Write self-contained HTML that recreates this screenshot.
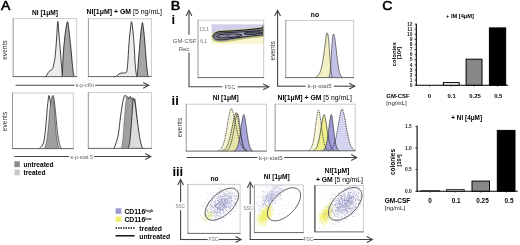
<!DOCTYPE html>
<html><head><meta charset="utf-8"><style>
html,body{margin:0;padding:0;background:#fff;width:520px;height:245px;overflow:hidden}
svg{display:block;filter:blur(0.35px)}
text{font-family:"Liberation Sans", sans-serif}
</style></head><body>
<svg width="520" height="245" viewBox="0 0 520 245">
<rect width="520" height="245" fill="#fff"/>
<text x="0" y="0" font-size="12.4" font-weight="normal" text-anchor="start" fill="#000" stroke="#000" stroke-width="0.55" transform="translate(0.9,9.8) scale(1.13,1)">A</text>
<text x="45" y="14.5" font-size="6.6" font-weight="bold" text-anchor="middle" fill="#000" >NI [1μM]</text>
<text x="86.6" y="14.3" font-size="6.95" fill="#000"><tspan font-weight="bold">NI[1μM] + GM </tspan><tspan>[5 ng/mL]</tspan></text>
<path d="M44.50,77.00 C44.80,76.83 45.67,76.75 46.30,76.00 C46.93,75.25 47.68,73.42 48.30,72.50 C48.92,71.58 49.47,70.92 50.00,70.50 C50.53,70.08 51.05,70.33 51.50,70.00 C51.95,69.67 52.28,69.67 52.70,68.50 C53.12,67.33 53.58,65.08 54.00,63.00 C54.42,60.92 54.78,59.83 55.20,56.00 C55.62,52.17 56.15,44.83 56.50,40.00 C56.85,35.17 57.10,30.08 57.30,27.00 C57.50,23.92 57.55,22.00 57.70,21.50 C57.85,21.00 57.98,21.75 58.20,24.00 C58.42,26.25 58.67,30.93 59.00,35.00 C59.33,39.07 59.83,43.90 60.20,48.40 C60.57,52.90 60.85,57.73 61.20,62.00 C61.55,66.27 62.00,71.50 62.30,74.00 C62.60,76.50 62.88,76.50 63.00,77.00 Z" fill="#ececec" stroke="none"/>
<path d="M44.50,77.00 C44.80,76.83 45.67,76.75 46.30,76.00 C46.93,75.25 47.68,73.42 48.30,72.50 C48.92,71.58 49.47,70.92 50.00,70.50 C50.53,70.08 51.05,70.33 51.50,70.00 C51.95,69.67 52.28,69.67 52.70,68.50 C53.12,67.33 53.58,65.08 54.00,63.00 C54.42,60.92 54.78,59.83 55.20,56.00 C55.62,52.17 56.15,44.83 56.50,40.00 C56.85,35.17 57.10,30.08 57.30,27.00 C57.50,23.92 57.55,22.00 57.70,21.50 C57.85,21.00 57.98,21.75 58.20,24.00 C58.42,26.25 58.67,30.93 59.00,35.00 C59.33,39.07 59.83,43.90 60.20,48.40 C60.57,52.90 60.85,57.73 61.20,62.00 C61.55,66.27 62.00,71.50 62.30,74.00 C62.60,76.50 62.88,76.50 63.00,77.00" fill="none" stroke="#111" stroke-width="0.8" />
<path d="M61.50,77.00 C61.63,76.50 62.00,77.93 62.30,74.00 C62.60,70.07 62.93,59.07 63.30,53.40 C63.67,47.73 64.05,44.23 64.50,40.00 C64.95,35.77 65.53,31.00 66.00,28.00 C66.47,25.00 66.97,22.83 67.30,22.00 C67.63,21.17 67.72,21.50 68.00,23.00 C68.28,24.50 68.60,27.62 69.00,31.00 C69.40,34.38 69.98,39.30 70.40,43.30 C70.82,47.30 71.15,51.22 71.50,55.00 C71.85,58.78 72.17,62.83 72.50,66.00 C72.83,69.17 73.20,72.17 73.50,74.00 C73.80,75.83 74.17,76.50 74.30,77.00 Z" fill="#a6a6a6" stroke="none"/>
<path d="M61.50,77.00 C61.63,76.50 62.00,77.93 62.30,74.00 C62.60,70.07 62.93,59.07 63.30,53.40 C63.67,47.73 64.05,44.23 64.50,40.00 C64.95,35.77 65.53,31.00 66.00,28.00 C66.47,25.00 66.97,22.83 67.30,22.00 C67.63,21.17 67.72,21.50 68.00,23.00 C68.28,24.50 68.60,27.62 69.00,31.00 C69.40,34.38 69.98,39.30 70.40,43.30 C70.82,47.30 71.15,51.22 71.50,55.00 C71.85,58.78 72.17,62.83 72.50,66.00 C72.83,69.17 73.20,72.17 73.50,74.00 C73.80,75.83 74.17,76.50 74.30,77.00" fill="none" stroke="#111" stroke-width="0.8" />
<line x1="13.2" y1="18.6" x2="76.7" y2="18.6" stroke="#b4b4b4" stroke-width="0.7" />
<line x1="76.7" y1="18.6" x2="76.7" y2="76.6" stroke="#b4b4b4" stroke-width="0.7" />
<line x1="13.2" y1="18.25" x2="13.2" y2="76.6" stroke="#8c8c8c" stroke-width="0.9" />
<line x1="12.75" y1="76.6" x2="77.05" y2="76.6" stroke="#555" stroke-width="0.9" />
<path d="M114.00,77.00 C114.38,76.87 115.30,76.80 116.30,76.20 C117.30,75.60 118.88,73.93 120.00,73.40 C121.12,72.87 121.92,73.20 123.00,73.00 C124.08,72.80 125.72,73.77 126.50,72.20 C127.28,70.63 127.28,68.42 127.70,63.60 C128.12,58.78 128.53,49.23 129.00,43.30 C129.47,37.37 130.08,31.60 130.50,28.00 C130.92,24.40 131.17,21.87 131.50,21.70 C131.83,21.53 132.08,23.40 132.50,27.00 C132.92,30.60 133.53,36.80 134.00,43.30 C134.47,49.80 134.87,60.60 135.30,66.00 C135.73,71.40 136.32,73.87 136.60,75.70 C136.88,77.53 136.93,76.78 137.00,77.00 Z" fill="#ececec" stroke="none"/>
<path d="M114.00,77.00 C114.38,76.87 115.30,76.80 116.30,76.20 C117.30,75.60 118.88,73.93 120.00,73.40 C121.12,72.87 121.92,73.20 123.00,73.00 C124.08,72.80 125.72,73.77 126.50,72.20 C127.28,70.63 127.28,68.42 127.70,63.60 C128.12,58.78 128.53,49.23 129.00,43.30 C129.47,37.37 130.08,31.60 130.50,28.00 C130.92,24.40 131.17,21.87 131.50,21.70 C131.83,21.53 132.08,23.40 132.50,27.00 C132.92,30.60 133.53,36.80 134.00,43.30 C134.47,49.80 134.87,60.60 135.30,66.00 C135.73,71.40 136.32,73.87 136.60,75.70 C136.88,77.53 136.93,76.78 137.00,77.00" fill="none" stroke="#111" stroke-width="0.8" />
<path d="M136.80,77.00 C136.88,76.78 137.13,77.10 137.30,75.70 C137.47,74.30 137.37,74.00 137.80,68.60 C138.23,63.20 139.32,49.90 139.90,43.30 C140.48,36.70 140.88,32.45 141.30,29.00 C141.72,25.55 142.03,22.60 142.40,22.60 C142.77,22.60 143.08,25.55 143.50,29.00 C143.92,32.45 144.37,37.13 144.90,43.30 C145.43,49.47 146.18,60.60 146.70,66.00 C147.22,71.40 147.68,73.87 148.00,75.70 C148.32,77.53 148.50,76.78 148.60,77.00 Z" fill="#a6a6a6" stroke="none"/>
<path d="M136.80,77.00 C136.88,76.78 137.13,77.10 137.30,75.70 C137.47,74.30 137.37,74.00 137.80,68.60 C138.23,63.20 139.32,49.90 139.90,43.30 C140.48,36.70 140.88,32.45 141.30,29.00 C141.72,25.55 142.03,22.60 142.40,22.60 C142.77,22.60 143.08,25.55 143.50,29.00 C143.92,32.45 144.37,37.13 144.90,43.30 C145.43,49.47 146.18,60.60 146.70,66.00 C147.22,71.40 147.68,73.87 148.00,75.70 C148.32,77.53 148.50,76.78 148.60,77.00" fill="none" stroke="#111" stroke-width="0.8" />
<line x1="88.4" y1="18.7" x2="151.4" y2="18.7" stroke="#b4b4b4" stroke-width="0.7" />
<line x1="151.4" y1="18.7" x2="151.4" y2="76.6" stroke="#b4b4b4" stroke-width="0.7" />
<line x1="88.4" y1="18.349999999999998" x2="88.4" y2="76.6" stroke="#8c8c8c" stroke-width="0.9" />
<line x1="87.95" y1="76.6" x2="151.75" y2="76.6" stroke="#555" stroke-width="0.9" />
<text x="0" y="0" font-size="6.6" font-weight="normal" text-anchor="middle" fill="#333" transform="translate(7.1,50.1) rotate(-90)">events</text>
<line x1="15.6" y1="85.3" x2="148.8" y2="85.3" stroke="#444" stroke-width="1.1" />
<path d="M143.20000000000002,82.39999999999999 L148.8,85.3 L143.20000000000002,88.2" fill="none" stroke="#444" stroke-width="1.1"/>
<rect x="74.55" y="81.86" width="20.5" height="5.940000000000001" fill="#fff" stroke="none" stroke-width="1" />
<text x="84.8" y="86.99" font-size="5.4" font-weight="normal" text-anchor="middle" fill="#666" >κ-p-cKit</text>
<path d="M38.50,148.60 C38.75,148.47 39.18,148.70 40.00,147.80 C40.82,146.90 42.50,146.08 43.40,143.20 C44.30,140.32 44.78,135.98 45.40,130.50 C46.02,125.02 46.62,115.55 47.10,110.30 C47.58,105.05 48.00,101.45 48.30,99.00 C48.60,96.55 48.70,95.93 48.90,95.60 C49.10,95.27 49.23,95.77 49.50,97.00 C49.77,98.23 50.08,100.00 50.50,103.00 C50.92,106.00 51.50,110.50 52.00,115.00 C52.50,119.50 53.00,125.50 53.50,130.00 C54.00,134.50 54.50,138.90 55.00,142.00 C55.50,145.10 56.25,147.50 56.50,148.60 Z" fill="#f6f6f6" stroke="none"/>
<path d="M38.50,148.60 C38.75,148.47 39.18,148.70 40.00,147.80 C40.82,146.90 42.50,146.08 43.40,143.20 C44.30,140.32 44.78,135.98 45.40,130.50 C46.02,125.02 46.62,115.55 47.10,110.30 C47.58,105.05 48.00,101.45 48.30,99.00 C48.60,96.55 48.70,95.93 48.90,95.60 C49.10,95.27 49.23,95.77 49.50,97.00 C49.77,98.23 50.08,100.00 50.50,103.00 C50.92,106.00 51.50,110.50 52.00,115.00 C52.50,119.50 53.00,125.50 53.50,130.00 C54.00,134.50 54.50,138.90 55.00,142.00 C55.50,145.10 56.25,147.50 56.50,148.60" fill="none" stroke="#111" stroke-width="0.8" />
<path d="M46.00,148.60 C46.33,147.67 47.42,146.02 48.00,143.00 C48.58,139.98 49.03,135.95 49.50,130.50 C49.97,125.05 50.38,115.55 50.80,110.30 C51.22,105.05 51.65,101.42 52.00,99.00 C52.35,96.58 52.60,95.97 52.90,95.80 C53.20,95.63 53.38,95.58 53.80,98.00 C54.22,100.42 54.82,104.88 55.40,110.30 C55.98,115.72 56.65,125.02 57.30,130.50 C57.95,135.98 58.63,140.25 59.30,143.20 C59.97,146.15 60.85,147.30 61.30,148.20 C61.75,149.10 61.88,148.53 62.00,148.60 Z" fill="#d0d0d0" stroke="none"/>
<path d="M46.00,148.60 C46.33,147.67 47.42,146.02 48.00,143.00 C48.58,139.98 49.03,135.95 49.50,130.50 C49.97,125.05 50.38,115.55 50.80,110.30 C51.22,105.05 51.65,101.42 52.00,99.00 C52.35,96.58 52.60,95.97 52.90,95.80 C53.20,95.63 53.38,95.58 53.80,98.00 C54.22,100.42 54.82,104.88 55.40,110.30 C55.98,115.72 56.65,125.02 57.30,130.50 C57.95,135.98 58.63,140.25 59.30,143.20 C59.97,146.15 60.85,147.30 61.30,148.20 C61.75,149.10 61.88,148.53 62.00,148.60" fill="none" stroke="#222" stroke-width="0.7" />
<path d="M44.50,148.60 C44.80,147.67 45.70,146.02 46.30,143.00 C46.90,139.98 47.52,135.95 48.10,130.50 C48.68,125.05 49.23,115.55 49.80,110.30 C50.37,105.05 51.02,101.45 51.50,99.00 C51.98,96.55 52.38,95.77 52.70,95.60 C53.02,95.43 53.12,95.55 53.40,98.00 C53.68,100.45 54.00,104.88 54.40,110.30 C54.80,115.72 55.32,125.02 55.80,130.50 C56.28,135.98 56.80,140.25 57.30,143.20 C57.80,146.15 58.43,147.30 58.80,148.20 C59.17,149.10 59.38,148.53 59.50,148.60 Z" fill="#a0a0a0" stroke="none"/>
<path d="M44.50,148.60 C44.80,147.67 45.70,146.02 46.30,143.00 C46.90,139.98 47.52,135.95 48.10,130.50 C48.68,125.05 49.23,115.55 49.80,110.30 C50.37,105.05 51.02,101.45 51.50,99.00 C51.98,96.55 52.38,95.77 52.70,95.60 C53.02,95.43 53.12,95.55 53.40,98.00 C53.68,100.45 54.00,104.88 54.40,110.30 C54.80,115.72 55.32,125.02 55.80,130.50 C56.28,135.98 56.80,140.25 57.30,143.20 C57.80,146.15 58.43,147.30 58.80,148.20 C59.17,149.10 59.38,148.53 59.50,148.60" fill="none" stroke="#333" stroke-width="0.5" />
<line x1="12.5" y1="93.0" x2="73.4" y2="93.0" stroke="#b4b4b4" stroke-width="0.7" />
<line x1="73.4" y1="93.0" x2="73.4" y2="148.6" stroke="#b4b4b4" stroke-width="0.7" />
<line x1="12.5" y1="92.65" x2="12.5" y2="148.6" stroke="#8c8c8c" stroke-width="0.9" />
<line x1="12.05" y1="148.6" x2="73.75" y2="148.6" stroke="#555" stroke-width="0.9" />
<path d="M113.80,148.40 C113.88,148.28 113.58,149.83 114.30,147.70 C115.02,145.57 117.03,141.00 118.10,135.60 C119.17,130.20 119.85,121.22 120.70,115.30 C121.55,109.38 122.45,103.47 123.20,100.10 C123.95,96.73 124.67,95.53 125.20,95.10 C125.73,94.67 125.98,97.22 126.40,97.50 C126.82,97.78 127.27,96.55 127.70,96.80 C128.13,97.05 128.57,99.08 129.00,99.00 C129.43,98.92 129.88,96.30 130.30,96.30 C130.72,96.30 131.13,98.22 131.50,99.00 C131.87,99.78 132.17,98.33 132.50,101.00 C132.83,103.67 133.17,110.17 133.50,115.00 C133.83,119.83 134.17,125.50 134.50,130.00 C134.83,134.50 135.17,138.93 135.50,142.00 C135.83,145.07 136.33,147.33 136.50,148.40 Z" fill="#fafafa" stroke="none"/>
<path d="M113.80,148.40 C113.88,148.28 113.58,149.83 114.30,147.70 C115.02,145.57 117.03,141.00 118.10,135.60 C119.17,130.20 119.85,121.22 120.70,115.30 C121.55,109.38 122.45,103.47 123.20,100.10 C123.95,96.73 124.67,95.53 125.20,95.10 C125.73,94.67 125.98,97.22 126.40,97.50 C126.82,97.78 127.27,96.55 127.70,96.80 C128.13,97.05 128.57,99.08 129.00,99.00 C129.43,98.92 129.88,96.30 130.30,96.30 C130.72,96.30 131.13,98.22 131.50,99.00 C131.87,99.78 132.17,98.33 132.50,101.00 C132.83,103.67 133.17,110.17 133.50,115.00 C133.83,119.83 134.17,125.50 134.50,130.00 C134.83,134.50 135.17,138.93 135.50,142.00 C135.83,145.07 136.33,147.33 136.50,148.40" fill="none" stroke="#111" stroke-width="0.8" />
<path d="M121.30,148.40 C121.55,147.00 122.30,144.73 122.80,140.00 C123.30,135.27 123.80,126.17 124.30,120.00 C124.80,113.83 125.30,106.83 125.80,103.00 C126.30,99.17 126.83,97.67 127.30,97.00 C127.77,96.33 128.17,99.00 128.60,99.00 C129.03,99.00 129.45,96.83 129.90,97.00 C130.35,97.17 130.85,99.92 131.30,100.00 C131.75,100.08 132.17,97.50 132.60,97.50 C133.03,97.50 133.48,99.75 133.90,100.00 C134.32,100.25 134.70,97.33 135.10,99.00 C135.50,100.67 135.90,105.67 136.30,110.00 C136.70,114.33 137.08,120.00 137.50,125.00 C137.92,130.00 138.25,136.10 138.80,140.00 C139.35,143.90 140.47,147.00 140.80,148.40 Z" fill="#a0a0a0" stroke="none"/>
<path d="M121.30,148.40 C121.55,147.00 122.30,144.73 122.80,140.00 C123.30,135.27 123.80,126.17 124.30,120.00 C124.80,113.83 125.30,106.83 125.80,103.00 C126.30,99.17 126.83,97.67 127.30,97.00 C127.77,96.33 128.17,99.00 128.60,99.00 C129.03,99.00 129.45,96.83 129.90,97.00 C130.35,97.17 130.85,99.92 131.30,100.00 C131.75,100.08 132.17,97.50 132.60,97.50 C133.03,97.50 133.48,99.75 133.90,100.00 C134.32,100.25 134.70,97.33 135.10,99.00 C135.50,100.67 135.90,105.67 136.30,110.00 C136.70,114.33 137.08,120.00 137.50,125.00 C137.92,130.00 138.25,136.10 138.80,140.00 C139.35,143.90 140.47,147.00 140.80,148.40" fill="none" stroke="#333" stroke-width="0.4" />
<path d="M128.50,148.40 C128.75,147.00 129.45,145.07 130.00,140.00 C130.55,134.93 131.30,124.50 131.80,118.00 C132.30,111.50 132.63,104.18 133.00,101.00 C133.37,97.82 133.63,98.40 134.00,98.90 C134.37,99.40 134.77,101.27 135.20,104.00 C135.63,106.73 135.97,110.47 136.60,115.30 C137.23,120.13 138.30,128.38 139.00,133.00 C139.70,137.62 140.23,140.55 140.80,143.00 C141.37,145.45 141.98,146.80 142.40,147.70 C142.82,148.60 143.15,148.28 143.30,148.40 Z" fill="#dcdcdc" stroke="none"/>
<path d="M128.50,148.40 C128.75,147.00 129.45,145.07 130.00,140.00 C130.55,134.93 131.30,124.50 131.80,118.00 C132.30,111.50 132.63,104.18 133.00,101.00 C133.37,97.82 133.63,98.40 134.00,98.90 C134.37,99.40 134.77,101.27 135.20,104.00 C135.63,106.73 135.97,110.47 136.60,115.30 C137.23,120.13 138.30,128.38 139.00,133.00 C139.70,137.62 140.23,140.55 140.80,143.00 C141.37,145.45 141.98,146.80 142.40,147.70 C142.82,148.60 143.15,148.28 143.30,148.40" fill="none" stroke="#111" stroke-width="0.8" />
<line x1="88.3" y1="92.6" x2="151.5" y2="92.6" stroke="#b4b4b4" stroke-width="0.7" />
<line x1="151.5" y1="92.6" x2="151.5" y2="148.4" stroke="#b4b4b4" stroke-width="0.7" />
<line x1="88.3" y1="92.25" x2="88.3" y2="148.4" stroke="#8c8c8c" stroke-width="0.9" />
<line x1="87.85" y1="148.4" x2="151.85" y2="148.4" stroke="#555" stroke-width="0.9" />
<text x="0" y="0" font-size="6.6" font-weight="normal" text-anchor="middle" fill="#333" transform="translate(7.1,121.5) rotate(-90)">events</text>
<line x1="14.4" y1="156.5" x2="150.8" y2="156.5" stroke="#444" stroke-width="1.1" />
<path d="M145.20000000000002,153.6 L150.8,156.5 L145.20000000000002,159.4" fill="none" stroke="#444" stroke-width="1.1"/>
<rect x="69.2" y="153.45999999999998" width="25" height="5.940000000000001" fill="#fff" stroke="none" stroke-width="1" />
<text x="81.7" y="158.58999999999997" font-size="5.4" font-weight="normal" text-anchor="middle" fill="#666" >κ-p-stat 5</text>
<rect x="14.4" y="161.3" width="5.4" height="5.8" fill="#8a8a8a" stroke="none" stroke-width="1" />
<rect x="14.4" y="169.6" width="5.4" height="5.8" fill="#c8c8c8" stroke="none" stroke-width="1" />
<text x="23.5" y="166.9" font-size="6.6" font-weight="bold" text-anchor="start" fill="#000" >untreated</text>
<text x="23.5" y="175.2" font-size="6.6" font-weight="bold" text-anchor="start" fill="#000" >treated</text>
<text x="0" y="0" font-size="12.4" font-weight="normal" text-anchor="start" fill="#000" stroke="#000" stroke-width="0.6" transform="translate(170.8,9.7) scale(1.15,1)">B</text>
<text x="171.6" y="24.0" font-size="13" font-weight="bold" text-anchor="start" fill="#000" >i</text>
<rect x="211.6" y="24.3" width="52.1" height="9" fill="#d0d0ea" stroke="none" stroke-width="1" />
<rect x="211.6" y="33.3" width="52.1" height="10.6" fill="#f7f7d0" stroke="none" stroke-width="1" />
<path d="M212.3,37 C212.3,33 216,31.3 224,31 C236,30.6 250,29.5 263.5,27.6 L263.5,36.4 C250,37.5 238,39.6 226,41.3 C217,42.4 212.3,41.2 212.3,37 Z" fill="#8484a4" stroke="#c4c470" stroke-width="1.3"/>
<path d="M212.8,37 C212.8,33.3 216,31.6 224,31.3 C236,30.9 250,29.8 263.5,27.9" fill="none" stroke="#111" stroke-width="1.0"/>
<path d="M214.6,36.9 C214.6,34.2 218,33 226,32.7 C238,32.3 250,31.4 262.8,30.2 L262.8,34.8 C250,35.9 238,37.7 226,39.3 C218,40.3 214.6,39.7 214.6,36.9 Z" fill="#a8a8b8" stroke="#111" stroke-width="0.8"/>
<path d="M216.5,36.8 C216.5,35.1 220,34.2 228,34 C236,33.8 242,33.9 242,35.2 C242,36.5 236,37.2 228,37.8 C220,38.3 216.5,38.3 216.5,36.8 Z" fill="#70708a" stroke="#000" stroke-width="0.7"/>
<path d="M244,33.6 C244,32.6 248,32.1 253,31.9 C258,31.7 262,31.6 262,32.7 C262,33.6 257,34.1 252,34.4 C247,34.7 244,34.6 244,33.6 Z" fill="#60607a" stroke="#000" stroke-width="0.7"/>
<path d="M220,36.3 L226,35.8 M230,35.4 L236,35.2" stroke="#c8c8d4" stroke-width="0.6"/>
<path d="M261,28.2 L263.5,24.5 L263.5,33 Z" fill="#555"/>
<line x1="198" y1="20.2" x2="263.7" y2="20.2" stroke="#b4b4b4" stroke-width="0.7" />
<line x1="263.7" y1="20.2" x2="263.7" y2="77.6" stroke="#b4b4b4" stroke-width="0.7" />
<line x1="198" y1="19.849999999999998" x2="198" y2="77.6" stroke="#8c8c8c" stroke-width="0.9" />
<line x1="197.55" y1="77.6" x2="264.05" y2="77.6" stroke="#555" stroke-width="0.9" />
<rect x="199" y="26.5" width="11" height="5" fill="#fff" stroke="none" stroke-width="1" />
<text x="199.3" y="31" font-size="5.0" font-weight="normal" text-anchor="start" fill="#777" >13,1</text>
<rect x="199.5" y="38.5" width="9" height="5" fill="#fff" stroke="none" stroke-width="1" />
<text x="200.2" y="42.7" font-size="5.0" font-weight="normal" text-anchor="start" fill="#777" >6,1</text>
<line x1="189" y1="10.4" x2="189" y2="34.8" stroke="#444" stroke-width="1.1" />
<path d="M186.1,16.0 L189,10.4 L191.9,16.0" fill="none" stroke="#444" stroke-width="1.1"/>
<line x1="189" y1="52.5" x2="189" y2="86.8" stroke="#444" stroke-width="1.1" />
<line x1="188.45" y1="86.8" x2="222.5" y2="86.8" stroke="#444" stroke-width="1.1" />
<line x1="237.5" y1="86.8" x2="268.8" y2="86.8" stroke="#444" stroke-width="1.1" />
<path d="M263.2,83.89999999999999 L268.8,86.8 L263.2,89.7" fill="none" stroke="#444" stroke-width="1.1"/>
<text x="230" y="88.8" font-size="5.6" font-weight="normal" text-anchor="middle" fill="#666" >FSC</text>
<text x="184.6" y="42.7" font-size="6.0" font-weight="normal" text-anchor="middle" fill="#555" >GM-CSF</text>
<text x="184.8" y="50.8" font-size="6.0" font-weight="normal" text-anchor="middle" fill="#555" >Rec.</text>
<text x="315" y="16.8" font-size="6.8" font-weight="bold" text-anchor="middle" fill="#000" >no</text>
<path d="M315.39,77.06 C315.39,77.15 315.32,77.62 315.39,77.60 C315.45,77.58 315.65,77.07 315.79,76.93 C315.92,76.79 316.05,76.83 316.19,76.77 C316.32,76.71 316.45,76.64 316.59,76.57 C316.72,76.50 316.85,76.42 316.99,76.33 C317.12,76.24 317.25,76.14 317.39,76.04 C317.52,75.93 317.65,75.82 317.79,75.69 C317.92,75.56 318.05,75.42 318.19,75.27 C318.32,75.11 318.45,74.95 318.59,74.77 C318.72,74.58 318.85,74.39 318.99,74.17 C319.12,73.96 319.25,73.73 319.39,73.47 C319.52,73.22 319.65,72.95 319.79,72.65 C319.92,72.35 320.05,72.04 320.19,71.69 C320.32,71.35 320.45,70.98 320.59,70.58 C320.72,70.18 320.85,69.76 320.99,69.30 C321.12,68.84 321.25,68.35 321.39,67.83 C321.52,67.31 321.65,66.76 321.79,66.17 C321.92,65.58 322.05,64.96 322.19,64.29 C322.32,63.63 322.45,62.93 322.59,62.20 C322.72,61.46 322.85,60.69 322.99,59.88 C323.12,59.07 323.25,58.22 323.39,57.34 C323.52,56.46 323.65,55.54 323.79,54.60 C323.92,53.65 324.05,52.67 324.19,51.66 C324.32,50.66 324.45,49.62 324.59,48.58 C324.72,47.54 324.85,46.46 324.99,45.40 C325.12,44.34 325.25,43.26 325.39,42.21 C325.52,41.16 325.65,40.11 325.79,39.12 C325.92,38.13 326.05,37.14 326.19,36.28 C326.32,35.42 326.47,34.52 326.59,33.96 C326.70,33.39 326.83,33.08 326.90,32.90 C326.97,32.72 326.90,32.87 326.99,32.90 C327.07,32.94 327.25,32.93 327.39,33.12 C327.52,33.31 327.65,33.56 327.79,34.05 C327.92,34.54 328.05,35.18 328.19,36.06 C328.32,36.94 328.45,38.04 328.59,39.33 C328.72,40.63 328.85,42.17 328.99,43.83 C329.12,45.48 329.25,47.37 329.39,49.26 C329.52,51.15 329.65,53.21 329.79,55.16 C329.92,57.11 330.05,59.13 330.19,60.95 C330.32,62.77 330.45,64.55 330.59,66.10 C330.72,67.65 330.85,69.06 330.99,70.26 C331.12,71.45 331.25,72.45 331.39,73.29 C331.52,74.13 331.65,74.76 331.79,75.29 C331.92,75.82 332.06,76.09 332.19,76.48 C332.31,76.86 332.48,77.41 332.54,77.60 Z" fill="#f0f0c4" stroke="none"/>
<path d="M328.90,77.08 C328.90,77.16 328.84,77.73 328.90,77.60 C328.97,77.47 329.17,76.78 329.30,76.30 C329.44,75.83 329.57,75.47 329.70,74.76 C329.84,74.06 329.97,73.21 330.10,72.08 C330.24,70.95 330.37,69.58 330.50,67.97 C330.64,66.37 330.77,64.46 330.90,62.45 C331.04,60.44 331.17,58.14 331.30,55.92 C331.44,53.70 331.57,51.29 331.70,49.14 C331.84,46.99 331.97,44.82 332.10,43.01 C332.24,41.21 332.37,39.57 332.50,38.30 C332.64,37.03 332.77,36.08 332.90,35.38 C333.04,34.69 333.19,34.39 333.30,34.16 C333.42,33.93 333.53,34.02 333.60,34.00 C333.67,33.98 333.62,33.90 333.70,34.04 C333.79,34.18 333.97,34.43 334.10,34.84 C334.24,35.25 334.37,35.83 334.50,36.50 C334.64,37.17 334.77,37.99 334.90,38.88 C335.04,39.76 335.17,40.76 335.30,41.81 C335.44,42.85 335.57,43.98 335.70,45.13 C335.84,46.27 335.97,47.48 336.10,48.67 C336.24,49.86 336.37,51.09 336.50,52.28 C336.64,53.48 336.77,54.68 336.90,55.84 C337.04,56.99 337.17,58.13 337.30,59.21 C337.44,60.29 337.57,61.34 337.70,62.33 C337.84,63.32 337.97,64.26 338.10,65.13 C338.24,66.01 338.37,66.83 338.50,67.59 C338.64,68.35 338.77,69.06 338.90,69.70 C339.04,70.35 339.17,70.93 339.30,71.47 C339.44,72.00 339.57,72.48 339.70,72.92 C339.84,73.35 339.97,73.74 340.10,74.08 C340.24,74.43 340.37,74.73 340.50,75.00 C340.64,75.27 340.77,75.50 340.90,75.71 C341.04,75.92 341.17,76.09 341.30,76.25 C341.44,76.40 341.57,76.53 341.70,76.65 C341.84,76.76 341.99,76.78 342.10,76.94 C342.21,77.10 342.31,77.49 342.35,77.60 Z" fill="#c2c2e8" stroke="none"/>
<path d="M315.39,77.06 C315.39,77.15 315.32,77.62 315.39,77.60 C315.45,77.58 315.65,77.07 315.79,76.93 C315.92,76.79 316.05,76.83 316.19,76.77 C316.32,76.71 316.45,76.64 316.59,76.57 C316.72,76.50 316.85,76.42 316.99,76.33 C317.12,76.24 317.25,76.14 317.39,76.04 C317.52,75.93 317.65,75.82 317.79,75.69 C317.92,75.56 318.05,75.42 318.19,75.27 C318.32,75.11 318.45,74.95 318.59,74.77 C318.72,74.58 318.85,74.39 318.99,74.17 C319.12,73.96 319.25,73.73 319.39,73.47 C319.52,73.22 319.65,72.95 319.79,72.65 C319.92,72.35 320.05,72.04 320.19,71.69 C320.32,71.35 320.45,70.98 320.59,70.58 C320.72,70.18 320.85,69.76 320.99,69.30 C321.12,68.84 321.25,68.35 321.39,67.83 C321.52,67.31 321.65,66.76 321.79,66.17 C321.92,65.58 322.05,64.96 322.19,64.29 C322.32,63.63 322.45,62.93 322.59,62.20 C322.72,61.46 322.85,60.69 322.99,59.88 C323.12,59.07 323.25,58.22 323.39,57.34 C323.52,56.46 323.65,55.54 323.79,54.60 C323.92,53.65 324.05,52.67 324.19,51.66 C324.32,50.66 324.45,49.62 324.59,48.58 C324.72,47.54 324.85,46.46 324.99,45.40 C325.12,44.34 325.25,43.26 325.39,42.21 C325.52,41.16 325.65,40.11 325.79,39.12 C325.92,38.13 326.05,37.14 326.19,36.28 C326.32,35.42 326.47,34.52 326.59,33.96 C326.70,33.39 326.83,33.08 326.90,32.90 C326.97,32.72 326.90,32.87 326.99,32.90 C327.07,32.94 327.25,32.93 327.39,33.12 C327.52,33.31 327.65,33.56 327.79,34.05 C327.92,34.54 328.05,35.18 328.19,36.06 C328.32,36.94 328.45,38.04 328.59,39.33 C328.72,40.63 328.85,42.17 328.99,43.83 C329.12,45.48 329.25,47.37 329.39,49.26 C329.52,51.15 329.65,53.21 329.79,55.16 C329.92,57.11 330.05,59.13 330.19,60.95 C330.32,62.77 330.45,64.55 330.59,66.10 C330.72,67.65 330.85,69.06 330.99,70.26 C331.12,71.45 331.25,72.45 331.39,73.29 C331.52,74.13 331.65,74.76 331.79,75.29 C331.92,75.82 332.06,76.09 332.19,76.48 C332.31,76.86 332.48,77.41 332.54,77.60" fill="none" stroke="#444" stroke-width="0.7" />
<path d="M328.90,77.08 C328.90,77.16 328.84,77.73 328.90,77.60 C328.97,77.47 329.17,76.78 329.30,76.30 C329.44,75.83 329.57,75.47 329.70,74.76 C329.84,74.06 329.97,73.21 330.10,72.08 C330.24,70.95 330.37,69.58 330.50,67.97 C330.64,66.37 330.77,64.46 330.90,62.45 C331.04,60.44 331.17,58.14 331.30,55.92 C331.44,53.70 331.57,51.29 331.70,49.14 C331.84,46.99 331.97,44.82 332.10,43.01 C332.24,41.21 332.37,39.57 332.50,38.30 C332.64,37.03 332.77,36.08 332.90,35.38 C333.04,34.69 333.19,34.39 333.30,34.16 C333.42,33.93 333.53,34.02 333.60,34.00 C333.67,33.98 333.62,33.90 333.70,34.04 C333.79,34.18 333.97,34.43 334.10,34.84 C334.24,35.25 334.37,35.83 334.50,36.50 C334.64,37.17 334.77,37.99 334.90,38.88 C335.04,39.76 335.17,40.76 335.30,41.81 C335.44,42.85 335.57,43.98 335.70,45.13 C335.84,46.27 335.97,47.48 336.10,48.67 C336.24,49.86 336.37,51.09 336.50,52.28 C336.64,53.48 336.77,54.68 336.90,55.84 C337.04,56.99 337.17,58.13 337.30,59.21 C337.44,60.29 337.57,61.34 337.70,62.33 C337.84,63.32 337.97,64.26 338.10,65.13 C338.24,66.01 338.37,66.83 338.50,67.59 C338.64,68.35 338.77,69.06 338.90,69.70 C339.04,70.35 339.17,70.93 339.30,71.47 C339.44,72.00 339.57,72.48 339.70,72.92 C339.84,73.35 339.97,73.74 340.10,74.08 C340.24,74.43 340.37,74.73 340.50,75.00 C340.64,75.27 340.77,75.50 340.90,75.71 C341.04,75.92 341.17,76.09 341.30,76.25 C341.44,76.40 341.57,76.53 341.70,76.65 C341.84,76.76 341.99,76.78 342.10,76.94 C342.21,77.10 342.31,77.49 342.35,77.60" fill="none" stroke="#444" stroke-width="0.7" />
<line x1="285.8" y1="20.4" x2="353.6" y2="20.4" stroke="#b4b4b4" stroke-width="0.7" />
<line x1="353.6" y1="20.4" x2="353.6" y2="77.6" stroke="#b4b4b4" stroke-width="0.7" />
<line x1="285.8" y1="20.049999999999997" x2="285.8" y2="77.6" stroke="#8c8c8c" stroke-width="0.9" />
<line x1="285.35" y1="77.6" x2="353.95000000000005" y2="77.6" stroke="#555" stroke-width="0.9" />
<text x="0" y="0" font-size="6.6" font-weight="normal" text-anchor="middle" fill="#333" transform="translate(275,50.8) rotate(-90)">events</text>
<line x1="277.6" y1="10.4" x2="277.6" y2="86.2" stroke="#444" stroke-width="1.1" />
<path d="M274.70000000000005,16.0 L277.6,10.4 L280.5,16.0" fill="none" stroke="#444" stroke-width="1.1"/>
<line x1="277.05" y1="86.2" x2="305.6" y2="86.2" stroke="#444" stroke-width="1.1" />
<line x1="333.9" y1="86.2" x2="354.8" y2="86.2" stroke="#444" stroke-width="1.1" />
<path d="M349.2,83.3 L354.8,86.2 L349.2,89.10000000000001" fill="none" stroke="#444" stroke-width="1.1"/>
<text x="319.6" y="88.4" font-size="6.2" font-weight="normal" text-anchor="middle" fill="#555" >k-p-stat5</text>
<text x="171.6" y="104.7" font-size="13" font-weight="bold" text-anchor="start" fill="#000" >ii</text>
<text x="225.7" y="100.3" font-size="6.6" font-weight="bold" text-anchor="middle" fill="#000" >NI [1μM]</text>
<text x="314.7" y="99.9" font-size="6.85" font-weight="normal" text-anchor="middle" fill="#000" ><tspan font-weight="bold">NI[1μM] + GM </tspan><tspan>[5 ng/mL]</tspan></text>
<path d="M217.67,151.20 C217.75,151.12 218.00,150.84 218.17,150.73 C218.33,150.63 218.50,150.63 218.67,150.57 C218.83,150.50 219.00,150.43 219.17,150.35 C219.33,150.26 219.50,150.17 219.67,150.06 C219.83,149.95 220.00,149.84 220.17,149.70 C220.33,149.56 220.50,149.41 220.67,149.24 C220.83,149.06 221.00,148.87 221.17,148.66 C221.33,148.44 221.50,148.21 221.67,147.94 C221.83,147.68 222.00,147.39 222.17,147.07 C222.33,146.75 222.50,146.40 222.67,146.01 C222.83,145.63 223.00,145.21 223.17,144.75 C223.33,144.30 223.50,143.81 223.67,143.28 C223.83,142.74 224.00,142.17 224.17,141.56 C224.33,140.95 224.50,140.30 224.67,139.60 C224.83,138.91 225.00,138.17 225.17,137.40 C225.33,136.62 225.50,135.81 225.67,134.96 C225.83,134.11 226.00,133.22 226.17,132.30 C226.33,131.38 226.50,130.43 226.67,129.46 C226.83,128.49 227.00,127.49 227.17,126.49 C227.33,125.49 227.50,124.46 227.67,123.45 C227.83,122.44 228.00,121.42 228.17,120.43 C228.33,119.44 228.50,118.44 228.67,117.50 C228.83,116.57 229.00,115.64 229.17,114.79 C229.33,113.94 229.50,113.13 229.67,112.41 C229.83,111.68 230.00,111.02 230.17,110.47 C230.33,109.92 230.50,109.43 230.67,109.11 C230.83,108.78 231.08,108.61 231.17,108.50 C231.26,108.40 231.12,108.44 231.20,108.50 C231.28,108.56 231.51,108.63 231.67,108.84 C231.83,109.04 232.00,109.36 232.17,109.74 C232.33,110.11 232.50,110.57 232.67,111.07 C232.83,111.58 233.00,112.16 233.17,112.77 C233.33,113.39 233.50,114.06 233.67,114.76 C233.83,115.46 234.00,116.20 234.17,116.96 C234.33,117.72 234.50,118.52 234.67,119.33 C234.83,120.13 235.00,120.96 235.17,121.78 C235.33,122.61 235.50,123.45 235.67,124.28 C235.83,125.11 236.00,125.95 236.17,126.77 C236.33,127.59 236.50,128.41 236.67,129.21 C236.83,130.01 237.00,130.80 237.17,131.57 C237.33,132.33 237.50,133.08 237.67,133.81 C237.83,134.53 238.00,135.23 238.17,135.91 C238.33,136.58 238.50,137.24 238.67,137.86 C238.83,138.48 239.00,139.08 239.17,139.65 C239.33,140.22 239.50,140.76 239.67,141.27 C239.83,141.78 240.00,142.27 240.17,142.73 C240.33,143.19 240.50,143.62 240.67,144.02 C240.83,144.43 241.00,144.81 241.17,145.16 C241.33,145.52 241.50,145.85 241.67,146.16 C241.83,146.47 242.00,146.75 242.17,147.02 C242.33,147.29 242.50,147.53 242.67,147.76 C242.83,147.99 243.00,148.19 243.17,148.39 C243.33,148.58 243.50,148.75 243.67,148.91 C243.83,149.08 244.00,149.22 244.17,149.36 C244.33,149.49 244.50,149.61 244.67,149.72 C244.83,149.83 245.00,149.93 245.17,150.02 C245.33,150.11 245.50,150.20 245.67,150.27 C245.83,150.34 246.00,150.41 246.17,150.47 C246.33,150.53 246.50,150.58 246.67,150.63 C246.83,150.68 247.00,150.66 247.17,150.76 C247.33,150.85 247.58,151.13 247.67,151.20 Z" fill="#f4f4d4" stroke="none"/>
<path d="M221.30,151.20 C221.38,151.13 221.63,150.88 221.80,150.79 C221.96,150.70 222.13,150.71 222.30,150.66 C222.46,150.61 222.63,150.55 222.80,150.49 C222.96,150.43 223.13,150.36 223.30,150.28 C223.46,150.20 223.63,150.11 223.80,150.01 C223.96,149.91 224.13,149.80 224.30,149.67 C224.46,149.55 224.63,149.42 224.80,149.26 C224.96,149.11 225.13,148.95 225.30,148.76 C225.46,148.58 225.63,148.38 225.80,148.15 C225.96,147.93 226.13,147.69 226.30,147.43 C226.46,147.16 226.63,146.88 226.80,146.57 C226.96,146.26 227.13,145.92 227.30,145.56 C227.46,145.20 227.63,144.81 227.80,144.39 C227.96,143.97 228.13,143.52 228.30,143.05 C228.46,142.57 228.63,142.06 228.80,141.53 C228.96,140.99 229.13,140.42 229.30,139.82 C229.46,139.23 229.63,138.60 229.80,137.94 C229.96,137.29 230.13,136.60 230.30,135.89 C230.46,135.18 230.63,134.44 230.80,133.68 C230.96,132.92 231.13,132.14 231.30,131.34 C231.46,130.55 231.63,129.73 231.80,128.91 C231.96,128.09 232.13,127.25 232.30,126.42 C232.46,125.59 232.63,124.75 232.80,123.93 C232.96,123.11 233.13,122.29 233.30,121.50 C233.46,120.71 233.63,119.93 233.80,119.20 C233.96,118.46 234.13,117.75 234.30,117.10 C234.46,116.44 234.63,115.82 234.80,115.27 C234.96,114.73 235.13,114.23 235.30,113.82 C235.46,113.41 235.63,113.05 235.80,112.82 C235.96,112.58 236.21,112.47 236.30,112.40 C236.38,112.33 236.22,112.29 236.30,112.40 C236.38,112.51 236.63,112.69 236.80,113.08 C236.96,113.47 237.13,114.07 237.30,114.74 C237.46,115.41 237.63,116.24 237.80,117.11 C237.96,117.98 238.13,118.97 238.30,119.98 C238.46,120.99 238.63,122.09 238.80,123.17 C238.96,124.26 239.13,125.39 239.30,126.50 C239.46,127.61 239.63,128.74 239.80,129.83 C239.96,130.92 240.13,132.00 240.30,133.03 C240.46,134.06 240.63,135.07 240.80,136.02 C240.96,136.96 241.13,137.87 241.30,138.72 C241.46,139.57 241.63,140.37 241.80,141.11 C241.96,141.85 242.13,142.54 242.30,143.17 C242.46,143.80 242.63,144.38 242.80,144.91 C242.96,145.44 243.13,145.92 243.30,146.35 C243.46,146.78 243.63,147.17 243.80,147.52 C243.96,147.87 244.13,148.17 244.30,148.44 C244.46,148.72 244.63,148.96 244.80,149.17 C244.96,149.38 245.13,149.56 245.30,149.72 C245.46,149.89 245.63,150.02 245.80,150.14 C245.96,150.27 246.13,150.37 246.30,150.45 C246.46,150.54 246.63,150.56 246.80,150.68 C246.96,150.81 247.21,151.11 247.30,151.20 Z" fill="#e4e4a8" stroke="none"/>
<path d="M233.80,151.20 C233.88,151.13 234.13,150.87 234.30,150.75 C234.46,150.64 234.63,150.62 234.80,150.53 C234.96,150.44 235.13,150.34 235.30,150.21 C235.46,150.08 235.63,149.94 235.80,149.76 C235.96,149.58 236.13,149.39 236.30,149.15 C236.46,148.91 236.63,148.64 236.80,148.33 C236.96,148.01 237.13,147.66 237.30,147.25 C237.46,146.85 237.63,146.39 237.80,145.88 C237.96,145.36 238.13,144.80 238.30,144.16 C238.46,143.53 238.63,142.84 238.80,142.08 C238.96,141.32 239.13,140.49 239.30,139.60 C239.46,138.72 239.63,137.76 239.80,136.76 C239.96,135.75 240.13,134.68 240.30,133.59 C240.46,132.49 240.63,131.33 240.80,130.17 C240.96,129.02 241.13,127.81 241.30,126.65 C241.46,125.49 241.63,124.30 241.80,123.19 C241.96,122.08 242.13,120.97 242.30,119.99 C242.46,119.01 242.63,118.08 242.80,117.31 C242.96,116.55 243.13,115.86 243.30,115.40 C243.46,114.95 243.71,114.73 243.80,114.60 C243.88,114.47 243.72,114.45 243.80,114.60 C243.88,114.75 244.13,114.98 244.30,115.48 C244.46,115.98 244.63,116.74 244.80,117.58 C244.96,118.42 245.13,119.46 245.30,120.53 C245.46,121.60 245.63,122.80 245.80,124.00 C245.96,125.19 246.13,126.47 246.30,127.71 C246.46,128.95 246.63,130.22 246.80,131.43 C246.96,132.64 247.13,133.85 247.30,134.97 C247.46,136.10 247.63,137.19 247.80,138.19 C247.96,139.20 248.13,140.14 248.30,141.01 C248.46,141.88 248.63,142.68 248.80,143.40 C248.96,144.13 249.13,144.78 249.30,145.36 C249.46,145.95 249.63,146.46 249.80,146.92 C249.96,147.39 250.13,147.78 250.30,148.14 C250.46,148.49 250.63,148.78 250.80,149.05 C250.96,149.31 251.13,149.53 251.30,149.72 C251.46,149.91 251.63,150.07 251.80,150.20 C251.96,150.34 252.13,150.38 252.30,150.54 C252.46,150.71 252.71,151.09 252.80,151.20 Z" fill="#a6a6dc" stroke="none"/>
<path d="M217.67,151.20 C217.75,151.12 218.00,150.84 218.17,150.73 C218.33,150.63 218.50,150.63 218.67,150.57 C218.83,150.50 219.00,150.43 219.17,150.35 C219.33,150.26 219.50,150.17 219.67,150.06 C219.83,149.95 220.00,149.84 220.17,149.70 C220.33,149.56 220.50,149.41 220.67,149.24 C220.83,149.06 221.00,148.87 221.17,148.66 C221.33,148.44 221.50,148.21 221.67,147.94 C221.83,147.68 222.00,147.39 222.17,147.07 C222.33,146.75 222.50,146.40 222.67,146.01 C222.83,145.63 223.00,145.21 223.17,144.75 C223.33,144.30 223.50,143.81 223.67,143.28 C223.83,142.74 224.00,142.17 224.17,141.56 C224.33,140.95 224.50,140.30 224.67,139.60 C224.83,138.91 225.00,138.17 225.17,137.40 C225.33,136.62 225.50,135.81 225.67,134.96 C225.83,134.11 226.00,133.22 226.17,132.30 C226.33,131.38 226.50,130.43 226.67,129.46 C226.83,128.49 227.00,127.49 227.17,126.49 C227.33,125.49 227.50,124.46 227.67,123.45 C227.83,122.44 228.00,121.42 228.17,120.43 C228.33,119.44 228.50,118.44 228.67,117.50 C228.83,116.57 229.00,115.64 229.17,114.79 C229.33,113.94 229.50,113.13 229.67,112.41 C229.83,111.68 230.00,111.02 230.17,110.47 C230.33,109.92 230.50,109.43 230.67,109.11 C230.83,108.78 231.08,108.61 231.17,108.50 C231.26,108.40 231.12,108.44 231.20,108.50 C231.28,108.56 231.51,108.63 231.67,108.84 C231.83,109.04 232.00,109.36 232.17,109.74 C232.33,110.11 232.50,110.57 232.67,111.07 C232.83,111.58 233.00,112.16 233.17,112.77 C233.33,113.39 233.50,114.06 233.67,114.76 C233.83,115.46 234.00,116.20 234.17,116.96 C234.33,117.72 234.50,118.52 234.67,119.33 C234.83,120.13 235.00,120.96 235.17,121.78 C235.33,122.61 235.50,123.45 235.67,124.28 C235.83,125.11 236.00,125.95 236.17,126.77 C236.33,127.59 236.50,128.41 236.67,129.21 C236.83,130.01 237.00,130.80 237.17,131.57 C237.33,132.33 237.50,133.08 237.67,133.81 C237.83,134.53 238.00,135.23 238.17,135.91 C238.33,136.58 238.50,137.24 238.67,137.86 C238.83,138.48 239.00,139.08 239.17,139.65 C239.33,140.22 239.50,140.76 239.67,141.27 C239.83,141.78 240.00,142.27 240.17,142.73 C240.33,143.19 240.50,143.62 240.67,144.02 C240.83,144.43 241.00,144.81 241.17,145.16 C241.33,145.52 241.50,145.85 241.67,146.16 C241.83,146.47 242.00,146.75 242.17,147.02 C242.33,147.29 242.50,147.53 242.67,147.76 C242.83,147.99 243.00,148.19 243.17,148.39 C243.33,148.58 243.50,148.75 243.67,148.91 C243.83,149.08 244.00,149.22 244.17,149.36 C244.33,149.49 244.50,149.61 244.67,149.72 C244.83,149.83 245.00,149.93 245.17,150.02 C245.33,150.11 245.50,150.20 245.67,150.27 C245.83,150.34 246.00,150.41 246.17,150.47 C246.33,150.53 246.50,150.58 246.67,150.63 C246.83,150.68 247.00,150.66 247.17,150.76 C247.33,150.85 247.58,151.13 247.67,151.20" fill="none" stroke="#333" stroke-width="0.9" stroke-dasharray="1,0.8" />
<path d="M221.30,151.20 C221.38,151.13 221.63,150.88 221.80,150.79 C221.96,150.70 222.13,150.71 222.30,150.66 C222.46,150.61 222.63,150.55 222.80,150.49 C222.96,150.43 223.13,150.36 223.30,150.28 C223.46,150.20 223.63,150.11 223.80,150.01 C223.96,149.91 224.13,149.80 224.30,149.67 C224.46,149.55 224.63,149.42 224.80,149.26 C224.96,149.11 225.13,148.95 225.30,148.76 C225.46,148.58 225.63,148.38 225.80,148.15 C225.96,147.93 226.13,147.69 226.30,147.43 C226.46,147.16 226.63,146.88 226.80,146.57 C226.96,146.26 227.13,145.92 227.30,145.56 C227.46,145.20 227.63,144.81 227.80,144.39 C227.96,143.97 228.13,143.52 228.30,143.05 C228.46,142.57 228.63,142.06 228.80,141.53 C228.96,140.99 229.13,140.42 229.30,139.82 C229.46,139.23 229.63,138.60 229.80,137.94 C229.96,137.29 230.13,136.60 230.30,135.89 C230.46,135.18 230.63,134.44 230.80,133.68 C230.96,132.92 231.13,132.14 231.30,131.34 C231.46,130.55 231.63,129.73 231.80,128.91 C231.96,128.09 232.13,127.25 232.30,126.42 C232.46,125.59 232.63,124.75 232.80,123.93 C232.96,123.11 233.13,122.29 233.30,121.50 C233.46,120.71 233.63,119.93 233.80,119.20 C233.96,118.46 234.13,117.75 234.30,117.10 C234.46,116.44 234.63,115.82 234.80,115.27 C234.96,114.73 235.13,114.23 235.30,113.82 C235.46,113.41 235.63,113.05 235.80,112.82 C235.96,112.58 236.21,112.47 236.30,112.40 C236.38,112.33 236.22,112.29 236.30,112.40 C236.38,112.51 236.63,112.69 236.80,113.08 C236.96,113.47 237.13,114.07 237.30,114.74 C237.46,115.41 237.63,116.24 237.80,117.11 C237.96,117.98 238.13,118.97 238.30,119.98 C238.46,120.99 238.63,122.09 238.80,123.17 C238.96,124.26 239.13,125.39 239.30,126.50 C239.46,127.61 239.63,128.74 239.80,129.83 C239.96,130.92 240.13,132.00 240.30,133.03 C240.46,134.06 240.63,135.07 240.80,136.02 C240.96,136.96 241.13,137.87 241.30,138.72 C241.46,139.57 241.63,140.37 241.80,141.11 C241.96,141.85 242.13,142.54 242.30,143.17 C242.46,143.80 242.63,144.38 242.80,144.91 C242.96,145.44 243.13,145.92 243.30,146.35 C243.46,146.78 243.63,147.17 243.80,147.52 C243.96,147.87 244.13,148.17 244.30,148.44 C244.46,148.72 244.63,148.96 244.80,149.17 C244.96,149.38 245.13,149.56 245.30,149.72 C245.46,149.89 245.63,150.02 245.80,150.14 C245.96,150.27 246.13,150.37 246.30,150.45 C246.46,150.54 246.63,150.56 246.80,150.68 C246.96,150.81 247.21,151.11 247.30,151.20" fill="none" stroke="#111" stroke-width="0.9" stroke-dasharray="1,0.8" />
<path d="M225.24,151.20 C225.33,151.13 225.58,150.88 225.74,150.78 C225.91,150.68 226.08,150.67 226.24,150.61 C226.41,150.54 226.58,150.47 226.74,150.38 C226.91,150.30 227.08,150.20 227.24,150.09 C227.41,149.97 227.58,149.84 227.74,149.70 C227.91,149.55 228.08,149.38 228.24,149.19 C228.41,149.00 228.58,148.80 228.74,148.56 C228.91,148.32 229.08,148.06 229.24,147.76 C229.41,147.46 229.58,147.14 229.74,146.78 C229.91,146.41 230.08,146.02 230.24,145.58 C230.41,145.14 230.58,144.67 230.74,144.16 C230.91,143.64 231.08,143.08 231.24,142.48 C231.41,141.88 231.58,141.23 231.74,140.55 C231.91,139.86 232.08,139.12 232.24,138.35 C232.41,137.58 232.58,136.76 232.74,135.92 C232.91,135.07 233.08,134.18 233.24,133.27 C233.41,132.35 233.58,131.40 233.74,130.45 C233.91,129.49 234.08,128.51 234.24,127.53 C234.41,126.56 234.58,125.57 234.74,124.61 C234.91,123.64 235.08,122.68 235.24,121.77 C235.41,120.86 235.58,119.96 235.74,119.14 C235.91,118.32 236.08,117.54 236.24,116.86 C236.41,116.18 236.58,115.55 236.74,115.06 C236.91,114.57 237.10,114.15 237.24,113.91 C237.39,113.66 237.52,113.63 237.60,113.60 C237.68,113.57 237.64,113.46 237.74,113.70 C237.85,113.94 238.08,114.40 238.24,115.03 C238.41,115.65 238.58,116.53 238.74,117.47 C238.91,118.42 239.08,119.54 239.24,120.69 C239.41,121.84 239.58,123.11 239.74,124.36 C239.91,125.61 240.08,126.93 240.24,128.20 C240.41,129.47 240.58,130.76 240.74,131.99 C240.91,133.21 241.08,134.41 241.24,135.54 C241.41,136.66 241.58,137.74 241.74,138.73 C241.91,139.72 242.08,140.65 242.24,141.50 C242.41,142.35 242.58,143.12 242.74,143.82 C242.91,144.53 243.08,145.15 243.24,145.71 C243.41,146.28 243.58,146.77 243.74,147.21 C243.91,147.65 244.08,148.02 244.24,148.36 C244.41,148.69 244.58,148.97 244.74,149.22 C244.91,149.46 245.08,149.66 245.24,149.84 C245.41,150.02 245.58,150.17 245.74,150.29 C245.91,150.42 246.08,150.45 246.24,150.60 C246.41,150.76 246.66,151.10 246.74,151.20" fill="none" stroke="#333" stroke-width="0.6" />
<path d="M233.80,151.20 C233.88,151.13 234.13,150.87 234.30,150.75 C234.46,150.64 234.63,150.62 234.80,150.53 C234.96,150.44 235.13,150.34 235.30,150.21 C235.46,150.08 235.63,149.94 235.80,149.76 C235.96,149.58 236.13,149.39 236.30,149.15 C236.46,148.91 236.63,148.64 236.80,148.33 C236.96,148.01 237.13,147.66 237.30,147.25 C237.46,146.85 237.63,146.39 237.80,145.88 C237.96,145.36 238.13,144.80 238.30,144.16 C238.46,143.53 238.63,142.84 238.80,142.08 C238.96,141.32 239.13,140.49 239.30,139.60 C239.46,138.72 239.63,137.76 239.80,136.76 C239.96,135.75 240.13,134.68 240.30,133.59 C240.46,132.49 240.63,131.33 240.80,130.17 C240.96,129.02 241.13,127.81 241.30,126.65 C241.46,125.49 241.63,124.30 241.80,123.19 C241.96,122.08 242.13,120.97 242.30,119.99 C242.46,119.01 242.63,118.08 242.80,117.31 C242.96,116.55 243.13,115.86 243.30,115.40 C243.46,114.95 243.71,114.73 243.80,114.60 C243.88,114.47 243.72,114.45 243.80,114.60 C243.88,114.75 244.13,114.98 244.30,115.48 C244.46,115.98 244.63,116.74 244.80,117.58 C244.96,118.42 245.13,119.46 245.30,120.53 C245.46,121.60 245.63,122.80 245.80,124.00 C245.96,125.19 246.13,126.47 246.30,127.71 C246.46,128.95 246.63,130.22 246.80,131.43 C246.96,132.64 247.13,133.85 247.30,134.97 C247.46,136.10 247.63,137.19 247.80,138.19 C247.96,139.20 248.13,140.14 248.30,141.01 C248.46,141.88 248.63,142.68 248.80,143.40 C248.96,144.13 249.13,144.78 249.30,145.36 C249.46,145.95 249.63,146.46 249.80,146.92 C249.96,147.39 250.13,147.78 250.30,148.14 C250.46,148.49 250.63,148.78 250.80,149.05 C250.96,149.31 251.13,149.53 251.30,149.72 C251.46,149.91 251.63,150.07 251.80,150.20 C251.96,150.34 252.13,150.38 252.30,150.54 C252.46,150.71 252.71,151.09 252.80,151.20" fill="none" stroke="#333" stroke-width="0.7" />
<line x1="186.2" y1="104.2" x2="266.6" y2="104.2" stroke="#b4b4b4" stroke-width="0.7" />
<line x1="266.6" y1="104.2" x2="266.6" y2="151.1" stroke="#b4b4b4" stroke-width="0.7" />
<line x1="186.2" y1="103.85000000000001" x2="186.2" y2="151.1" stroke="#8c8c8c" stroke-width="0.9" />
<line x1="185.75" y1="151.1" x2="266.95000000000005" y2="151.1" stroke="#555" stroke-width="0.9" />
<text x="0" y="0" font-size="6.6" font-weight="normal" text-anchor="middle" fill="#333" transform="translate(181.8,127.5) rotate(-90)">events</text>
<path d="M308.20,150.80 C308.29,150.72 308.54,150.43 308.70,150.31 C308.87,150.19 309.04,150.17 309.20,150.07 C309.37,149.98 309.54,149.87 309.70,149.73 C309.87,149.60 310.04,149.45 310.20,149.26 C310.37,149.08 310.54,148.88 310.70,148.63 C310.87,148.38 311.04,148.11 311.20,147.78 C311.37,147.45 311.54,147.09 311.70,146.67 C311.87,146.26 312.04,145.79 312.20,145.26 C312.37,144.74 312.54,144.15 312.70,143.50 C312.87,142.85 313.04,142.14 313.20,141.36 C313.37,140.58 313.54,139.73 313.70,138.81 C313.87,137.90 314.04,136.91 314.20,135.87 C314.37,134.83 314.54,133.71 314.70,132.56 C314.87,131.41 315.04,130.19 315.20,128.96 C315.37,127.73 315.54,126.44 315.70,125.18 C315.87,123.92 316.04,122.62 316.20,121.39 C316.37,120.15 316.54,118.91 316.70,117.77 C316.87,116.63 317.04,115.52 317.20,114.56 C317.37,113.60 317.54,112.71 317.70,112.02 C317.87,111.33 318.07,110.75 318.20,110.43 C318.34,110.11 318.42,110.13 318.50,110.10 C318.58,110.07 318.59,110.01 318.70,110.27 C318.82,110.52 319.04,111.01 319.20,111.64 C319.37,112.27 319.54,113.11 319.70,114.02 C319.87,114.94 320.04,116.02 320.20,117.13 C320.37,118.24 320.54,119.46 320.70,120.69 C320.87,121.91 321.04,123.20 321.20,124.47 C321.37,125.73 321.54,127.02 321.70,128.26 C321.87,129.50 322.04,130.73 322.20,131.90 C322.37,133.07 322.54,134.21 322.70,135.27 C322.87,136.34 323.04,137.35 323.20,138.29 C323.37,139.23 323.54,140.11 323.70,140.91 C323.87,141.72 324.04,142.46 324.20,143.13 C324.37,143.81 324.54,144.41 324.70,144.96 C324.87,145.51 325.04,146.00 325.20,146.43 C325.37,146.87 325.54,147.25 325.70,147.59 C325.87,147.94 326.04,148.23 326.20,148.49 C326.37,148.75 326.54,148.96 326.70,149.16 C326.87,149.35 327.04,149.51 327.20,149.66 C327.37,149.80 327.54,149.91 327.70,150.02 C327.87,150.12 328.04,150.14 328.20,150.27 C328.37,150.40 328.62,150.71 328.70,150.80 Z" fill="#f6f6d6" stroke="none"/>
<path d="M312.92,150.80 C313.00,150.73 313.25,150.48 313.42,150.38 C313.59,150.28 313.75,150.27 313.92,150.19 C314.09,150.12 314.25,150.03 314.42,149.93 C314.59,149.83 314.75,149.72 314.92,149.58 C315.09,149.44 315.25,149.29 315.42,149.11 C315.59,148.93 315.75,148.73 315.92,148.50 C316.09,148.26 316.25,148.00 316.42,147.71 C316.59,147.41 316.75,147.08 316.92,146.70 C317.09,146.33 317.25,145.92 317.42,145.46 C317.59,145.00 317.75,144.49 317.92,143.94 C318.09,143.38 318.25,142.78 318.42,142.13 C318.59,141.47 318.75,140.77 318.92,140.01 C319.09,139.25 319.25,138.44 319.42,137.59 C319.59,136.74 319.75,135.84 319.92,134.90 C320.09,133.96 320.25,132.98 320.42,131.98 C320.59,130.98 320.75,129.94 320.92,128.91 C321.09,127.87 321.25,126.81 321.42,125.79 C321.59,124.76 321.75,123.72 321.92,122.74 C322.09,121.77 322.25,120.80 322.42,119.93 C322.59,119.07 322.75,118.23 322.92,117.53 C323.09,116.83 323.25,116.19 323.42,115.71 C323.59,115.24 323.81,114.89 323.92,114.70 C324.03,114.52 324.02,114.56 324.10,114.60 C324.18,114.64 324.28,114.64 324.42,114.94 C324.56,115.24 324.75,115.77 324.92,116.40 C325.09,117.02 325.25,117.83 325.42,118.69 C325.59,119.55 325.75,120.55 325.92,121.57 C326.09,122.58 326.25,123.69 326.42,124.79 C326.59,125.90 326.75,127.05 326.92,128.17 C327.09,129.30 327.25,130.44 327.42,131.53 C327.59,132.62 327.75,133.70 327.92,134.72 C328.09,135.74 328.25,136.73 328.42,137.65 C328.59,138.57 328.75,139.44 328.92,140.25 C329.09,141.06 329.25,141.81 329.42,142.50 C329.59,143.19 329.75,143.82 329.92,144.39 C330.09,144.97 330.25,145.48 330.42,145.94 C330.59,146.41 330.75,146.81 330.92,147.18 C331.09,147.55 331.25,147.87 331.42,148.15 C331.59,148.44 331.75,148.68 331.92,148.90 C332.09,149.12 332.25,149.30 332.42,149.46 C332.59,149.62 332.75,149.75 332.92,149.87 C333.09,149.99 333.25,150.01 333.42,150.16 C333.59,150.32 333.84,150.69 333.92,150.80 Z" fill="#eeee8c" stroke="none"/>
<path d="M328.57,150.80 C328.65,150.72 328.90,150.45 329.07,150.34 C329.23,150.24 329.40,150.24 329.57,150.18 C329.73,150.12 329.90,150.05 330.07,149.97 C330.23,149.88 330.40,149.79 330.57,149.69 C330.73,149.58 330.90,149.46 331.07,149.33 C331.23,149.20 331.40,149.05 331.57,148.88 C331.73,148.71 331.90,148.52 332.07,148.31 C332.23,148.10 332.40,147.87 332.57,147.61 C332.73,147.35 332.90,147.07 333.07,146.76 C333.23,146.44 333.40,146.10 333.57,145.72 C333.73,145.34 333.90,144.94 334.07,144.49 C334.23,144.04 334.40,143.56 334.57,143.04 C334.73,142.52 334.90,141.96 335.07,141.36 C335.23,140.77 335.40,140.13 335.57,139.45 C335.73,138.77 335.90,138.05 336.07,137.29 C336.23,136.53 336.40,135.73 336.57,134.90 C336.73,134.07 336.90,133.19 337.07,132.30 C337.23,131.40 337.40,130.47 337.57,129.52 C337.73,128.57 337.90,127.59 338.07,126.61 C338.23,125.63 338.40,124.63 338.57,123.64 C338.73,122.65 338.90,121.65 339.07,120.68 C339.23,119.70 339.40,118.73 339.57,117.81 C339.73,116.90 339.90,115.99 340.07,115.16 C340.23,114.33 340.40,113.53 340.57,112.82 C340.73,112.12 340.90,111.46 341.07,110.92 C341.23,110.39 341.40,109.91 341.57,109.59 C341.73,109.27 341.98,109.10 342.07,109.00 C342.16,108.90 342.02,108.93 342.10,109.00 C342.18,109.07 342.41,109.18 342.57,109.45 C342.73,109.73 342.90,110.15 343.07,110.65 C343.23,111.14 343.40,111.75 343.57,112.41 C343.73,113.08 343.90,113.83 344.07,114.62 C344.23,115.41 344.40,116.28 344.57,117.16 C344.73,118.04 344.90,118.98 345.07,119.92 C345.23,120.86 345.40,121.84 345.57,122.80 C345.73,123.77 345.90,124.75 346.07,125.72 C346.23,126.68 346.40,127.65 346.57,128.59 C346.73,129.53 346.90,130.46 347.07,131.36 C347.23,132.26 347.40,133.13 347.57,133.97 C347.73,134.81 347.90,135.62 348.07,136.39 C348.23,137.16 348.40,137.90 348.57,138.60 C348.73,139.29 348.90,139.95 349.07,140.57 C349.23,141.19 349.40,141.77 349.57,142.32 C349.73,142.86 349.90,143.37 350.07,143.84 C350.23,144.31 350.40,144.74 350.57,145.14 C350.73,145.54 350.90,145.91 351.07,146.25 C351.23,146.59 351.40,146.89 351.57,147.17 C351.73,147.46 351.90,147.71 352.07,147.94 C352.23,148.17 352.40,148.38 352.57,148.57 C352.73,148.75 352.90,148.92 353.07,149.07 C353.23,149.22 353.40,149.35 353.57,149.48 C353.73,149.60 353.90,149.70 354.07,149.79 C354.23,149.89 354.40,149.97 354.57,150.04 C354.73,150.12 354.90,150.11 355.07,150.24 C355.23,150.36 355.48,150.71 355.57,150.80 Z" fill="#d4d4f0" stroke="none"/>
<path d="M322.47,150.80 C322.56,150.72 322.81,150.46 322.97,150.33 C323.14,150.21 323.31,150.18 323.47,150.06 C323.64,149.95 323.81,149.82 323.97,149.66 C324.14,149.49 324.31,149.31 324.47,149.08 C324.64,148.84 324.81,148.58 324.97,148.25 C325.14,147.93 325.31,147.57 325.47,147.13 C325.64,146.69 325.81,146.21 325.97,145.64 C326.14,145.07 326.31,144.43 326.47,143.71 C326.64,142.99 326.81,142.20 326.97,141.32 C327.14,140.44 327.31,139.47 327.47,138.43 C327.64,137.39 327.81,136.26 327.97,135.09 C328.14,133.91 328.31,132.65 328.47,131.37 C328.64,130.10 328.81,128.76 328.97,127.45 C329.14,126.14 329.31,124.79 329.47,123.54 C329.64,122.29 329.81,121.03 329.97,119.93 C330.14,118.84 330.31,117.79 330.47,116.98 C330.64,116.17 330.84,115.46 330.97,115.06 C331.11,114.66 331.22,114.65 331.30,114.60 C331.38,114.55 331.36,114.45 331.47,114.78 C331.59,115.11 331.81,115.77 331.97,116.61 C332.14,117.44 332.31,118.59 332.47,119.79 C332.64,120.99 332.81,122.40 332.97,123.80 C333.14,125.19 333.31,126.71 333.47,128.16 C333.64,129.61 333.81,131.10 333.97,132.48 C334.14,133.87 334.31,135.23 334.47,136.48 C334.64,137.73 334.81,138.91 334.97,139.97 C335.14,141.04 335.31,142.00 335.47,142.87 C335.64,143.74 335.81,144.50 335.97,145.17 C336.14,145.85 336.31,146.42 336.47,146.93 C336.64,147.43 336.81,147.85 336.97,148.21 C337.14,148.58 337.31,148.87 337.47,149.12 C337.64,149.38 337.81,149.57 337.97,149.74 C338.14,149.92 338.31,149.98 338.47,150.15 C338.64,150.33 338.89,150.69 338.97,150.80 Z" fill="#9e9ed8" stroke="none"/>
<path d="M308.20,150.80 C308.29,150.72 308.54,150.43 308.70,150.31 C308.87,150.19 309.04,150.17 309.20,150.07 C309.37,149.98 309.54,149.87 309.70,149.73 C309.87,149.60 310.04,149.45 310.20,149.26 C310.37,149.08 310.54,148.88 310.70,148.63 C310.87,148.38 311.04,148.11 311.20,147.78 C311.37,147.45 311.54,147.09 311.70,146.67 C311.87,146.26 312.04,145.79 312.20,145.26 C312.37,144.74 312.54,144.15 312.70,143.50 C312.87,142.85 313.04,142.14 313.20,141.36 C313.37,140.58 313.54,139.73 313.70,138.81 C313.87,137.90 314.04,136.91 314.20,135.87 C314.37,134.83 314.54,133.71 314.70,132.56 C314.87,131.41 315.04,130.19 315.20,128.96 C315.37,127.73 315.54,126.44 315.70,125.18 C315.87,123.92 316.04,122.62 316.20,121.39 C316.37,120.15 316.54,118.91 316.70,117.77 C316.87,116.63 317.04,115.52 317.20,114.56 C317.37,113.60 317.54,112.71 317.70,112.02 C317.87,111.33 318.07,110.75 318.20,110.43 C318.34,110.11 318.42,110.13 318.50,110.10 C318.58,110.07 318.59,110.01 318.70,110.27 C318.82,110.52 319.04,111.01 319.20,111.64 C319.37,112.27 319.54,113.11 319.70,114.02 C319.87,114.94 320.04,116.02 320.20,117.13 C320.37,118.24 320.54,119.46 320.70,120.69 C320.87,121.91 321.04,123.20 321.20,124.47 C321.37,125.73 321.54,127.02 321.70,128.26 C321.87,129.50 322.04,130.73 322.20,131.90 C322.37,133.07 322.54,134.21 322.70,135.27 C322.87,136.34 323.04,137.35 323.20,138.29 C323.37,139.23 323.54,140.11 323.70,140.91 C323.87,141.72 324.04,142.46 324.20,143.13 C324.37,143.81 324.54,144.41 324.70,144.96 C324.87,145.51 325.04,146.00 325.20,146.43 C325.37,146.87 325.54,147.25 325.70,147.59 C325.87,147.94 326.04,148.23 326.20,148.49 C326.37,148.75 326.54,148.96 326.70,149.16 C326.87,149.35 327.04,149.51 327.20,149.66 C327.37,149.80 327.54,149.91 327.70,150.02 C327.87,150.12 328.04,150.14 328.20,150.27 C328.37,150.40 328.62,150.71 328.70,150.80" fill="none" stroke="#333" stroke-width="0.9" stroke-dasharray="1,0.8" />
<path d="M312.92,150.80 C313.00,150.73 313.25,150.48 313.42,150.38 C313.59,150.28 313.75,150.27 313.92,150.19 C314.09,150.12 314.25,150.03 314.42,149.93 C314.59,149.83 314.75,149.72 314.92,149.58 C315.09,149.44 315.25,149.29 315.42,149.11 C315.59,148.93 315.75,148.73 315.92,148.50 C316.09,148.26 316.25,148.00 316.42,147.71 C316.59,147.41 316.75,147.08 316.92,146.70 C317.09,146.33 317.25,145.92 317.42,145.46 C317.59,145.00 317.75,144.49 317.92,143.94 C318.09,143.38 318.25,142.78 318.42,142.13 C318.59,141.47 318.75,140.77 318.92,140.01 C319.09,139.25 319.25,138.44 319.42,137.59 C319.59,136.74 319.75,135.84 319.92,134.90 C320.09,133.96 320.25,132.98 320.42,131.98 C320.59,130.98 320.75,129.94 320.92,128.91 C321.09,127.87 321.25,126.81 321.42,125.79 C321.59,124.76 321.75,123.72 321.92,122.74 C322.09,121.77 322.25,120.80 322.42,119.93 C322.59,119.07 322.75,118.23 322.92,117.53 C323.09,116.83 323.25,116.19 323.42,115.71 C323.59,115.24 323.81,114.89 323.92,114.70 C324.03,114.52 324.02,114.56 324.10,114.60 C324.18,114.64 324.28,114.64 324.42,114.94 C324.56,115.24 324.75,115.77 324.92,116.40 C325.09,117.02 325.25,117.83 325.42,118.69 C325.59,119.55 325.75,120.55 325.92,121.57 C326.09,122.58 326.25,123.69 326.42,124.79 C326.59,125.90 326.75,127.05 326.92,128.17 C327.09,129.30 327.25,130.44 327.42,131.53 C327.59,132.62 327.75,133.70 327.92,134.72 C328.09,135.74 328.25,136.73 328.42,137.65 C328.59,138.57 328.75,139.44 328.92,140.25 C329.09,141.06 329.25,141.81 329.42,142.50 C329.59,143.19 329.75,143.82 329.92,144.39 C330.09,144.97 330.25,145.48 330.42,145.94 C330.59,146.41 330.75,146.81 330.92,147.18 C331.09,147.55 331.25,147.87 331.42,148.15 C331.59,148.44 331.75,148.68 331.92,148.90 C332.09,149.12 332.25,149.30 332.42,149.46 C332.59,149.62 332.75,149.75 332.92,149.87 C333.09,149.99 333.25,150.01 333.42,150.16 C333.59,150.32 333.84,150.69 333.92,150.80" fill="none" stroke="#333" stroke-width="0.7" />
<path d="M328.57,150.80 C328.65,150.72 328.90,150.45 329.07,150.34 C329.23,150.24 329.40,150.24 329.57,150.18 C329.73,150.12 329.90,150.05 330.07,149.97 C330.23,149.88 330.40,149.79 330.57,149.69 C330.73,149.58 330.90,149.46 331.07,149.33 C331.23,149.20 331.40,149.05 331.57,148.88 C331.73,148.71 331.90,148.52 332.07,148.31 C332.23,148.10 332.40,147.87 332.57,147.61 C332.73,147.35 332.90,147.07 333.07,146.76 C333.23,146.44 333.40,146.10 333.57,145.72 C333.73,145.34 333.90,144.94 334.07,144.49 C334.23,144.04 334.40,143.56 334.57,143.04 C334.73,142.52 334.90,141.96 335.07,141.36 C335.23,140.77 335.40,140.13 335.57,139.45 C335.73,138.77 335.90,138.05 336.07,137.29 C336.23,136.53 336.40,135.73 336.57,134.90 C336.73,134.07 336.90,133.19 337.07,132.30 C337.23,131.40 337.40,130.47 337.57,129.52 C337.73,128.57 337.90,127.59 338.07,126.61 C338.23,125.63 338.40,124.63 338.57,123.64 C338.73,122.65 338.90,121.65 339.07,120.68 C339.23,119.70 339.40,118.73 339.57,117.81 C339.73,116.90 339.90,115.99 340.07,115.16 C340.23,114.33 340.40,113.53 340.57,112.82 C340.73,112.12 340.90,111.46 341.07,110.92 C341.23,110.39 341.40,109.91 341.57,109.59 C341.73,109.27 341.98,109.10 342.07,109.00 C342.16,108.90 342.02,108.93 342.10,109.00 C342.18,109.07 342.41,109.18 342.57,109.45 C342.73,109.73 342.90,110.15 343.07,110.65 C343.23,111.14 343.40,111.75 343.57,112.41 C343.73,113.08 343.90,113.83 344.07,114.62 C344.23,115.41 344.40,116.28 344.57,117.16 C344.73,118.04 344.90,118.98 345.07,119.92 C345.23,120.86 345.40,121.84 345.57,122.80 C345.73,123.77 345.90,124.75 346.07,125.72 C346.23,126.68 346.40,127.65 346.57,128.59 C346.73,129.53 346.90,130.46 347.07,131.36 C347.23,132.26 347.40,133.13 347.57,133.97 C347.73,134.81 347.90,135.62 348.07,136.39 C348.23,137.16 348.40,137.90 348.57,138.60 C348.73,139.29 348.90,139.95 349.07,140.57 C349.23,141.19 349.40,141.77 349.57,142.32 C349.73,142.86 349.90,143.37 350.07,143.84 C350.23,144.31 350.40,144.74 350.57,145.14 C350.73,145.54 350.90,145.91 351.07,146.25 C351.23,146.59 351.40,146.89 351.57,147.17 C351.73,147.46 351.90,147.71 352.07,147.94 C352.23,148.17 352.40,148.38 352.57,148.57 C352.73,148.75 352.90,148.92 353.07,149.07 C353.23,149.22 353.40,149.35 353.57,149.48 C353.73,149.60 353.90,149.70 354.07,149.79 C354.23,149.89 354.40,149.97 354.57,150.04 C354.73,150.12 354.90,150.11 355.07,150.24 C355.23,150.36 355.48,150.71 355.57,150.80" fill="none" stroke="#222" stroke-width="0.9" stroke-dasharray="1,0.8" />
<path d="M322.47,150.80 C322.56,150.72 322.81,150.46 322.97,150.33 C323.14,150.21 323.31,150.18 323.47,150.06 C323.64,149.95 323.81,149.82 323.97,149.66 C324.14,149.49 324.31,149.31 324.47,149.08 C324.64,148.84 324.81,148.58 324.97,148.25 C325.14,147.93 325.31,147.57 325.47,147.13 C325.64,146.69 325.81,146.21 325.97,145.64 C326.14,145.07 326.31,144.43 326.47,143.71 C326.64,142.99 326.81,142.20 326.97,141.32 C327.14,140.44 327.31,139.47 327.47,138.43 C327.64,137.39 327.81,136.26 327.97,135.09 C328.14,133.91 328.31,132.65 328.47,131.37 C328.64,130.10 328.81,128.76 328.97,127.45 C329.14,126.14 329.31,124.79 329.47,123.54 C329.64,122.29 329.81,121.03 329.97,119.93 C330.14,118.84 330.31,117.79 330.47,116.98 C330.64,116.17 330.84,115.46 330.97,115.06 C331.11,114.66 331.22,114.65 331.30,114.60 C331.38,114.55 331.36,114.45 331.47,114.78 C331.59,115.11 331.81,115.77 331.97,116.61 C332.14,117.44 332.31,118.59 332.47,119.79 C332.64,120.99 332.81,122.40 332.97,123.80 C333.14,125.19 333.31,126.71 333.47,128.16 C333.64,129.61 333.81,131.10 333.97,132.48 C334.14,133.87 334.31,135.23 334.47,136.48 C334.64,137.73 334.81,138.91 334.97,139.97 C335.14,141.04 335.31,142.00 335.47,142.87 C335.64,143.74 335.81,144.50 335.97,145.17 C336.14,145.85 336.31,146.42 336.47,146.93 C336.64,147.43 336.81,147.85 336.97,148.21 C337.14,148.58 337.31,148.87 337.47,149.12 C337.64,149.38 337.81,149.57 337.97,149.74 C338.14,149.92 338.31,149.98 338.47,150.15 C338.64,150.33 338.89,150.69 338.97,150.80" fill="none" stroke="#333" stroke-width="0.7" />
<line x1="275.1" y1="104.2" x2="355.2" y2="104.2" stroke="#b4b4b4" stroke-width="0.7" />
<line x1="355.2" y1="104.2" x2="355.2" y2="150.8" stroke="#b4b4b4" stroke-width="0.7" />
<line x1="275.1" y1="103.85000000000001" x2="275.1" y2="150.8" stroke="#8c8c8c" stroke-width="0.9" />
<line x1="274.65000000000003" y1="150.8" x2="355.55" y2="150.8" stroke="#555" stroke-width="0.9" />
<line x1="186.7" y1="157.5" x2="257.3" y2="157.5" stroke="#444" stroke-width="1.1" />
<line x1="284.1" y1="157.5" x2="356.8" y2="157.5" stroke="#444" stroke-width="1.1" />
<path d="M351.2,154.6 L356.8,157.5 L351.2,160.4" fill="none" stroke="#444" stroke-width="1.1"/>
<text x="270.9" y="160.0" font-size="6.1" font-weight="normal" text-anchor="middle" fill="#555" >k-p-stat5</text>
<text x="172.4" y="175.6" font-size="13" font-weight="bold" text-anchor="start" fill="#000" >iii</text>
<text x="214.5" y="181.2" font-size="6.6" font-weight="bold" text-anchor="middle" fill="#000" >no</text>
<text x="276.8" y="179.3" font-size="6.6" font-weight="bold" text-anchor="middle" fill="#000" >NI [1μM]</text>
<text x="337.1" y="172.9" font-size="6.7" font-weight="bold" text-anchor="middle" fill="#000" >NI[1μM]</text>
<text x="339.4" y="182.4" font-size="6.8" font-weight="normal" text-anchor="middle" fill="#000" ><tspan font-weight="bold">+ GM </tspan><tspan>[5 ng/mL]</tspan></text>
<clipPath id="c1"><rect x="187.9" y="184.4" width="52.19999999999999" height="49.0"/></clipPath>
<g clip-path="url(#c1)">
<g fill="#e4e460" opacity="0.55"><circle cx="208.7" cy="217.0" r="0.42"/><circle cx="207.5" cy="215.4" r="0.42"/><circle cx="206.0" cy="217.2" r="0.42"/><circle cx="211.8" cy="213.8" r="0.42"/><circle cx="211.3" cy="213.7" r="0.42"/><circle cx="209.7" cy="215.0" r="0.42"/><circle cx="206.0" cy="220.6" r="0.42"/><circle cx="210.5" cy="215.3" r="0.42"/><circle cx="201.7" cy="216.1" r="0.42"/><circle cx="205.7" cy="216.6" r="0.42"/><circle cx="209.1" cy="214.8" r="0.42"/><circle cx="208.7" cy="213.2" r="0.42"/><circle cx="209.9" cy="215.5" r="0.42"/><circle cx="209.8" cy="220.0" r="0.42"/><circle cx="211.8" cy="216.4" r="0.42"/><circle cx="205.8" cy="215.6" r="0.42"/><circle cx="207.5" cy="216.1" r="0.42"/><circle cx="210.4" cy="214.6" r="0.42"/><circle cx="205.9" cy="214.8" r="0.42"/><circle cx="209.3" cy="218.8" r="0.42"/><circle cx="207.0" cy="217.7" r="0.42"/><circle cx="207.1" cy="212.0" r="0.42"/><circle cx="210.8" cy="217.7" r="0.42"/><circle cx="203.3" cy="219.3" r="0.42"/><circle cx="206.9" cy="214.3" r="0.42"/><circle cx="209.6" cy="214.3" r="0.42"/><circle cx="206.4" cy="220.1" r="0.42"/><circle cx="211.6" cy="215.7" r="0.42"/><circle cx="212.5" cy="213.0" r="0.42"/><circle cx="206.7" cy="213.0" r="0.42"/><circle cx="208.9" cy="213.1" r="0.42"/><circle cx="205.4" cy="214.3" r="0.42"/><circle cx="205.4" cy="216.7" r="0.42"/><circle cx="208.2" cy="209.1" r="0.42"/><circle cx="205.5" cy="219.1" r="0.42"/><circle cx="212.8" cy="213.4" r="0.42"/><circle cx="199.9" cy="215.2" r="0.42"/><circle cx="208.1" cy="213.4" r="0.42"/><circle cx="207.5" cy="219.7" r="0.42"/><circle cx="211.3" cy="213.4" r="0.42"/><circle cx="209.8" cy="215.7" r="0.42"/><circle cx="213.2" cy="213.1" r="0.42"/><circle cx="210.6" cy="215.3" r="0.42"/><circle cx="206.9" cy="221.2" r="0.42"/><circle cx="211.6" cy="214.3" r="0.42"/><circle cx="202.8" cy="218.7" r="0.42"/><circle cx="207.5" cy="210.5" r="0.42"/><circle cx="209.7" cy="217.7" r="0.42"/><circle cx="208.1" cy="221.2" r="0.42"/><circle cx="209.5" cy="214.0" r="0.42"/><circle cx="210.3" cy="215.9" r="0.42"/><circle cx="210.7" cy="217.2" r="0.42"/><circle cx="206.3" cy="216.2" r="0.42"/><circle cx="211.0" cy="213.3" r="0.42"/><circle cx="208.0" cy="219.1" r="0.42"/><circle cx="211.2" cy="211.5" r="0.42"/><circle cx="205.0" cy="218.3" r="0.42"/><circle cx="207.7" cy="215.3" r="0.42"/><circle cx="210.1" cy="210.6" r="0.42"/><circle cx="209.4" cy="210.5" r="0.42"/><circle cx="207.7" cy="218.3" r="0.42"/><circle cx="212.5" cy="214.5" r="0.42"/><circle cx="209.5" cy="215.0" r="0.42"/><circle cx="209.8" cy="216.2" r="0.42"/><circle cx="208.5" cy="216.4" r="0.42"/><circle cx="209.8" cy="214.3" r="0.42"/><circle cx="211.2" cy="214.8" r="0.42"/><circle cx="213.7" cy="211.7" r="0.42"/><circle cx="206.9" cy="215.8" r="0.42"/><circle cx="210.0" cy="217.2" r="0.42"/><circle cx="208.3" cy="216.9" r="0.42"/><circle cx="208.6" cy="207.0" r="0.42"/><circle cx="206.3" cy="218.4" r="0.42"/><circle cx="209.8" cy="215.0" r="0.42"/><circle cx="208.6" cy="217.6" r="0.42"/><circle cx="208.3" cy="214.0" r="0.42"/><circle cx="214.8" cy="210.8" r="0.42"/><circle cx="207.0" cy="216.5" r="0.42"/><circle cx="207.9" cy="215.9" r="0.42"/><circle cx="201.3" cy="220.6" r="0.42"/><circle cx="208.9" cy="211.2" r="0.42"/><circle cx="209.9" cy="217.3" r="0.42"/><circle cx="212.9" cy="216.2" r="0.42"/><circle cx="203.9" cy="218.6" r="0.42"/><circle cx="208.7" cy="217.3" r="0.42"/><circle cx="206.7" cy="208.4" r="0.42"/><circle cx="208.7" cy="210.6" r="0.42"/><circle cx="207.7" cy="211.4" r="0.42"/><circle cx="210.9" cy="217.2" r="0.42"/><circle cx="208.5" cy="216.2" r="0.42"/><circle cx="210.6" cy="214.0" r="0.42"/><circle cx="210.8" cy="218.4" r="0.42"/><circle cx="210.5" cy="212.7" r="0.42"/><circle cx="213.0" cy="207.5" r="0.42"/><circle cx="210.2" cy="213.0" r="0.42"/><circle cx="210.0" cy="216.4" r="0.42"/><circle cx="210.1" cy="216.1" r="0.42"/><circle cx="202.5" cy="216.2" r="0.42"/><circle cx="208.4" cy="212.5" r="0.42"/><circle cx="203.7" cy="215.2" r="0.42"/><circle cx="212.7" cy="214.0" r="0.42"/><circle cx="210.4" cy="210.6" r="0.42"/><circle cx="206.6" cy="213.5" r="0.42"/><circle cx="212.9" cy="216.6" r="0.42"/><circle cx="209.0" cy="220.2" r="0.42"/><circle cx="210.5" cy="213.0" r="0.42"/><circle cx="206.2" cy="222.3" r="0.42"/><circle cx="207.3" cy="214.7" r="0.42"/><circle cx="210.1" cy="215.3" r="0.42"/><circle cx="210.3" cy="210.4" r="0.42"/><circle cx="213.6" cy="215.6" r="0.42"/><circle cx="211.6" cy="212.0" r="0.42"/><circle cx="208.4" cy="218.9" r="0.42"/><circle cx="209.0" cy="215.5" r="0.42"/><circle cx="211.4" cy="211.9" r="0.42"/><circle cx="202.5" cy="219.8" r="0.42"/><circle cx="205.5" cy="221.0" r="0.42"/><circle cx="208.2" cy="213.7" r="0.42"/><circle cx="209.8" cy="217.0" r="0.42"/><circle cx="210.9" cy="217.7" r="0.42"/><circle cx="210.1" cy="217.5" r="0.42"/><circle cx="214.6" cy="215.1" r="0.42"/><circle cx="208.4" cy="218.5" r="0.42"/><circle cx="202.3" cy="217.7" r="0.42"/><circle cx="205.7" cy="221.7" r="0.42"/><circle cx="205.6" cy="218.2" r="0.42"/><circle cx="208.0" cy="215.9" r="0.42"/><circle cx="207.5" cy="217.2" r="0.42"/><circle cx="212.8" cy="211.7" r="0.42"/><circle cx="211.4" cy="216.1" r="0.42"/><circle cx="206.0" cy="213.7" r="0.42"/><circle cx="209.0" cy="218.6" r="0.42"/><circle cx="203.7" cy="218.0" r="0.42"/><circle cx="212.2" cy="214.7" r="0.42"/><circle cx="209.8" cy="216.9" r="0.42"/><circle cx="207.0" cy="213.1" r="0.42"/><circle cx="203.8" cy="217.8" r="0.42"/><circle cx="209.7" cy="212.5" r="0.42"/><circle cx="205.1" cy="216.1" r="0.42"/><circle cx="204.7" cy="218.6" r="0.42"/><circle cx="206.3" cy="218.7" r="0.42"/><circle cx="203.5" cy="221.2" r="0.42"/><circle cx="203.8" cy="213.5" r="0.42"/><circle cx="209.7" cy="213.4" r="0.42"/><circle cx="201.8" cy="218.8" r="0.42"/><circle cx="208.4" cy="214.1" r="0.42"/><circle cx="211.5" cy="215.1" r="0.42"/><circle cx="210.6" cy="214.6" r="0.42"/><circle cx="212.7" cy="213.7" r="0.42"/><circle cx="206.1" cy="210.9" r="0.42"/><circle cx="212.7" cy="215.8" r="0.42"/><circle cx="207.0" cy="215.3" r="0.42"/><circle cx="210.2" cy="208.2" r="0.42"/><circle cx="213.6" cy="218.7" r="0.42"/><circle cx="207.5" cy="218.7" r="0.42"/><circle cx="212.7" cy="211.2" r="0.42"/><circle cx="211.3" cy="215.9" r="0.42"/><circle cx="206.2" cy="217.3" r="0.42"/><circle cx="210.5" cy="216.3" r="0.42"/><circle cx="208.1" cy="215.2" r="0.42"/><circle cx="205.5" cy="217.1" r="0.42"/><circle cx="210.8" cy="213.7" r="0.42"/><circle cx="205.1" cy="215.9" r="0.42"/><circle cx="216.6" cy="211.7" r="0.42"/><circle cx="205.7" cy="209.6" r="0.42"/><circle cx="210.7" cy="215.0" r="0.42"/><circle cx="213.1" cy="212.6" r="0.42"/><circle cx="209.2" cy="216.6" r="0.42"/><circle cx="205.6" cy="221.6" r="0.42"/><circle cx="208.1" cy="213.6" r="0.42"/><circle cx="214.6" cy="215.8" r="0.42"/><circle cx="204.1" cy="217.4" r="0.42"/><circle cx="209.5" cy="215.2" r="0.42"/><circle cx="206.0" cy="214.7" r="0.42"/><circle cx="215.2" cy="212.7" r="0.42"/><circle cx="203.5" cy="215.7" r="0.42"/><circle cx="214.1" cy="213.5" r="0.42"/><circle cx="214.1" cy="212.9" r="0.42"/><circle cx="206.9" cy="217.9" r="0.42"/><circle cx="202.2" cy="218.9" r="0.42"/><circle cx="209.2" cy="216.5" r="0.42"/><circle cx="206.6" cy="216.9" r="0.42"/><circle cx="210.2" cy="215.2" r="0.42"/><circle cx="210.3" cy="214.5" r="0.42"/><circle cx="209.0" cy="217.6" r="0.42"/><circle cx="207.3" cy="213.9" r="0.42"/><circle cx="207.0" cy="216.9" r="0.42"/><circle cx="208.5" cy="216.0" r="0.42"/><circle cx="208.8" cy="215.8" r="0.42"/><circle cx="206.1" cy="213.6" r="0.42"/><circle cx="211.2" cy="216.4" r="0.42"/><circle cx="209.2" cy="214.2" r="0.42"/><circle cx="208.0" cy="212.8" r="0.42"/><circle cx="204.2" cy="219.7" r="0.42"/><circle cx="207.5" cy="218.8" r="0.42"/><circle cx="201.7" cy="213.3" r="0.42"/><circle cx="208.7" cy="220.5" r="0.42"/><circle cx="205.4" cy="213.9" r="0.42"/><circle cx="207.6" cy="218.1" r="0.42"/><circle cx="210.0" cy="214.7" r="0.42"/></g>
<g fill="#6464a8" opacity="0.78"><circle cx="233.7" cy="198.1" r="0.33"/><circle cx="224.0" cy="206.4" r="0.33"/><circle cx="235.7" cy="198.1" r="0.33"/><circle cx="224.5" cy="193.9" r="0.33"/><circle cx="223.7" cy="207.6" r="0.33"/><circle cx="223.9" cy="209.8" r="0.33"/><circle cx="228.9" cy="204.0" r="0.33"/><circle cx="229.7" cy="214.9" r="0.33"/><circle cx="228.9" cy="196.0" r="0.33"/><circle cx="231.8" cy="213.3" r="0.33"/><circle cx="223.0" cy="209.3" r="0.33"/><circle cx="228.1" cy="198.3" r="0.33"/><circle cx="215.4" cy="211.5" r="0.33"/><circle cx="228.2" cy="206.2" r="0.33"/><circle cx="227.0" cy="199.6" r="0.33"/><circle cx="229.2" cy="201.1" r="0.33"/><circle cx="223.5" cy="203.0" r="0.33"/><circle cx="222.9" cy="208.0" r="0.33"/><circle cx="213.2" cy="207.7" r="0.33"/><circle cx="216.8" cy="198.4" r="0.33"/><circle cx="212.2" cy="198.9" r="0.33"/><circle cx="219.8" cy="210.1" r="0.33"/><circle cx="225.3" cy="200.5" r="0.33"/><circle cx="215.5" cy="200.0" r="0.33"/><circle cx="235.2" cy="195.4" r="0.33"/><circle cx="225.7" cy="194.3" r="0.33"/><circle cx="214.4" cy="198.2" r="0.33"/><circle cx="230.2" cy="203.0" r="0.33"/><circle cx="210.0" cy="214.8" r="0.33"/><circle cx="219.7" cy="193.6" r="0.33"/><circle cx="206.9" cy="210.5" r="0.33"/><circle cx="213.1" cy="202.3" r="0.33"/><circle cx="223.1" cy="204.8" r="0.33"/><circle cx="228.4" cy="203.0" r="0.33"/><circle cx="235.5" cy="199.7" r="0.33"/><circle cx="212.1" cy="209.7" r="0.33"/><circle cx="211.6" cy="206.1" r="0.33"/><circle cx="221.5" cy="204.5" r="0.33"/><circle cx="219.4" cy="195.1" r="0.33"/><circle cx="214.2" cy="211.1" r="0.33"/><circle cx="219.7" cy="204.0" r="0.33"/><circle cx="218.9" cy="201.5" r="0.33"/><circle cx="227.6" cy="201.3" r="0.33"/><circle cx="219.1" cy="202.0" r="0.33"/><circle cx="211.3" cy="194.7" r="0.33"/><circle cx="216.0" cy="209.8" r="0.33"/><circle cx="213.4" cy="213.5" r="0.33"/><circle cx="218.0" cy="197.9" r="0.33"/><circle cx="219.3" cy="204.3" r="0.33"/><circle cx="227.0" cy="203.7" r="0.33"/><circle cx="218.8" cy="201.0" r="0.33"/><circle cx="220.9" cy="204.6" r="0.33"/><circle cx="227.6" cy="200.9" r="0.33"/><circle cx="212.7" cy="203.0" r="0.33"/><circle cx="217.1" cy="203.3" r="0.33"/><circle cx="214.7" cy="210.0" r="0.33"/><circle cx="219.3" cy="207.2" r="0.33"/><circle cx="223.8" cy="199.4" r="0.33"/><circle cx="235.3" cy="189.3" r="0.33"/><circle cx="229.3" cy="198.1" r="0.33"/><circle cx="220.5" cy="188.5" r="0.33"/><circle cx="218.2" cy="209.3" r="0.33"/><circle cx="234.0" cy="209.4" r="0.33"/><circle cx="228.5" cy="207.0" r="0.33"/><circle cx="230.1" cy="203.2" r="0.33"/><circle cx="224.6" cy="200.4" r="0.33"/><circle cx="221.3" cy="196.9" r="0.33"/><circle cx="225.7" cy="193.3" r="0.33"/><circle cx="231.1" cy="210.6" r="0.33"/><circle cx="220.7" cy="205.4" r="0.33"/><circle cx="229.3" cy="197.4" r="0.33"/><circle cx="217.9" cy="209.7" r="0.33"/><circle cx="228.1" cy="203.3" r="0.33"/><circle cx="223.4" cy="215.1" r="0.33"/><circle cx="232.4" cy="194.4" r="0.33"/><circle cx="222.2" cy="200.8" r="0.33"/><circle cx="228.3" cy="193.1" r="0.33"/><circle cx="224.5" cy="198.3" r="0.33"/><circle cx="220.2" cy="210.8" r="0.33"/><circle cx="230.3" cy="196.2" r="0.33"/><circle cx="220.7" cy="211.0" r="0.33"/><circle cx="222.8" cy="205.5" r="0.33"/><circle cx="235.5" cy="199.5" r="0.33"/><circle cx="226.9" cy="215.7" r="0.33"/><circle cx="224.8" cy="207.0" r="0.33"/><circle cx="217.8" cy="207.6" r="0.33"/><circle cx="217.5" cy="220.9" r="0.33"/><circle cx="226.2" cy="191.5" r="0.33"/><circle cx="206.9" cy="206.6" r="0.33"/><circle cx="227.7" cy="195.4" r="0.33"/><circle cx="220.5" cy="203.2" r="0.33"/><circle cx="217.4" cy="200.6" r="0.33"/><circle cx="217.1" cy="198.4" r="0.33"/><circle cx="222.7" cy="205.6" r="0.33"/><circle cx="224.1" cy="200.4" r="0.33"/><circle cx="216.9" cy="209.8" r="0.33"/><circle cx="224.5" cy="212.8" r="0.33"/><circle cx="226.4" cy="199.1" r="0.33"/><circle cx="216.6" cy="204.1" r="0.33"/><circle cx="214.9" cy="208.1" r="0.33"/><circle cx="225.7" cy="204.3" r="0.33"/><circle cx="233.0" cy="208.7" r="0.33"/><circle cx="217.7" cy="208.1" r="0.33"/><circle cx="232.8" cy="180.7" r="0.33"/><circle cx="219.4" cy="207.7" r="0.33"/><circle cx="224.4" cy="204.7" r="0.33"/><circle cx="221.8" cy="206.8" r="0.33"/><circle cx="225.1" cy="206.6" r="0.33"/><circle cx="207.1" cy="211.6" r="0.33"/><circle cx="218.3" cy="200.1" r="0.33"/><circle cx="217.7" cy="212.4" r="0.33"/><circle cx="220.2" cy="210.2" r="0.33"/><circle cx="227.7" cy="200.8" r="0.33"/><circle cx="224.8" cy="200.7" r="0.33"/><circle cx="213.1" cy="212.1" r="0.33"/><circle cx="222.9" cy="199.4" r="0.33"/><circle cx="224.0" cy="207.4" r="0.33"/><circle cx="218.8" cy="211.5" r="0.33"/><circle cx="231.6" cy="191.1" r="0.33"/><circle cx="222.4" cy="202.6" r="0.33"/><circle cx="232.7" cy="196.3" r="0.33"/><circle cx="225.1" cy="196.2" r="0.33"/><circle cx="221.9" cy="204.1" r="0.33"/><circle cx="216.1" cy="219.8" r="0.33"/><circle cx="221.4" cy="192.1" r="0.33"/><circle cx="226.2" cy="199.2" r="0.33"/><circle cx="226.1" cy="202.8" r="0.33"/><circle cx="211.9" cy="211.9" r="0.33"/><circle cx="229.2" cy="193.2" r="0.33"/><circle cx="210.8" cy="204.8" r="0.33"/><circle cx="215.6" cy="212.4" r="0.33"/><circle cx="234.0" cy="195.8" r="0.33"/><circle cx="231.4" cy="211.1" r="0.33"/><circle cx="216.4" cy="204.4" r="0.33"/><circle cx="227.2" cy="203.0" r="0.33"/><circle cx="211.5" cy="205.4" r="0.33"/><circle cx="224.7" cy="203.3" r="0.33"/><circle cx="213.2" cy="210.8" r="0.33"/><circle cx="220.3" cy="208.9" r="0.33"/><circle cx="221.0" cy="204.3" r="0.33"/><circle cx="223.5" cy="210.1" r="0.33"/><circle cx="229.3" cy="194.5" r="0.33"/><circle cx="224.6" cy="196.2" r="0.33"/><circle cx="225.1" cy="206.4" r="0.33"/><circle cx="230.1" cy="193.8" r="0.33"/><circle cx="222.2" cy="205.2" r="0.33"/><circle cx="212.7" cy="212.7" r="0.33"/><circle cx="219.1" cy="209.3" r="0.33"/><circle cx="208.0" cy="203.0" r="0.33"/><circle cx="223.2" cy="204.8" r="0.33"/><circle cx="221.7" cy="210.6" r="0.33"/><circle cx="218.2" cy="203.3" r="0.33"/><circle cx="219.4" cy="195.3" r="0.33"/><circle cx="217.7" cy="207.8" r="0.33"/><circle cx="226.7" cy="198.5" r="0.33"/><circle cx="221.6" cy="199.7" r="0.33"/><circle cx="229.8" cy="208.6" r="0.33"/><circle cx="226.1" cy="217.0" r="0.33"/><circle cx="218.1" cy="207.8" r="0.33"/><circle cx="226.7" cy="206.9" r="0.33"/><circle cx="206.9" cy="203.2" r="0.33"/><circle cx="228.6" cy="203.5" r="0.33"/><circle cx="235.2" cy="210.4" r="0.33"/><circle cx="224.2" cy="203.8" r="0.33"/><circle cx="229.1" cy="200.0" r="0.33"/><circle cx="228.0" cy="189.6" r="0.33"/><circle cx="207.5" cy="193.1" r="0.33"/><circle cx="225.7" cy="197.9" r="0.33"/><circle cx="235.4" cy="206.8" r="0.33"/><circle cx="221.1" cy="203.1" r="0.33"/><circle cx="215.9" cy="203.7" r="0.33"/><circle cx="220.3" cy="210.1" r="0.33"/><circle cx="222.5" cy="204.0" r="0.33"/><circle cx="224.2" cy="208.5" r="0.33"/><circle cx="224.6" cy="200.6" r="0.33"/><circle cx="225.6" cy="199.6" r="0.33"/><circle cx="220.0" cy="216.2" r="0.33"/><circle cx="221.5" cy="197.7" r="0.33"/><circle cx="229.9" cy="199.1" r="0.33"/><circle cx="218.0" cy="219.2" r="0.33"/><circle cx="227.2" cy="205.5" r="0.33"/><circle cx="222.7" cy="202.3" r="0.33"/><circle cx="215.8" cy="216.7" r="0.33"/><circle cx="221.2" cy="202.7" r="0.33"/><circle cx="224.5" cy="202.3" r="0.33"/><circle cx="224.9" cy="198.7" r="0.33"/><circle cx="214.2" cy="196.1" r="0.33"/><circle cx="221.8" cy="209.0" r="0.33"/><circle cx="229.0" cy="194.9" r="0.33"/><circle cx="226.9" cy="210.7" r="0.33"/><circle cx="222.6" cy="208.7" r="0.33"/><circle cx="232.6" cy="194.4" r="0.33"/><circle cx="227.1" cy="194.2" r="0.33"/><circle cx="223.0" cy="202.5" r="0.33"/><circle cx="226.7" cy="207.6" r="0.33"/><circle cx="234.5" cy="187.6" r="0.33"/><circle cx="220.2" cy="209.2" r="0.33"/><circle cx="217.2" cy="212.0" r="0.33"/><circle cx="224.6" cy="199.6" r="0.33"/><circle cx="219.8" cy="195.0" r="0.33"/><circle cx="221.2" cy="193.7" r="0.33"/><circle cx="215.7" cy="205.9" r="0.33"/><circle cx="222.6" cy="209.6" r="0.33"/><circle cx="221.1" cy="202.0" r="0.33"/><circle cx="231.0" cy="206.9" r="0.33"/><circle cx="223.3" cy="205.4" r="0.33"/><circle cx="230.7" cy="197.8" r="0.33"/><circle cx="222.9" cy="220.9" r="0.33"/><circle cx="228.7" cy="183.6" r="0.33"/><circle cx="223.2" cy="205.8" r="0.33"/><circle cx="230.4" cy="200.9" r="0.33"/><circle cx="216.6" cy="201.6" r="0.33"/><circle cx="226.3" cy="207.3" r="0.33"/><circle cx="211.6" cy="206.4" r="0.33"/><circle cx="215.0" cy="196.8" r="0.33"/><circle cx="218.8" cy="203.8" r="0.33"/><circle cx="222.3" cy="198.7" r="0.33"/><circle cx="215.1" cy="207.6" r="0.33"/><circle cx="219.3" cy="201.8" r="0.33"/><circle cx="224.7" cy="206.8" r="0.33"/><circle cx="235.4" cy="203.6" r="0.33"/><circle cx="215.6" cy="206.9" r="0.33"/><circle cx="213.3" cy="225.6" r="0.33"/><circle cx="217.4" cy="208.1" r="0.33"/><circle cx="220.4" cy="195.8" r="0.33"/><circle cx="224.8" cy="201.2" r="0.33"/><circle cx="211.7" cy="215.7" r="0.33"/><circle cx="222.8" cy="190.0" r="0.33"/><circle cx="227.8" cy="200.1" r="0.33"/><circle cx="226.5" cy="202.9" r="0.33"/><circle cx="229.3" cy="195.6" r="0.33"/><circle cx="226.0" cy="197.4" r="0.33"/><circle cx="223.6" cy="196.7" r="0.33"/><circle cx="227.5" cy="211.2" r="0.33"/><circle cx="224.2" cy="200.8" r="0.33"/><circle cx="212.1" cy="207.6" r="0.33"/><circle cx="226.5" cy="206.5" r="0.33"/><circle cx="226.5" cy="203.5" r="0.33"/><circle cx="226.5" cy="209.4" r="0.33"/><circle cx="217.6" cy="204.2" r="0.33"/><circle cx="227.7" cy="199.1" r="0.33"/><circle cx="218.2" cy="203.4" r="0.33"/><circle cx="222.6" cy="207.9" r="0.33"/><circle cx="219.9" cy="197.3" r="0.33"/><circle cx="225.3" cy="202.2" r="0.33"/><circle cx="218.5" cy="212.7" r="0.33"/><circle cx="219.1" cy="204.3" r="0.33"/><circle cx="231.6" cy="204.4" r="0.33"/><circle cx="219.3" cy="209.7" r="0.33"/><circle cx="224.8" cy="217.9" r="0.33"/><circle cx="223.2" cy="211.4" r="0.33"/><circle cx="220.9" cy="210.8" r="0.33"/><circle cx="226.8" cy="181.5" r="0.33"/><circle cx="221.1" cy="208.4" r="0.33"/><circle cx="219.1" cy="202.0" r="0.33"/><circle cx="235.7" cy="191.8" r="0.33"/><circle cx="214.8" cy="216.8" r="0.33"/><circle cx="215.4" cy="218.4" r="0.33"/><circle cx="218.9" cy="207.9" r="0.33"/><circle cx="230.3" cy="197.1" r="0.33"/><circle cx="207.3" cy="205.6" r="0.33"/><circle cx="232.0" cy="200.0" r="0.33"/><circle cx="220.0" cy="212.0" r="0.33"/><circle cx="227.4" cy="203.6" r="0.33"/><circle cx="206.9" cy="215.9" r="0.33"/><circle cx="230.2" cy="201.6" r="0.33"/><circle cx="218.8" cy="189.5" r="0.33"/><circle cx="224.8" cy="204.9" r="0.33"/><circle cx="234.5" cy="185.6" r="0.33"/><circle cx="220.1" cy="206.0" r="0.33"/><circle cx="225.9" cy="197.2" r="0.33"/><circle cx="226.3" cy="194.4" r="0.33"/><circle cx="221.8" cy="200.4" r="0.33"/><circle cx="220.5" cy="200.5" r="0.33"/><circle cx="215.9" cy="217.4" r="0.33"/><circle cx="221.9" cy="200.1" r="0.33"/><circle cx="226.8" cy="206.6" r="0.33"/><circle cx="215.5" cy="209.2" r="0.33"/><circle cx="227.2" cy="202.9" r="0.33"/><circle cx="212.4" cy="197.9" r="0.33"/><circle cx="230.9" cy="198.0" r="0.33"/><circle cx="221.1" cy="202.9" r="0.33"/><circle cx="222.1" cy="200.9" r="0.33"/><circle cx="213.0" cy="207.1" r="0.33"/><circle cx="216.1" cy="205.1" r="0.33"/><circle cx="217.1" cy="213.1" r="0.33"/><circle cx="216.2" cy="214.1" r="0.33"/><circle cx="216.9" cy="211.2" r="0.33"/><circle cx="231.3" cy="196.8" r="0.33"/><circle cx="217.6" cy="208.4" r="0.33"/><circle cx="216.8" cy="196.5" r="0.33"/><circle cx="218.8" cy="208.1" r="0.33"/><circle cx="219.4" cy="207.0" r="0.33"/><circle cx="229.3" cy="202.7" r="0.33"/><circle cx="229.7" cy="201.0" r="0.33"/><circle cx="220.1" cy="205.6" r="0.33"/><circle cx="219.2" cy="204.4" r="0.33"/><circle cx="214.8" cy="198.5" r="0.33"/><circle cx="219.8" cy="205.8" r="0.33"/><circle cx="215.9" cy="209.6" r="0.33"/><circle cx="224.6" cy="200.4" r="0.33"/><circle cx="225.7" cy="182.0" r="0.33"/><circle cx="214.2" cy="198.3" r="0.33"/><circle cx="237.5" cy="208.4" r="0.33"/><circle cx="206.9" cy="219.0" r="0.33"/><circle cx="224.2" cy="199.8" r="0.33"/><circle cx="217.5" cy="192.3" r="0.33"/><circle cx="228.6" cy="200.5" r="0.33"/><circle cx="220.1" cy="201.6" r="0.33"/><circle cx="224.2" cy="198.5" r="0.33"/><circle cx="221.6" cy="200.8" r="0.33"/><circle cx="207.9" cy="216.9" r="0.33"/><circle cx="225.9" cy="205.7" r="0.33"/><circle cx="216.4" cy="209.0" r="0.33"/><circle cx="226.4" cy="201.0" r="0.33"/><circle cx="236.8" cy="204.4" r="0.33"/><circle cx="209.5" cy="202.0" r="0.33"/><circle cx="232.7" cy="204.9" r="0.33"/><circle cx="230.6" cy="201.7" r="0.33"/><circle cx="215.6" cy="204.9" r="0.33"/><circle cx="224.3" cy="195.4" r="0.33"/><circle cx="207.2" cy="210.7" r="0.33"/><circle cx="244.3" cy="196.9" r="0.33"/><circle cx="215.1" cy="205.2" r="0.33"/><circle cx="220.8" cy="199.8" r="0.33"/><circle cx="229.9" cy="196.1" r="0.33"/><circle cx="219.9" cy="215.3" r="0.33"/><circle cx="219.2" cy="208.2" r="0.33"/><circle cx="220.8" cy="202.9" r="0.33"/><circle cx="221.6" cy="199.5" r="0.33"/><circle cx="202.7" cy="206.3" r="0.33"/><circle cx="211.4" cy="208.5" r="0.33"/><circle cx="222.1" cy="204.3" r="0.33"/><circle cx="225.9" cy="201.2" r="0.33"/><circle cx="214.6" cy="205.9" r="0.33"/><circle cx="208.2" cy="215.6" r="0.33"/><circle cx="226.9" cy="203.2" r="0.33"/><circle cx="220.6" cy="204.0" r="0.33"/><circle cx="227.9" cy="198.6" r="0.33"/><circle cx="228.7" cy="201.9" r="0.33"/><circle cx="228.0" cy="207.7" r="0.33"/><circle cx="217.2" cy="206.0" r="0.33"/><circle cx="214.2" cy="205.7" r="0.33"/><circle cx="237.9" cy="201.7" r="0.33"/><circle cx="224.2" cy="206.0" r="0.33"/><circle cx="232.2" cy="200.3" r="0.33"/><circle cx="225.0" cy="192.2" r="0.33"/><circle cx="219.6" cy="209.4" r="0.33"/><circle cx="231.3" cy="196.1" r="0.33"/><circle cx="215.4" cy="207.6" r="0.33"/><circle cx="214.8" cy="204.6" r="0.33"/><circle cx="229.1" cy="192.9" r="0.33"/><circle cx="229.8" cy="212.1" r="0.33"/><circle cx="230.6" cy="198.4" r="0.33"/><circle cx="219.7" cy="209.1" r="0.33"/><circle cx="234.3" cy="197.0" r="0.33"/><circle cx="230.2" cy="197.1" r="0.33"/><circle cx="224.5" cy="200.2" r="0.33"/><circle cx="229.3" cy="206.5" r="0.33"/><circle cx="212.9" cy="212.1" r="0.33"/><circle cx="221.5" cy="200.4" r="0.33"/><circle cx="222.9" cy="208.8" r="0.33"/><circle cx="236.7" cy="194.8" r="0.33"/><circle cx="218.5" cy="196.2" r="0.33"/><circle cx="234.3" cy="193.1" r="0.33"/><circle cx="217.8" cy="199.9" r="0.33"/><circle cx="217.8" cy="200.2" r="0.33"/><circle cx="224.1" cy="205.4" r="0.33"/><circle cx="223.2" cy="204.9" r="0.33"/><circle cx="221.8" cy="214.4" r="0.33"/><circle cx="211.5" cy="200.9" r="0.33"/><circle cx="218.1" cy="202.2" r="0.33"/><circle cx="214.5" cy="208.5" r="0.33"/><circle cx="219.6" cy="197.8" r="0.33"/><circle cx="226.2" cy="210.2" r="0.33"/><circle cx="225.7" cy="199.5" r="0.33"/><circle cx="222.4" cy="202.8" r="0.33"/><circle cx="224.3" cy="207.1" r="0.33"/><circle cx="212.9" cy="195.4" r="0.33"/><circle cx="218.7" cy="200.7" r="0.33"/><circle cx="223.9" cy="197.9" r="0.33"/><circle cx="230.6" cy="211.4" r="0.33"/><circle cx="211.5" cy="205.8" r="0.33"/><circle cx="204.7" cy="203.1" r="0.33"/><circle cx="211.6" cy="216.3" r="0.33"/><circle cx="211.4" cy="200.6" r="0.33"/><circle cx="215.0" cy="214.9" r="0.33"/><circle cx="215.9" cy="207.1" r="0.33"/><circle cx="228.9" cy="207.2" r="0.33"/><circle cx="237.7" cy="196.7" r="0.33"/><circle cx="223.5" cy="203.9" r="0.33"/><circle cx="238.3" cy="199.0" r="0.33"/><circle cx="221.7" cy="207.5" r="0.33"/><circle cx="224.0" cy="202.5" r="0.33"/><circle cx="214.2" cy="201.9" r="0.33"/><circle cx="213.2" cy="201.2" r="0.33"/><circle cx="231.5" cy="198.9" r="0.33"/><circle cx="219.5" cy="216.3" r="0.33"/><circle cx="220.8" cy="191.6" r="0.33"/><circle cx="236.3" cy="196.4" r="0.33"/><circle cx="230.5" cy="187.4" r="0.33"/><circle cx="226.8" cy="202.5" r="0.33"/><circle cx="223.9" cy="203.5" r="0.33"/><circle cx="223.2" cy="192.2" r="0.33"/><circle cx="209.3" cy="205.9" r="0.33"/><circle cx="216.4" cy="204.9" r="0.33"/><circle cx="225.2" cy="202.9" r="0.33"/><circle cx="219.8" cy="201.2" r="0.33"/><circle cx="222.6" cy="210.2" r="0.33"/><circle cx="227.1" cy="200.0" r="0.33"/><circle cx="225.5" cy="211.8" r="0.33"/><circle cx="220.6" cy="209.9" r="0.33"/><circle cx="228.2" cy="196.3" r="0.33"/><circle cx="223.2" cy="195.0" r="0.33"/><circle cx="229.0" cy="198.9" r="0.33"/><circle cx="214.5" cy="215.7" r="0.33"/><circle cx="221.0" cy="214.0" r="0.33"/><circle cx="217.2" cy="207.3" r="0.33"/><circle cx="222.6" cy="201.1" r="0.33"/><circle cx="221.7" cy="200.4" r="0.33"/><circle cx="226.2" cy="200.1" r="0.33"/><circle cx="213.6" cy="192.3" r="0.33"/><circle cx="229.3" cy="197.4" r="0.33"/><circle cx="211.3" cy="214.7" r="0.33"/><circle cx="228.7" cy="205.4" r="0.33"/><circle cx="220.8" cy="216.2" r="0.33"/><circle cx="229.5" cy="214.0" r="0.33"/><circle cx="223.5" cy="207.4" r="0.33"/><circle cx="215.8" cy="201.9" r="0.33"/><circle cx="232.0" cy="201.1" r="0.33"/><circle cx="234.6" cy="198.3" r="0.33"/><circle cx="212.5" cy="201.0" r="0.33"/><circle cx="215.6" cy="205.2" r="0.33"/><circle cx="219.0" cy="210.9" r="0.33"/><circle cx="223.1" cy="201.1" r="0.33"/><circle cx="222.6" cy="202.4" r="0.33"/><circle cx="226.0" cy="205.6" r="0.33"/><circle cx="225.5" cy="195.8" r="0.33"/><circle cx="217.7" cy="218.2" r="0.33"/><circle cx="226.6" cy="207.5" r="0.33"/><circle cx="210.6" cy="212.3" r="0.33"/><circle cx="217.1" cy="198.4" r="0.33"/><circle cx="221.4" cy="209.7" r="0.33"/><circle cx="234.4" cy="203.8" r="0.33"/><circle cx="211.7" cy="203.7" r="0.33"/><circle cx="228.6" cy="204.6" r="0.33"/><circle cx="218.6" cy="197.9" r="0.33"/><circle cx="229.7" cy="202.5" r="0.33"/><circle cx="223.7" cy="198.9" r="0.33"/><circle cx="226.7" cy="205.2" r="0.33"/><circle cx="212.0" cy="200.2" r="0.33"/><circle cx="225.7" cy="203.9" r="0.33"/><circle cx="225.2" cy="207.3" r="0.33"/><circle cx="218.1" cy="207.1" r="0.33"/><circle cx="222.1" cy="207.9" r="0.33"/><circle cx="231.0" cy="193.8" r="0.33"/><circle cx="240.2" cy="197.9" r="0.33"/><circle cx="229.0" cy="201.6" r="0.33"/><circle cx="232.4" cy="193.0" r="0.33"/><circle cx="217.5" cy="200.6" r="0.33"/><circle cx="229.7" cy="206.4" r="0.33"/><circle cx="226.8" cy="202.5" r="0.33"/><circle cx="221.4" cy="205.8" r="0.33"/><circle cx="216.9" cy="216.2" r="0.33"/><circle cx="215.5" cy="202.2" r="0.33"/><circle cx="214.4" cy="205.2" r="0.33"/><circle cx="231.1" cy="203.1" r="0.33"/><circle cx="216.8" cy="215.4" r="0.33"/><circle cx="225.5" cy="196.6" r="0.33"/><circle cx="210.1" cy="209.8" r="0.33"/><circle cx="219.3" cy="209.0" r="0.33"/><circle cx="212.6" cy="198.4" r="0.33"/><circle cx="218.0" cy="196.8" r="0.33"/><circle cx="223.3" cy="194.2" r="0.33"/><circle cx="214.7" cy="204.8" r="0.33"/><circle cx="223.2" cy="212.1" r="0.33"/><circle cx="229.4" cy="201.3" r="0.33"/><circle cx="218.5" cy="196.3" r="0.33"/><circle cx="216.8" cy="204.9" r="0.33"/><circle cx="217.7" cy="211.6" r="0.33"/><circle cx="214.9" cy="205.6" r="0.33"/><circle cx="208.2" cy="202.2" r="0.33"/><circle cx="230.4" cy="205.6" r="0.33"/><circle cx="219.6" cy="199.3" r="0.33"/><circle cx="205.8" cy="220.3" r="0.33"/><circle cx="230.6" cy="198.1" r="0.33"/><circle cx="233.0" cy="204.2" r="0.33"/><circle cx="227.4" cy="195.8" r="0.33"/><circle cx="231.3" cy="200.8" r="0.33"/><circle cx="211.0" cy="211.4" r="0.33"/><circle cx="212.8" cy="211.8" r="0.33"/><circle cx="221.8" cy="196.6" r="0.33"/><circle cx="213.8" cy="220.9" r="0.33"/><circle cx="229.6" cy="207.4" r="0.33"/><circle cx="217.5" cy="215.7" r="0.33"/><circle cx="242.0" cy="199.6" r="0.33"/><circle cx="221.6" cy="206.2" r="0.33"/><circle cx="224.6" cy="208.7" r="0.33"/><circle cx="228.8" cy="198.3" r="0.33"/><circle cx="216.2" cy="214.7" r="0.33"/><circle cx="221.3" cy="209.1" r="0.33"/><circle cx="229.4" cy="208.6" r="0.33"/><circle cx="227.5" cy="195.7" r="0.33"/><circle cx="230.4" cy="208.7" r="0.33"/><circle cx="220.2" cy="208.8" r="0.33"/><circle cx="233.9" cy="201.9" r="0.33"/><circle cx="220.5" cy="196.0" r="0.33"/><circle cx="215.0" cy="212.3" r="0.33"/><circle cx="233.4" cy="211.4" r="0.33"/><circle cx="220.7" cy="213.3" r="0.33"/><circle cx="220.9" cy="193.2" r="0.33"/><circle cx="217.5" cy="209.4" r="0.33"/><circle cx="218.4" cy="206.3" r="0.33"/><circle cx="222.1" cy="198.2" r="0.33"/><circle cx="222.6" cy="198.9" r="0.33"/><circle cx="220.5" cy="209.2" r="0.33"/><circle cx="219.5" cy="208.4" r="0.33"/><circle cx="232.0" cy="194.8" r="0.33"/><circle cx="223.7" cy="207.6" r="0.33"/><circle cx="223.6" cy="210.2" r="0.33"/><circle cx="216.2" cy="213.8" r="0.33"/><circle cx="216.0" cy="203.9" r="0.33"/><circle cx="230.0" cy="190.5" r="0.33"/><circle cx="235.3" cy="196.3" r="0.33"/><circle cx="227.6" cy="191.9" r="0.33"/><circle cx="234.6" cy="202.6" r="0.33"/><circle cx="220.8" cy="204.2" r="0.33"/><circle cx="237.9" cy="190.4" r="0.33"/><circle cx="217.1" cy="204.1" r="0.33"/><circle cx="225.9" cy="202.7" r="0.33"/><circle cx="229.2" cy="209.5" r="0.33"/><circle cx="221.6" cy="207.7" r="0.33"/><circle cx="227.5" cy="191.7" r="0.33"/><circle cx="235.0" cy="204.9" r="0.33"/><circle cx="209.7" cy="207.7" r="0.33"/><circle cx="209.0" cy="203.0" r="0.33"/><circle cx="218.2" cy="194.3" r="0.33"/><circle cx="230.3" cy="206.6" r="0.33"/><circle cx="210.8" cy="212.2" r="0.33"/><circle cx="212.8" cy="218.1" r="0.33"/><circle cx="216.5" cy="207.3" r="0.33"/><circle cx="224.3" cy="205.8" r="0.33"/><circle cx="219.9" cy="206.1" r="0.33"/><circle cx="219.0" cy="207.6" r="0.33"/><circle cx="214.9" cy="211.0" r="0.33"/><circle cx="208.2" cy="213.3" r="0.33"/><circle cx="234.2" cy="193.2" r="0.33"/><circle cx="215.1" cy="212.3" r="0.33"/><circle cx="210.1" cy="203.4" r="0.33"/><circle cx="220.0" cy="211.1" r="0.33"/><circle cx="224.0" cy="201.4" r="0.33"/><circle cx="212.4" cy="205.3" r="0.33"/><circle cx="231.3" cy="197.1" r="0.33"/><circle cx="208.6" cy="201.5" r="0.33"/><circle cx="222.3" cy="221.4" r="0.33"/><circle cx="214.6" cy="210.4" r="0.33"/><circle cx="222.7" cy="202.2" r="0.33"/><circle cx="215.4" cy="200.4" r="0.33"/><circle cx="221.5" cy="216.5" r="0.33"/><circle cx="220.3" cy="211.6" r="0.33"/><circle cx="210.5" cy="212.8" r="0.33"/><circle cx="227.3" cy="206.4" r="0.33"/><circle cx="217.1" cy="212.8" r="0.33"/><circle cx="221.8" cy="199.0" r="0.33"/><circle cx="221.8" cy="197.8" r="0.33"/><circle cx="217.0" cy="208.5" r="0.33"/><circle cx="204.7" cy="219.3" r="0.33"/><circle cx="210.6" cy="204.2" r="0.33"/><circle cx="222.1" cy="209.4" r="0.33"/><circle cx="224.0" cy="211.2" r="0.33"/><circle cx="210.1" cy="205.7" r="0.33"/><circle cx="233.1" cy="196.5" r="0.33"/><circle cx="224.9" cy="195.4" r="0.33"/><circle cx="227.9" cy="200.3" r="0.33"/><circle cx="226.1" cy="200.3" r="0.33"/><circle cx="227.2" cy="194.5" r="0.33"/><circle cx="210.8" cy="204.0" r="0.33"/><circle cx="226.6" cy="194.5" r="0.33"/><circle cx="212.2" cy="206.5" r="0.33"/><circle cx="214.7" cy="201.7" r="0.33"/><circle cx="218.0" cy="203.3" r="0.33"/><circle cx="215.2" cy="203.5" r="0.33"/><circle cx="220.6" cy="202.0" r="0.33"/><circle cx="223.6" cy="204.3" r="0.33"/><circle cx="216.4" cy="193.7" r="0.33"/><circle cx="215.8" cy="204.1" r="0.33"/><circle cx="221.2" cy="193.5" r="0.33"/><circle cx="216.5" cy="207.0" r="0.33"/><circle cx="223.4" cy="209.7" r="0.33"/><circle cx="222.7" cy="210.2" r="0.33"/><circle cx="206.5" cy="205.6" r="0.33"/><circle cx="231.1" cy="198.6" r="0.33"/><circle cx="225.5" cy="201.6" r="0.33"/><circle cx="220.7" cy="196.6" r="0.33"/><circle cx="226.0" cy="196.5" r="0.33"/><circle cx="228.4" cy="198.6" r="0.33"/><circle cx="205.2" cy="210.5" r="0.33"/><circle cx="228.5" cy="196.9" r="0.33"/><circle cx="220.4" cy="207.2" r="0.33"/><circle cx="217.4" cy="204.4" r="0.33"/><circle cx="223.1" cy="204.0" r="0.33"/><circle cx="231.6" cy="195.4" r="0.33"/><circle cx="240.1" cy="200.0" r="0.33"/><circle cx="236.4" cy="198.1" r="0.33"/><circle cx="223.3" cy="203.8" r="0.33"/><circle cx="218.5" cy="202.0" r="0.33"/><circle cx="219.3" cy="201.9" r="0.33"/><circle cx="234.1" cy="196.5" r="0.33"/><circle cx="212.4" cy="199.3" r="0.33"/><circle cx="220.2" cy="202.7" r="0.33"/><circle cx="211.2" cy="206.0" r="0.33"/><circle cx="210.0" cy="219.2" r="0.33"/><circle cx="230.7" cy="214.2" r="0.33"/><circle cx="221.3" cy="203.6" r="0.33"/><circle cx="231.5" cy="196.1" r="0.33"/><circle cx="221.7" cy="201.6" r="0.33"/><circle cx="223.6" cy="213.2" r="0.33"/><circle cx="234.3" cy="204.7" r="0.33"/><circle cx="219.9" cy="206.1" r="0.33"/><circle cx="220.0" cy="212.8" r="0.33"/><circle cx="215.3" cy="214.2" r="0.33"/><circle cx="233.8" cy="203.0" r="0.33"/><circle cx="220.0" cy="213.6" r="0.33"/><circle cx="214.9" cy="205.3" r="0.33"/><circle cx="217.9" cy="216.1" r="0.33"/><circle cx="230.1" cy="192.2" r="0.33"/><circle cx="216.1" cy="207.1" r="0.33"/><circle cx="241.1" cy="193.3" r="0.33"/><circle cx="212.3" cy="200.3" r="0.33"/><circle cx="222.0" cy="212.4" r="0.33"/><circle cx="232.7" cy="192.2" r="0.33"/><circle cx="215.9" cy="206.1" r="0.33"/><circle cx="213.5" cy="218.4" r="0.33"/><circle cx="219.0" cy="214.3" r="0.33"/><circle cx="206.9" cy="209.1" r="0.33"/><circle cx="221.1" cy="199.4" r="0.33"/><circle cx="226.9" cy="199.5" r="0.33"/><circle cx="216.9" cy="213.2" r="0.33"/><circle cx="220.4" cy="191.8" r="0.33"/><circle cx="235.1" cy="195.3" r="0.33"/><circle cx="220.1" cy="192.5" r="0.33"/><circle cx="216.3" cy="206.8" r="0.33"/><circle cx="223.5" cy="192.2" r="0.33"/><circle cx="209.3" cy="201.4" r="0.33"/><circle cx="221.7" cy="206.7" r="0.33"/><circle cx="209.4" cy="211.5" r="0.33"/><circle cx="230.8" cy="207.1" r="0.33"/><circle cx="225.1" cy="199.0" r="0.33"/><circle cx="211.4" cy="207.3" r="0.33"/><circle cx="218.4" cy="208.4" r="0.33"/><circle cx="227.6" cy="210.6" r="0.33"/><circle cx="220.0" cy="198.3" r="0.33"/><circle cx="235.0" cy="198.7" r="0.33"/><circle cx="220.1" cy="200.7" r="0.33"/><circle cx="206.7" cy="211.0" r="0.33"/><circle cx="224.8" cy="195.7" r="0.33"/><circle cx="214.5" cy="212.4" r="0.33"/><circle cx="225.7" cy="204.9" r="0.33"/><circle cx="231.1" cy="205.6" r="0.33"/><circle cx="220.3" cy="212.6" r="0.33"/><circle cx="218.3" cy="212.4" r="0.33"/><circle cx="224.0" cy="203.9" r="0.33"/><circle cx="228.0" cy="198.3" r="0.33"/><circle cx="232.0" cy="200.9" r="0.33"/><circle cx="220.8" cy="201.1" r="0.33"/><circle cx="215.4" cy="206.4" r="0.33"/><circle cx="220.7" cy="205.1" r="0.33"/><circle cx="242.8" cy="189.1" r="0.33"/><circle cx="223.7" cy="196.3" r="0.33"/><circle cx="216.5" cy="206.9" r="0.33"/><circle cx="219.5" cy="198.9" r="0.33"/><circle cx="230.0" cy="192.5" r="0.33"/><circle cx="220.4" cy="188.9" r="0.33"/><circle cx="222.9" cy="205.1" r="0.33"/><circle cx="225.3" cy="205.2" r="0.33"/><circle cx="224.3" cy="203.0" r="0.33"/><circle cx="207.7" cy="212.3" r="0.33"/><circle cx="209.7" cy="220.0" r="0.33"/><circle cx="223.2" cy="201.5" r="0.33"/><circle cx="214.8" cy="206.5" r="0.33"/><circle cx="239.6" cy="199.9" r="0.33"/><circle cx="226.2" cy="209.2" r="0.33"/><circle cx="205.3" cy="205.8" r="0.33"/><circle cx="215.9" cy="203.5" r="0.33"/><circle cx="219.2" cy="208.0" r="0.33"/><circle cx="238.5" cy="184.0" r="0.33"/><circle cx="223.3" cy="204.8" r="0.33"/><circle cx="225.1" cy="207.7" r="0.33"/><circle cx="228.6" cy="189.0" r="0.33"/><circle cx="222.1" cy="202.1" r="0.33"/><circle cx="218.8" cy="196.1" r="0.33"/><circle cx="202.9" cy="205.4" r="0.33"/><circle cx="225.9" cy="201.7" r="0.33"/><circle cx="214.1" cy="194.6" r="0.33"/><circle cx="217.0" cy="203.3" r="0.33"/><circle cx="210.0" cy="208.7" r="0.33"/><circle cx="228.3" cy="202.0" r="0.33"/><circle cx="223.7" cy="206.1" r="0.33"/><circle cx="218.5" cy="207.8" r="0.33"/><circle cx="224.2" cy="205.9" r="0.33"/><circle cx="221.1" cy="203.9" r="0.33"/><circle cx="218.9" cy="202.3" r="0.33"/><circle cx="237.7" cy="193.0" r="0.33"/><circle cx="232.8" cy="210.2" r="0.33"/><circle cx="225.2" cy="189.9" r="0.33"/><circle cx="229.3" cy="203.2" r="0.33"/><circle cx="238.4" cy="198.1" r="0.33"/><circle cx="222.6" cy="195.1" r="0.33"/><circle cx="217.5" cy="210.1" r="0.33"/><circle cx="221.5" cy="197.2" r="0.33"/><circle cx="218.2" cy="204.7" r="0.33"/><circle cx="223.6" cy="204.9" r="0.33"/><circle cx="215.8" cy="201.0" r="0.33"/><circle cx="235.4" cy="202.9" r="0.33"/><circle cx="225.0" cy="208.5" r="0.33"/><circle cx="227.1" cy="203.9" r="0.33"/><circle cx="222.3" cy="198.3" r="0.33"/><circle cx="229.2" cy="204.5" r="0.33"/><circle cx="223.4" cy="216.7" r="0.33"/><circle cx="241.5" cy="198.8" r="0.33"/><circle cx="237.0" cy="195.3" r="0.33"/><circle cx="217.8" cy="203.7" r="0.33"/><circle cx="217.4" cy="209.2" r="0.33"/><circle cx="224.2" cy="206.7" r="0.33"/><circle cx="217.6" cy="224.5" r="0.33"/><circle cx="236.1" cy="190.7" r="0.33"/><circle cx="227.9" cy="201.9" r="0.33"/><circle cx="223.0" cy="201.6" r="0.33"/><circle cx="218.3" cy="201.6" r="0.33"/><circle cx="223.0" cy="202.9" r="0.33"/><circle cx="221.0" cy="198.9" r="0.33"/><circle cx="222.4" cy="204.0" r="0.33"/><circle cx="222.0" cy="196.5" r="0.33"/><circle cx="228.1" cy="205.3" r="0.33"/><circle cx="224.4" cy="199.1" r="0.33"/><circle cx="218.1" cy="205.9" r="0.33"/><circle cx="232.0" cy="205.7" r="0.33"/><circle cx="218.7" cy="202.5" r="0.33"/><circle cx="225.1" cy="202.6" r="0.33"/><circle cx="213.7" cy="206.5" r="0.33"/><circle cx="223.8" cy="207.1" r="0.33"/><circle cx="211.0" cy="207.0" r="0.33"/><circle cx="220.8" cy="196.4" r="0.33"/><circle cx="223.9" cy="204.7" r="0.33"/><circle cx="217.7" cy="200.8" r="0.33"/><circle cx="220.5" cy="203.1" r="0.33"/><circle cx="221.1" cy="198.9" r="0.33"/><circle cx="222.8" cy="191.3" r="0.33"/><circle cx="220.9" cy="205.1" r="0.33"/><circle cx="225.8" cy="196.1" r="0.33"/><circle cx="223.4" cy="198.7" r="0.33"/><circle cx="232.8" cy="206.3" r="0.33"/><circle cx="221.1" cy="208.0" r="0.33"/><circle cx="219.7" cy="213.1" r="0.33"/><circle cx="229.7" cy="197.1" r="0.33"/><circle cx="216.4" cy="212.1" r="0.33"/><circle cx="233.0" cy="201.5" r="0.33"/><circle cx="220.6" cy="192.3" r="0.33"/><circle cx="222.8" cy="213.3" r="0.33"/><circle cx="218.4" cy="215.4" r="0.33"/><circle cx="236.4" cy="196.0" r="0.33"/><circle cx="227.8" cy="196.2" r="0.33"/><circle cx="214.0" cy="210.7" r="0.33"/><circle cx="220.6" cy="205.0" r="0.33"/><circle cx="225.8" cy="199.4" r="0.33"/><circle cx="224.7" cy="204.5" r="0.33"/><circle cx="228.5" cy="211.0" r="0.33"/><circle cx="225.1" cy="201.8" r="0.33"/><circle cx="218.5" cy="202.8" r="0.33"/><circle cx="230.9" cy="196.8" r="0.33"/><circle cx="213.3" cy="208.1" r="0.33"/><circle cx="219.6" cy="203.1" r="0.33"/><circle cx="224.6" cy="193.3" r="0.33"/><circle cx="225.6" cy="201.7" r="0.33"/><circle cx="214.8" cy="211.0" r="0.33"/><circle cx="223.2" cy="206.5" r="0.33"/><circle cx="220.3" cy="207.8" r="0.33"/><circle cx="207.8" cy="209.5" r="0.33"/><circle cx="230.6" cy="203.4" r="0.33"/><circle cx="219.8" cy="201.8" r="0.33"/><circle cx="221.3" cy="189.8" r="0.33"/><circle cx="219.4" cy="211.2" r="0.33"/><circle cx="222.4" cy="196.3" r="0.33"/><circle cx="215.4" cy="220.5" r="0.33"/><circle cx="219.8" cy="199.7" r="0.33"/><circle cx="225.5" cy="207.1" r="0.33"/><circle cx="209.8" cy="223.2" r="0.33"/><circle cx="219.2" cy="191.8" r="0.33"/><circle cx="220.5" cy="192.8" r="0.33"/><circle cx="230.5" cy="198.9" r="0.33"/><circle cx="233.8" cy="188.6" r="0.33"/><circle cx="225.7" cy="208.0" r="0.33"/><circle cx="215.5" cy="205.0" r="0.33"/><circle cx="219.4" cy="205.9" r="0.33"/><circle cx="217.0" cy="212.1" r="0.33"/><circle cx="225.6" cy="201.1" r="0.33"/><circle cx="231.4" cy="192.9" r="0.33"/><circle cx="228.2" cy="194.3" r="0.33"/><circle cx="219.8" cy="192.3" r="0.33"/><circle cx="222.6" cy="202.2" r="0.33"/><circle cx="216.8" cy="204.5" r="0.33"/><circle cx="217.3" cy="203.3" r="0.33"/><circle cx="206.3" cy="214.4" r="0.33"/><circle cx="216.7" cy="205.2" r="0.33"/><circle cx="214.9" cy="209.6" r="0.33"/><circle cx="226.0" cy="198.5" r="0.33"/><circle cx="223.8" cy="212.0" r="0.33"/><circle cx="231.3" cy="201.8" r="0.33"/><circle cx="228.0" cy="196.1" r="0.33"/><circle cx="225.1" cy="209.0" r="0.33"/><circle cx="218.1" cy="206.8" r="0.33"/><circle cx="225.7" cy="203.2" r="0.33"/><circle cx="223.8" cy="209.3" r="0.33"/><circle cx="223.5" cy="207.8" r="0.33"/><circle cx="231.0" cy="200.3" r="0.33"/><circle cx="222.4" cy="195.3" r="0.33"/><circle cx="211.7" cy="209.2" r="0.33"/><circle cx="230.3" cy="207.0" r="0.33"/><circle cx="215.5" cy="212.3" r="0.33"/><circle cx="214.1" cy="206.2" r="0.33"/></g>
<g fill="#8888c0" opacity="0.5"><circle cx="219.8" cy="208.8" r="0.3"/><circle cx="227.1" cy="208.0" r="0.3"/><circle cx="214.8" cy="215.9" r="0.3"/><circle cx="226.6" cy="194.8" r="0.3"/><circle cx="218.7" cy="194.4" r="0.3"/><circle cx="205.9" cy="208.3" r="0.3"/><circle cx="230.1" cy="226.3" r="0.3"/><circle cx="223.9" cy="216.8" r="0.3"/><circle cx="221.7" cy="202.4" r="0.3"/><circle cx="219.7" cy="190.8" r="0.3"/><circle cx="228.4" cy="197.0" r="0.3"/><circle cx="208.4" cy="218.4" r="0.3"/><circle cx="225.6" cy="200.5" r="0.3"/><circle cx="229.4" cy="186.3" r="0.3"/><circle cx="227.1" cy="202.7" r="0.3"/><circle cx="217.5" cy="217.3" r="0.3"/><circle cx="197.3" cy="205.3" r="0.3"/><circle cx="215.9" cy="190.6" r="0.3"/><circle cx="206.9" cy="192.1" r="0.3"/><circle cx="211.6" cy="194.0" r="0.3"/><circle cx="211.6" cy="189.1" r="0.3"/><circle cx="220.3" cy="196.6" r="0.3"/><circle cx="218.1" cy="201.0" r="0.3"/><circle cx="211.0" cy="192.2" r="0.3"/><circle cx="195.7" cy="223.2" r="0.3"/><circle cx="207.0" cy="206.7" r="0.3"/><circle cx="209.6" cy="185.4" r="0.3"/><circle cx="207.6" cy="204.2" r="0.3"/><circle cx="210.7" cy="212.8" r="0.3"/><circle cx="211.7" cy="197.7" r="0.3"/><circle cx="214.3" cy="215.4" r="0.3"/><circle cx="215.8" cy="211.2" r="0.3"/><circle cx="210.3" cy="185.9" r="0.3"/><circle cx="208.5" cy="210.9" r="0.3"/><circle cx="225.8" cy="204.3" r="0.3"/><circle cx="231.4" cy="202.2" r="0.3"/><circle cx="213.4" cy="203.7" r="0.3"/><circle cx="222.2" cy="192.9" r="0.3"/><circle cx="217.5" cy="182.9" r="0.3"/><circle cx="222.7" cy="195.5" r="0.3"/><circle cx="206.8" cy="224.5" r="0.3"/><circle cx="220.9" cy="199.6" r="0.3"/><circle cx="205.7" cy="207.7" r="0.3"/><circle cx="226.2" cy="184.2" r="0.3"/><circle cx="182.3" cy="224.8" r="0.3"/><circle cx="206.7" cy="210.9" r="0.3"/><circle cx="208.9" cy="199.2" r="0.3"/><circle cx="217.0" cy="215.8" r="0.3"/><circle cx="217.4" cy="226.7" r="0.3"/><circle cx="206.5" cy="199.3" r="0.3"/><circle cx="228.4" cy="199.3" r="0.3"/><circle cx="213.4" cy="215.5" r="0.3"/><circle cx="196.2" cy="211.0" r="0.3"/><circle cx="226.3" cy="191.1" r="0.3"/><circle cx="209.7" cy="216.0" r="0.3"/><circle cx="225.9" cy="194.4" r="0.3"/><circle cx="200.0" cy="214.5" r="0.3"/><circle cx="226.4" cy="203.6" r="0.3"/><circle cx="232.7" cy="185.2" r="0.3"/><circle cx="213.5" cy="205.7" r="0.3"/><circle cx="222.8" cy="185.9" r="0.3"/><circle cx="212.6" cy="173.2" r="0.3"/><circle cx="220.9" cy="191.0" r="0.3"/><circle cx="226.3" cy="202.8" r="0.3"/><circle cx="207.1" cy="211.1" r="0.3"/><circle cx="223.7" cy="203.9" r="0.3"/><circle cx="203.8" cy="203.1" r="0.3"/><circle cx="216.7" cy="234.5" r="0.3"/><circle cx="214.9" cy="202.1" r="0.3"/><circle cx="210.6" cy="220.4" r="0.3"/><circle cx="222.1" cy="215.8" r="0.3"/><circle cx="225.6" cy="195.2" r="0.3"/><circle cx="217.6" cy="188.7" r="0.3"/><circle cx="211.6" cy="200.9" r="0.3"/><circle cx="207.0" cy="212.5" r="0.3"/><circle cx="225.5" cy="212.6" r="0.3"/><circle cx="184.4" cy="225.0" r="0.3"/><circle cx="207.1" cy="206.5" r="0.3"/><circle cx="224.2" cy="201.2" r="0.3"/><circle cx="215.3" cy="198.6" r="0.3"/><circle cx="224.5" cy="200.3" r="0.3"/><circle cx="200.2" cy="215.4" r="0.3"/><circle cx="198.7" cy="205.5" r="0.3"/><circle cx="219.7" cy="201.2" r="0.3"/><circle cx="213.6" cy="195.3" r="0.3"/><circle cx="210.6" cy="197.6" r="0.3"/><circle cx="225.6" cy="203.4" r="0.3"/><circle cx="241.2" cy="196.0" r="0.3"/><circle cx="208.1" cy="205.6" r="0.3"/><circle cx="211.6" cy="211.7" r="0.3"/><circle cx="239.7" cy="190.5" r="0.3"/><circle cx="191.0" cy="211.7" r="0.3"/><circle cx="209.8" cy="216.0" r="0.3"/><circle cx="219.9" cy="204.0" r="0.3"/><circle cx="228.6" cy="182.0" r="0.3"/><circle cx="222.6" cy="221.9" r="0.3"/><circle cx="216.2" cy="194.1" r="0.3"/><circle cx="190.8" cy="208.6" r="0.3"/><circle cx="197.0" cy="222.5" r="0.3"/><circle cx="224.5" cy="208.2" r="0.3"/><circle cx="212.5" cy="198.6" r="0.3"/><circle cx="223.2" cy="220.6" r="0.3"/><circle cx="203.6" cy="217.6" r="0.3"/><circle cx="222.0" cy="205.8" r="0.3"/><circle cx="217.5" cy="208.6" r="0.3"/><circle cx="224.3" cy="194.4" r="0.3"/><circle cx="212.8" cy="204.5" r="0.3"/><circle cx="208.3" cy="208.5" r="0.3"/><circle cx="216.6" cy="205.9" r="0.3"/><circle cx="237.8" cy="199.7" r="0.3"/><circle cx="217.8" cy="209.6" r="0.3"/><circle cx="225.3" cy="204.6" r="0.3"/><circle cx="219.8" cy="203.6" r="0.3"/><circle cx="209.1" cy="200.7" r="0.3"/><circle cx="233.6" cy="203.4" r="0.3"/><circle cx="226.5" cy="199.4" r="0.3"/><circle cx="217.6" cy="196.9" r="0.3"/><circle cx="206.4" cy="221.0" r="0.3"/><circle cx="216.3" cy="196.7" r="0.3"/><circle cx="217.4" cy="218.3" r="0.3"/></g>
</g>
<ellipse cx="221.8" cy="204.2" rx="20.4" ry="11" transform="rotate(-43 221.8 204.2)" fill="none" stroke="#555" stroke-width="0.85"/>
<line x1="187.9" y1="184.4" x2="240.1" y2="184.4" stroke="#b4b4b4" stroke-width="0.7" />
<line x1="240.1" y1="184.4" x2="240.1" y2="233.4" stroke="#b4b4b4" stroke-width="0.7" />
<line x1="187.9" y1="184.05" x2="187.9" y2="233.4" stroke="#8c8c8c" stroke-width="0.9" />
<line x1="187.45000000000002" y1="233.4" x2="240.45" y2="233.4" stroke="#555" stroke-width="0.9" />
<line x1="180.6" y1="179.4" x2="180.6" y2="202.1" stroke="#444" stroke-width="1.1" />
<path d="M177.7,185.0 L180.6,179.4 L183.5,185.0" fill="none" stroke="#444" stroke-width="1.1"/>
<line x1="180.6" y1="210.3" x2="180.6" y2="239.5" stroke="#444" stroke-width="1.1" />
<line x1="180.05" y1="239.5" x2="207.7" y2="239.5" stroke="#444" stroke-width="1.1" />
<line x1="218.6" y1="239.5" x2="241.1" y2="239.5" stroke="#444" stroke-width="1.1" />
<path d="M235.5,236.6 L241.1,239.5 L235.5,242.4" fill="none" stroke="#444" stroke-width="1.1"/>
<text x="213.4" y="241.3" font-size="5.0" font-weight="normal" text-anchor="middle" fill="#777" >FSC</text>
<text x="180.2" y="208.3" font-size="4.6" font-weight="normal" text-anchor="middle" fill="#777" >SSC</text>
<clipPath id="c2"><rect x="254.4" y="184.9" width="48.99999999999997" height="47.69999999999999"/></clipPath>
<g clip-path="url(#c2)">
<g fill="#7070b4" opacity="0.68"><circle cx="264.8" cy="212.9" r="0.33"/><circle cx="281.5" cy="198.4" r="0.33"/><circle cx="266.5" cy="201.2" r="0.33"/><circle cx="268.3" cy="200.2" r="0.33"/><circle cx="267.6" cy="195.9" r="0.33"/><circle cx="275.4" cy="187.4" r="0.33"/><circle cx="269.4" cy="201.3" r="0.33"/><circle cx="266.5" cy="198.9" r="0.33"/><circle cx="272.2" cy="193.2" r="0.33"/><circle cx="263.1" cy="204.4" r="0.33"/><circle cx="274.4" cy="202.4" r="0.33"/><circle cx="267.0" cy="206.2" r="0.33"/><circle cx="265.2" cy="200.8" r="0.33"/><circle cx="269.7" cy="199.4" r="0.33"/><circle cx="281.2" cy="195.4" r="0.33"/><circle cx="270.8" cy="204.1" r="0.33"/><circle cx="279.4" cy="192.1" r="0.33"/><circle cx="268.8" cy="203.8" r="0.33"/><circle cx="271.3" cy="198.1" r="0.33"/><circle cx="271.2" cy="200.0" r="0.33"/><circle cx="281.0" cy="192.1" r="0.33"/><circle cx="272.5" cy="200.4" r="0.33"/><circle cx="277.3" cy="184.5" r="0.33"/><circle cx="276.3" cy="183.3" r="0.33"/><circle cx="276.0" cy="194.5" r="0.33"/><circle cx="280.9" cy="187.5" r="0.33"/><circle cx="265.8" cy="197.6" r="0.33"/><circle cx="265.4" cy="206.7" r="0.33"/><circle cx="267.6" cy="196.2" r="0.33"/><circle cx="272.1" cy="191.0" r="0.33"/><circle cx="267.0" cy="198.2" r="0.33"/><circle cx="285.2" cy="189.4" r="0.33"/><circle cx="265.7" cy="193.5" r="0.33"/><circle cx="272.9" cy="194.9" r="0.33"/><circle cx="274.7" cy="195.7" r="0.33"/><circle cx="271.6" cy="201.0" r="0.33"/><circle cx="276.7" cy="191.5" r="0.33"/><circle cx="267.2" cy="197.9" r="0.33"/><circle cx="272.2" cy="189.1" r="0.33"/><circle cx="267.9" cy="195.6" r="0.33"/><circle cx="264.1" cy="207.2" r="0.33"/><circle cx="270.9" cy="196.8" r="0.33"/><circle cx="272.2" cy="186.9" r="0.33"/><circle cx="271.4" cy="197.7" r="0.33"/><circle cx="273.1" cy="188.2" r="0.33"/><circle cx="276.0" cy="192.4" r="0.33"/><circle cx="282.5" cy="190.5" r="0.33"/><circle cx="280.3" cy="198.5" r="0.33"/><circle cx="269.8" cy="195.4" r="0.33"/><circle cx="266.3" cy="196.3" r="0.33"/><circle cx="265.6" cy="191.8" r="0.33"/><circle cx="271.7" cy="198.2" r="0.33"/><circle cx="276.1" cy="189.1" r="0.33"/><circle cx="277.7" cy="185.7" r="0.33"/><circle cx="265.0" cy="192.5" r="0.33"/><circle cx="264.1" cy="199.5" r="0.33"/><circle cx="281.4" cy="188.2" r="0.33"/><circle cx="265.8" cy="204.9" r="0.33"/><circle cx="273.3" cy="192.8" r="0.33"/><circle cx="270.3" cy="195.6" r="0.33"/><circle cx="262.9" cy="195.5" r="0.33"/><circle cx="273.9" cy="200.3" r="0.33"/><circle cx="278.8" cy="186.6" r="0.33"/><circle cx="265.9" cy="200.8" r="0.33"/><circle cx="277.3" cy="191.6" r="0.33"/><circle cx="268.5" cy="201.2" r="0.33"/><circle cx="271.2" cy="199.1" r="0.33"/><circle cx="264.6" cy="195.4" r="0.33"/><circle cx="273.4" cy="198.0" r="0.33"/><circle cx="264.1" cy="203.3" r="0.33"/><circle cx="275.2" cy="189.9" r="0.33"/><circle cx="272.6" cy="205.8" r="0.33"/><circle cx="278.7" cy="193.8" r="0.33"/><circle cx="269.8" cy="206.7" r="0.33"/><circle cx="259.7" cy="205.8" r="0.33"/><circle cx="279.0" cy="195.1" r="0.33"/><circle cx="263.6" cy="200.8" r="0.33"/><circle cx="267.0" cy="190.4" r="0.33"/><circle cx="276.3" cy="193.8" r="0.33"/><circle cx="269.8" cy="200.7" r="0.33"/><circle cx="276.5" cy="192.3" r="0.33"/><circle cx="278.2" cy="197.0" r="0.33"/><circle cx="268.6" cy="200.0" r="0.33"/><circle cx="270.7" cy="202.4" r="0.33"/><circle cx="269.9" cy="200.3" r="0.33"/><circle cx="272.0" cy="195.8" r="0.33"/><circle cx="281.0" cy="185.3" r="0.33"/><circle cx="281.7" cy="189.5" r="0.33"/><circle cx="278.4" cy="187.7" r="0.33"/><circle cx="278.5" cy="192.5" r="0.33"/><circle cx="268.1" cy="201.1" r="0.33"/><circle cx="270.1" cy="197.2" r="0.33"/><circle cx="276.8" cy="186.4" r="0.33"/><circle cx="256.3" cy="202.8" r="0.33"/><circle cx="266.6" cy="197.8" r="0.33"/><circle cx="272.6" cy="197.8" r="0.33"/><circle cx="282.3" cy="186.1" r="0.33"/><circle cx="271.8" cy="191.7" r="0.33"/><circle cx="278.1" cy="196.2" r="0.33"/><circle cx="273.7" cy="183.1" r="0.33"/><circle cx="280.5" cy="194.8" r="0.33"/><circle cx="271.9" cy="187.5" r="0.33"/><circle cx="270.8" cy="199.9" r="0.33"/><circle cx="271.3" cy="191.8" r="0.33"/><circle cx="268.3" cy="204.6" r="0.33"/><circle cx="266.9" cy="208.5" r="0.33"/><circle cx="271.9" cy="197.1" r="0.33"/><circle cx="261.5" cy="203.5" r="0.33"/><circle cx="271.1" cy="188.5" r="0.33"/><circle cx="279.5" cy="179.9" r="0.33"/><circle cx="263.9" cy="204.3" r="0.33"/><circle cx="275.8" cy="195.3" r="0.33"/><circle cx="268.3" cy="198.3" r="0.33"/><circle cx="268.1" cy="196.6" r="0.33"/><circle cx="258.4" cy="215.2" r="0.33"/><circle cx="272.9" cy="195.3" r="0.33"/><circle cx="268.0" cy="201.1" r="0.33"/><circle cx="270.7" cy="196.4" r="0.33"/><circle cx="272.9" cy="185.2" r="0.33"/><circle cx="269.6" cy="192.3" r="0.33"/><circle cx="273.1" cy="202.2" r="0.33"/><circle cx="264.3" cy="203.1" r="0.33"/><circle cx="270.0" cy="202.6" r="0.33"/><circle cx="260.7" cy="198.5" r="0.33"/><circle cx="273.1" cy="192.4" r="0.33"/><circle cx="272.0" cy="201.2" r="0.33"/><circle cx="264.8" cy="201.2" r="0.33"/><circle cx="273.0" cy="196.6" r="0.33"/><circle cx="270.7" cy="202.3" r="0.33"/><circle cx="283.1" cy="181.3" r="0.33"/><circle cx="276.4" cy="179.4" r="0.33"/><circle cx="278.4" cy="186.8" r="0.33"/><circle cx="270.9" cy="194.8" r="0.33"/><circle cx="263.8" cy="197.3" r="0.33"/><circle cx="272.1" cy="202.2" r="0.33"/><circle cx="276.8" cy="188.4" r="0.33"/><circle cx="266.0" cy="198.1" r="0.33"/><circle cx="268.7" cy="208.6" r="0.33"/><circle cx="275.2" cy="192.6" r="0.33"/><circle cx="265.4" cy="197.1" r="0.33"/><circle cx="280.8" cy="190.1" r="0.33"/><circle cx="268.0" cy="205.0" r="0.33"/><circle cx="266.2" cy="205.1" r="0.33"/><circle cx="264.2" cy="201.5" r="0.33"/><circle cx="275.1" cy="194.4" r="0.33"/><circle cx="274.7" cy="188.0" r="0.33"/><circle cx="283.9" cy="189.9" r="0.33"/><circle cx="272.2" cy="197.7" r="0.33"/><circle cx="266.0" cy="201.0" r="0.33"/><circle cx="263.5" cy="205.1" r="0.33"/><circle cx="275.8" cy="198.6" r="0.33"/><circle cx="278.8" cy="192.5" r="0.33"/><circle cx="268.3" cy="198.2" r="0.33"/><circle cx="269.6" cy="199.2" r="0.33"/><circle cx="261.7" cy="210.6" r="0.33"/><circle cx="260.4" cy="205.1" r="0.33"/><circle cx="269.8" cy="195.1" r="0.33"/><circle cx="280.5" cy="185.7" r="0.33"/><circle cx="283.4" cy="189.5" r="0.33"/><circle cx="269.1" cy="200.6" r="0.33"/><circle cx="277.8" cy="187.5" r="0.33"/><circle cx="270.0" cy="194.6" r="0.33"/><circle cx="270.4" cy="195.2" r="0.33"/><circle cx="274.2" cy="198.5" r="0.33"/><circle cx="279.6" cy="188.0" r="0.33"/><circle cx="274.5" cy="197.4" r="0.33"/><circle cx="266.5" cy="195.7" r="0.33"/><circle cx="275.0" cy="187.2" r="0.33"/><circle cx="273.9" cy="188.2" r="0.33"/><circle cx="279.0" cy="182.3" r="0.33"/><circle cx="280.0" cy="194.9" r="0.33"/><circle cx="269.3" cy="206.3" r="0.33"/><circle cx="261.4" cy="197.3" r="0.33"/><circle cx="277.1" cy="193.7" r="0.33"/><circle cx="263.1" cy="191.5" r="0.33"/><circle cx="269.9" cy="196.1" r="0.33"/><circle cx="268.0" cy="198.2" r="0.33"/><circle cx="258.9" cy="206.4" r="0.33"/><circle cx="285.7" cy="189.0" r="0.33"/><circle cx="267.0" cy="197.0" r="0.33"/><circle cx="276.2" cy="196.6" r="0.33"/><circle cx="272.1" cy="189.0" r="0.33"/><circle cx="272.3" cy="195.8" r="0.33"/><circle cx="282.7" cy="190.4" r="0.33"/><circle cx="277.3" cy="196.2" r="0.33"/><circle cx="272.8" cy="202.8" r="0.33"/><circle cx="269.5" cy="200.2" r="0.33"/><circle cx="274.0" cy="188.4" r="0.33"/><circle cx="262.2" cy="196.6" r="0.33"/><circle cx="271.8" cy="195.3" r="0.33"/><circle cx="270.4" cy="199.8" r="0.33"/><circle cx="258.5" cy="209.8" r="0.33"/><circle cx="270.8" cy="195.3" r="0.33"/><circle cx="280.4" cy="195.8" r="0.33"/><circle cx="265.9" cy="197.0" r="0.33"/><circle cx="267.7" cy="200.6" r="0.33"/><circle cx="272.2" cy="190.7" r="0.33"/><circle cx="274.2" cy="187.6" r="0.33"/><circle cx="277.0" cy="192.3" r="0.33"/><circle cx="279.5" cy="198.9" r="0.33"/><circle cx="269.0" cy="197.8" r="0.33"/><circle cx="276.1" cy="195.6" r="0.33"/><circle cx="263.8" cy="205.6" r="0.33"/><circle cx="268.3" cy="202.8" r="0.33"/><circle cx="279.2" cy="188.0" r="0.33"/><circle cx="270.9" cy="197.6" r="0.33"/><circle cx="255.6" cy="217.1" r="0.33"/><circle cx="274.7" cy="193.4" r="0.33"/><circle cx="266.7" cy="197.2" r="0.33"/><circle cx="273.2" cy="200.7" r="0.33"/><circle cx="274.0" cy="200.5" r="0.33"/><circle cx="254.6" cy="211.6" r="0.33"/><circle cx="272.6" cy="194.7" r="0.33"/><circle cx="259.4" cy="205.3" r="0.33"/><circle cx="274.9" cy="185.4" r="0.33"/><circle cx="262.2" cy="200.0" r="0.33"/><circle cx="269.5" cy="201.6" r="0.33"/><circle cx="269.1" cy="187.7" r="0.33"/><circle cx="278.0" cy="185.8" r="0.33"/><circle cx="272.0" cy="204.4" r="0.33"/><circle cx="267.2" cy="193.9" r="0.33"/><circle cx="265.3" cy="198.7" r="0.33"/><circle cx="264.2" cy="202.1" r="0.33"/><circle cx="277.1" cy="191.8" r="0.33"/><circle cx="270.3" cy="212.2" r="0.33"/><circle cx="265.5" cy="203.0" r="0.33"/><circle cx="273.2" cy="198.2" r="0.33"/><circle cx="270.3" cy="199.7" r="0.33"/><circle cx="283.7" cy="183.4" r="0.33"/><circle cx="265.5" cy="204.2" r="0.33"/><circle cx="265.3" cy="200.7" r="0.33"/><circle cx="273.0" cy="196.1" r="0.33"/><circle cx="271.6" cy="200.4" r="0.33"/><circle cx="266.4" cy="194.5" r="0.33"/><circle cx="275.2" cy="190.0" r="0.33"/><circle cx="276.4" cy="187.2" r="0.33"/><circle cx="275.2" cy="193.7" r="0.33"/><circle cx="251.1" cy="209.8" r="0.33"/><circle cx="268.2" cy="207.1" r="0.33"/><circle cx="262.3" cy="210.7" r="0.33"/><circle cx="278.8" cy="190.8" r="0.33"/><circle cx="273.7" cy="191.0" r="0.33"/><circle cx="271.5" cy="197.1" r="0.33"/><circle cx="275.4" cy="195.6" r="0.33"/><circle cx="267.9" cy="196.1" r="0.33"/><circle cx="268.8" cy="201.1" r="0.33"/><circle cx="257.9" cy="203.9" r="0.33"/><circle cx="267.1" cy="197.7" r="0.33"/><circle cx="262.3" cy="191.6" r="0.33"/><circle cx="268.3" cy="198.0" r="0.33"/><circle cx="270.3" cy="186.7" r="0.33"/><circle cx="270.5" cy="199.6" r="0.33"/><circle cx="277.1" cy="196.4" r="0.33"/><circle cx="274.4" cy="187.2" r="0.33"/><circle cx="273.9" cy="191.6" r="0.33"/><circle cx="270.4" cy="205.4" r="0.33"/><circle cx="265.0" cy="198.4" r="0.33"/><circle cx="266.3" cy="197.0" r="0.33"/><circle cx="278.0" cy="191.1" r="0.33"/><circle cx="280.4" cy="188.7" r="0.33"/><circle cx="270.2" cy="203.0" r="0.33"/><circle cx="265.9" cy="199.5" r="0.33"/><circle cx="270.1" cy="197.7" r="0.33"/><circle cx="276.4" cy="187.4" r="0.33"/><circle cx="273.0" cy="194.2" r="0.33"/><circle cx="260.6" cy="201.7" r="0.33"/><circle cx="270.8" cy="198.9" r="0.33"/><circle cx="274.2" cy="195.7" r="0.33"/><circle cx="270.1" cy="195.1" r="0.33"/><circle cx="270.8" cy="191.3" r="0.33"/><circle cx="262.2" cy="204.2" r="0.33"/><circle cx="261.2" cy="204.3" r="0.33"/><circle cx="265.1" cy="199.9" r="0.33"/><circle cx="268.6" cy="194.8" r="0.33"/><circle cx="263.9" cy="194.9" r="0.33"/><circle cx="269.5" cy="193.4" r="0.33"/><circle cx="265.8" cy="186.9" r="0.33"/><circle cx="266.9" cy="202.2" r="0.33"/><circle cx="255.6" cy="211.1" r="0.33"/><circle cx="271.8" cy="196.2" r="0.33"/><circle cx="262.8" cy="206.6" r="0.33"/><circle cx="269.3" cy="193.1" r="0.33"/><circle cx="275.3" cy="191.7" r="0.33"/><circle cx="269.9" cy="195.3" r="0.33"/><circle cx="274.5" cy="193.3" r="0.33"/><circle cx="278.9" cy="190.4" r="0.33"/><circle cx="266.7" cy="199.9" r="0.33"/><circle cx="275.5" cy="189.8" r="0.33"/><circle cx="274.7" cy="195.4" r="0.33"/><circle cx="263.7" cy="191.8" r="0.33"/><circle cx="272.4" cy="196.2" r="0.33"/><circle cx="269.8" cy="193.7" r="0.33"/><circle cx="277.8" cy="188.5" r="0.33"/><circle cx="265.4" cy="198.7" r="0.33"/><circle cx="270.2" cy="191.5" r="0.33"/><circle cx="270.4" cy="207.9" r="0.33"/><circle cx="281.6" cy="190.8" r="0.33"/><circle cx="280.7" cy="189.3" r="0.33"/><circle cx="264.2" cy="210.2" r="0.33"/><circle cx="279.7" cy="189.8" r="0.33"/><circle cx="262.7" cy="212.1" r="0.33"/><circle cx="277.8" cy="186.6" r="0.33"/><circle cx="273.8" cy="197.6" r="0.33"/><circle cx="273.4" cy="199.8" r="0.33"/><circle cx="273.3" cy="197.7" r="0.33"/><circle cx="267.5" cy="192.2" r="0.33"/><circle cx="273.6" cy="210.8" r="0.33"/><circle cx="276.2" cy="198.0" r="0.33"/><circle cx="282.4" cy="193.5" r="0.33"/><circle cx="272.7" cy="191.5" r="0.33"/><circle cx="265.9" cy="191.6" r="0.33"/><circle cx="272.3" cy="200.0" r="0.33"/><circle cx="258.7" cy="210.8" r="0.33"/><circle cx="279.5" cy="194.6" r="0.33"/><circle cx="263.7" cy="200.8" r="0.33"/><circle cx="257.1" cy="205.9" r="0.33"/><circle cx="279.8" cy="198.3" r="0.33"/><circle cx="267.9" cy="207.3" r="0.33"/><circle cx="272.2" cy="192.5" r="0.33"/><circle cx="277.3" cy="176.1" r="0.33"/><circle cx="271.2" cy="197.5" r="0.33"/><circle cx="288.5" cy="187.4" r="0.33"/><circle cx="284.9" cy="182.4" r="0.33"/><circle cx="280.5" cy="193.7" r="0.33"/><circle cx="275.0" cy="194.1" r="0.33"/><circle cx="268.8" cy="196.6" r="0.33"/><circle cx="268.9" cy="209.3" r="0.33"/><circle cx="262.7" cy="194.1" r="0.33"/><circle cx="272.5" cy="194.7" r="0.33"/><circle cx="277.0" cy="199.9" r="0.33"/><circle cx="269.6" cy="196.5" r="0.33"/><circle cx="266.5" cy="201.2" r="0.33"/><circle cx="268.9" cy="199.8" r="0.33"/><circle cx="290.7" cy="177.5" r="0.33"/><circle cx="271.1" cy="206.8" r="0.33"/><circle cx="278.4" cy="193.0" r="0.33"/><circle cx="277.5" cy="194.0" r="0.33"/><circle cx="278.8" cy="195.7" r="0.33"/><circle cx="280.7" cy="193.5" r="0.33"/><circle cx="268.0" cy="199.7" r="0.33"/><circle cx="269.2" cy="203.6" r="0.33"/><circle cx="274.7" cy="190.0" r="0.33"/><circle cx="281.6" cy="199.4" r="0.33"/><circle cx="275.4" cy="185.8" r="0.33"/><circle cx="272.2" cy="198.7" r="0.33"/><circle cx="271.8" cy="197.7" r="0.33"/><circle cx="278.9" cy="189.8" r="0.33"/><circle cx="266.4" cy="205.3" r="0.33"/><circle cx="270.7" cy="197.4" r="0.33"/><circle cx="263.9" cy="196.6" r="0.33"/><circle cx="262.6" cy="203.6" r="0.33"/><circle cx="257.3" cy="196.5" r="0.33"/><circle cx="274.7" cy="186.2" r="0.33"/><circle cx="268.1" cy="202.5" r="0.33"/><circle cx="260.2" cy="215.3" r="0.33"/><circle cx="268.2" cy="203.1" r="0.33"/><circle cx="268.9" cy="200.4" r="0.33"/><circle cx="271.6" cy="195.8" r="0.33"/><circle cx="256.1" cy="204.5" r="0.33"/><circle cx="274.6" cy="200.3" r="0.33"/><circle cx="269.2" cy="201.3" r="0.33"/><circle cx="273.3" cy="196.7" r="0.33"/><circle cx="272.9" cy="186.4" r="0.33"/><circle cx="272.2" cy="194.3" r="0.33"/><circle cx="266.8" cy="196.3" r="0.33"/><circle cx="263.5" cy="198.9" r="0.33"/><circle cx="271.2" cy="209.9" r="0.33"/><circle cx="281.2" cy="185.6" r="0.33"/><circle cx="272.8" cy="189.3" r="0.33"/><circle cx="249.4" cy="209.7" r="0.33"/><circle cx="275.7" cy="199.2" r="0.33"/><circle cx="268.0" cy="194.2" r="0.33"/><circle cx="266.9" cy="195.5" r="0.33"/><circle cx="262.0" cy="204.9" r="0.33"/><circle cx="266.4" cy="197.0" r="0.33"/><circle cx="263.2" cy="199.8" r="0.33"/><circle cx="276.2" cy="198.5" r="0.33"/><circle cx="275.8" cy="203.5" r="0.33"/><circle cx="262.1" cy="207.6" r="0.33"/><circle cx="263.6" cy="203.5" r="0.33"/><circle cx="273.1" cy="197.3" r="0.33"/><circle cx="276.3" cy="187.9" r="0.33"/><circle cx="263.1" cy="204.0" r="0.33"/><circle cx="270.9" cy="192.9" r="0.33"/><circle cx="280.9" cy="195.0" r="0.33"/><circle cx="263.5" cy="206.5" r="0.33"/><circle cx="271.9" cy="185.1" r="0.33"/><circle cx="271.6" cy="194.6" r="0.33"/><circle cx="266.0" cy="209.0" r="0.33"/><circle cx="271.0" cy="193.9" r="0.33"/><circle cx="275.4" cy="195.3" r="0.33"/><circle cx="277.2" cy="193.0" r="0.33"/><circle cx="270.3" cy="190.9" r="0.33"/><circle cx="268.8" cy="199.5" r="0.33"/><circle cx="260.2" cy="219.6" r="0.33"/><circle cx="265.9" cy="196.3" r="0.33"/><circle cx="260.8" cy="208.8" r="0.33"/><circle cx="269.6" cy="194.8" r="0.33"/><circle cx="266.1" cy="196.9" r="0.33"/><circle cx="266.3" cy="201.1" r="0.33"/><circle cx="269.0" cy="202.3" r="0.33"/><circle cx="270.5" cy="197.7" r="0.33"/><circle cx="276.9" cy="197.1" r="0.33"/><circle cx="275.2" cy="193.2" r="0.33"/><circle cx="267.8" cy="195.5" r="0.33"/><circle cx="270.8" cy="200.4" r="0.33"/><circle cx="271.3" cy="194.1" r="0.33"/><circle cx="258.9" cy="201.2" r="0.33"/><circle cx="275.7" cy="197.0" r="0.33"/><circle cx="269.5" cy="190.6" r="0.33"/><circle cx="270.3" cy="198.4" r="0.33"/><circle cx="266.4" cy="203.3" r="0.33"/><circle cx="267.5" cy="195.7" r="0.33"/><circle cx="265.8" cy="206.5" r="0.33"/><circle cx="270.7" cy="192.0" r="0.33"/><circle cx="267.3" cy="205.3" r="0.33"/><circle cx="273.7" cy="191.9" r="0.33"/><circle cx="279.7" cy="185.6" r="0.33"/><circle cx="267.6" cy="206.0" r="0.33"/><circle cx="270.8" cy="198.6" r="0.33"/><circle cx="268.5" cy="193.7" r="0.33"/><circle cx="263.4" cy="203.6" r="0.33"/><circle cx="276.7" cy="185.0" r="0.33"/><circle cx="279.7" cy="188.3" r="0.33"/><circle cx="265.1" cy="204.3" r="0.33"/><circle cx="272.0" cy="190.6" r="0.33"/><circle cx="259.2" cy="211.0" r="0.33"/><circle cx="265.6" cy="204.7" r="0.33"/><circle cx="259.2" cy="208.4" r="0.33"/><circle cx="262.2" cy="198.0" r="0.33"/><circle cx="270.0" cy="198.5" r="0.33"/><circle cx="264.5" cy="197.1" r="0.33"/><circle cx="267.5" cy="190.7" r="0.33"/><circle cx="275.5" cy="194.3" r="0.33"/><circle cx="283.4" cy="188.0" r="0.33"/><circle cx="273.8" cy="194.9" r="0.33"/><circle cx="267.6" cy="193.0" r="0.33"/><circle cx="281.2" cy="188.5" r="0.33"/><circle cx="266.2" cy="195.4" r="0.33"/><circle cx="281.3" cy="188.3" r="0.33"/><circle cx="265.7" cy="205.8" r="0.33"/><circle cx="282.2" cy="184.3" r="0.33"/><circle cx="272.3" cy="192.9" r="0.33"/><circle cx="270.1" cy="203.2" r="0.33"/><circle cx="289.7" cy="177.1" r="0.33"/><circle cx="272.4" cy="199.3" r="0.33"/><circle cx="271.2" cy="200.3" r="0.33"/><circle cx="273.2" cy="188.6" r="0.33"/><circle cx="264.4" cy="203.2" r="0.33"/><circle cx="276.7" cy="191.9" r="0.33"/><circle cx="274.7" cy="185.1" r="0.33"/><circle cx="272.3" cy="191.8" r="0.33"/><circle cx="272.5" cy="196.7" r="0.33"/><circle cx="264.6" cy="202.1" r="0.33"/><circle cx="264.8" cy="204.6" r="0.33"/><circle cx="264.6" cy="200.7" r="0.33"/><circle cx="270.5" cy="193.5" r="0.33"/><circle cx="276.1" cy="187.6" r="0.33"/><circle cx="276.8" cy="191.8" r="0.33"/><circle cx="264.3" cy="202.6" r="0.33"/><circle cx="265.0" cy="200.9" r="0.33"/><circle cx="274.3" cy="202.8" r="0.33"/><circle cx="272.7" cy="203.1" r="0.33"/><circle cx="270.1" cy="190.4" r="0.33"/><circle cx="259.1" cy="213.0" r="0.33"/><circle cx="261.1" cy="211.0" r="0.33"/><circle cx="278.2" cy="190.9" r="0.33"/><circle cx="269.1" cy="197.2" r="0.33"/><circle cx="271.7" cy="194.1" r="0.33"/><circle cx="266.8" cy="199.0" r="0.33"/><circle cx="276.3" cy="187.5" r="0.33"/><circle cx="270.2" cy="191.2" r="0.33"/><circle cx="263.1" cy="197.6" r="0.33"/><circle cx="271.7" cy="199.5" r="0.33"/><circle cx="271.5" cy="193.3" r="0.33"/><circle cx="273.7" cy="191.7" r="0.33"/><circle cx="273.9" cy="194.8" r="0.33"/><circle cx="267.6" cy="186.8" r="0.33"/><circle cx="265.3" cy="206.7" r="0.33"/><circle cx="276.4" cy="202.8" r="0.33"/><circle cx="268.1" cy="196.6" r="0.33"/><circle cx="281.4" cy="188.4" r="0.33"/><circle cx="283.6" cy="185.7" r="0.33"/><circle cx="271.7" cy="199.6" r="0.33"/><circle cx="265.1" cy="200.4" r="0.33"/><circle cx="267.1" cy="199.5" r="0.33"/><circle cx="274.3" cy="190.3" r="0.33"/><circle cx="271.6" cy="193.2" r="0.33"/><circle cx="268.8" cy="184.0" r="0.33"/><circle cx="270.2" cy="198.2" r="0.33"/><circle cx="267.3" cy="205.9" r="0.33"/><circle cx="275.7" cy="198.3" r="0.33"/><circle cx="278.4" cy="192.0" r="0.33"/><circle cx="267.2" cy="194.7" r="0.33"/><circle cx="268.5" cy="196.7" r="0.33"/><circle cx="271.2" cy="193.7" r="0.33"/><circle cx="284.8" cy="173.1" r="0.33"/><circle cx="276.7" cy="187.9" r="0.33"/><circle cx="272.0" cy="200.4" r="0.33"/><circle cx="267.8" cy="193.4" r="0.33"/><circle cx="272.9" cy="193.4" r="0.33"/><circle cx="259.3" cy="210.1" r="0.33"/><circle cx="262.7" cy="201.3" r="0.33"/><circle cx="274.7" cy="194.2" r="0.33"/><circle cx="275.1" cy="203.8" r="0.33"/><circle cx="271.8" cy="192.3" r="0.33"/><circle cx="272.1" cy="194.7" r="0.33"/><circle cx="253.7" cy="206.6" r="0.33"/><circle cx="268.3" cy="210.5" r="0.33"/><circle cx="269.2" cy="197.0" r="0.33"/><circle cx="270.3" cy="202.5" r="0.33"/><circle cx="275.7" cy="200.6" r="0.33"/><circle cx="280.1" cy="195.6" r="0.33"/><circle cx="271.3" cy="198.2" r="0.33"/><circle cx="268.0" cy="198.8" r="0.33"/><circle cx="259.2" cy="206.0" r="0.33"/><circle cx="263.6" cy="200.9" r="0.33"/><circle cx="278.9" cy="189.4" r="0.33"/><circle cx="280.6" cy="190.9" r="0.33"/><circle cx="279.1" cy="193.2" r="0.33"/></g>
<g fill="#eaea48" opacity="0.85"><circle cx="265.3" cy="219.0" r="0.42"/><circle cx="263.1" cy="216.2" r="0.42"/><circle cx="272.6" cy="213.2" r="0.42"/><circle cx="266.4" cy="221.8" r="0.42"/><circle cx="265.2" cy="211.0" r="0.42"/><circle cx="266.5" cy="214.8" r="0.42"/><circle cx="265.1" cy="213.5" r="0.42"/><circle cx="262.0" cy="220.9" r="0.42"/><circle cx="268.8" cy="212.9" r="0.42"/><circle cx="269.0" cy="214.1" r="0.42"/><circle cx="262.5" cy="219.6" r="0.42"/><circle cx="268.0" cy="215.3" r="0.42"/><circle cx="266.5" cy="215.5" r="0.42"/><circle cx="269.9" cy="217.6" r="0.42"/><circle cx="259.7" cy="224.6" r="0.42"/><circle cx="271.5" cy="205.5" r="0.42"/><circle cx="260.9" cy="223.3" r="0.42"/><circle cx="260.1" cy="220.6" r="0.42"/><circle cx="269.3" cy="216.7" r="0.42"/><circle cx="267.6" cy="214.4" r="0.42"/><circle cx="267.9" cy="211.5" r="0.42"/><circle cx="262.7" cy="219.0" r="0.42"/><circle cx="265.2" cy="213.7" r="0.42"/><circle cx="262.6" cy="217.8" r="0.42"/><circle cx="259.2" cy="220.5" r="0.42"/><circle cx="264.0" cy="215.4" r="0.42"/><circle cx="268.1" cy="217.1" r="0.42"/><circle cx="265.7" cy="214.2" r="0.42"/><circle cx="259.8" cy="219.0" r="0.42"/><circle cx="264.0" cy="212.8" r="0.42"/><circle cx="263.7" cy="212.4" r="0.42"/><circle cx="265.2" cy="214.8" r="0.42"/><circle cx="266.5" cy="210.9" r="0.42"/><circle cx="264.6" cy="217.4" r="0.42"/><circle cx="268.8" cy="217.4" r="0.42"/><circle cx="263.2" cy="215.9" r="0.42"/><circle cx="265.3" cy="217.4" r="0.42"/><circle cx="267.1" cy="215.4" r="0.42"/><circle cx="267.0" cy="224.4" r="0.42"/><circle cx="269.4" cy="207.8" r="0.42"/><circle cx="262.4" cy="220.7" r="0.42"/><circle cx="261.2" cy="211.0" r="0.42"/><circle cx="261.8" cy="213.6" r="0.42"/><circle cx="269.1" cy="215.3" r="0.42"/><circle cx="264.2" cy="209.3" r="0.42"/><circle cx="270.3" cy="210.9" r="0.42"/><circle cx="265.2" cy="217.6" r="0.42"/><circle cx="267.9" cy="208.8" r="0.42"/><circle cx="263.8" cy="214.9" r="0.42"/><circle cx="263.1" cy="208.0" r="0.42"/><circle cx="266.3" cy="208.4" r="0.42"/><circle cx="263.7" cy="209.6" r="0.42"/><circle cx="261.5" cy="218.7" r="0.42"/><circle cx="263.5" cy="210.0" r="0.42"/><circle cx="265.1" cy="212.2" r="0.42"/><circle cx="267.3" cy="209.9" r="0.42"/><circle cx="265.8" cy="213.3" r="0.42"/><circle cx="268.5" cy="207.6" r="0.42"/><circle cx="269.2" cy="218.1" r="0.42"/><circle cx="266.7" cy="216.0" r="0.42"/><circle cx="263.7" cy="218.8" r="0.42"/><circle cx="259.8" cy="225.1" r="0.42"/><circle cx="260.2" cy="216.3" r="0.42"/><circle cx="264.1" cy="222.8" r="0.42"/><circle cx="262.7" cy="211.8" r="0.42"/><circle cx="267.9" cy="207.1" r="0.42"/><circle cx="264.6" cy="217.3" r="0.42"/><circle cx="258.8" cy="218.2" r="0.42"/><circle cx="265.8" cy="220.1" r="0.42"/><circle cx="263.9" cy="209.6" r="0.42"/><circle cx="268.0" cy="210.5" r="0.42"/><circle cx="266.3" cy="213.5" r="0.42"/><circle cx="263.8" cy="212.5" r="0.42"/><circle cx="261.3" cy="218.4" r="0.42"/><circle cx="265.5" cy="217.8" r="0.42"/><circle cx="265.5" cy="222.6" r="0.42"/><circle cx="262.2" cy="217.4" r="0.42"/><circle cx="267.6" cy="213.1" r="0.42"/><circle cx="261.9" cy="215.6" r="0.42"/><circle cx="259.1" cy="217.7" r="0.42"/><circle cx="270.1" cy="212.1" r="0.42"/><circle cx="270.6" cy="208.3" r="0.42"/><circle cx="267.4" cy="215.1" r="0.42"/><circle cx="266.7" cy="211.2" r="0.42"/><circle cx="270.5" cy="216.7" r="0.42"/><circle cx="257.9" cy="220.8" r="0.42"/><circle cx="264.3" cy="220.5" r="0.42"/><circle cx="267.1" cy="210.1" r="0.42"/><circle cx="266.5" cy="212.6" r="0.42"/><circle cx="264.6" cy="213.6" r="0.42"/><circle cx="264.9" cy="215.6" r="0.42"/><circle cx="272.6" cy="213.6" r="0.42"/><circle cx="261.8" cy="223.7" r="0.42"/><circle cx="267.1" cy="216.7" r="0.42"/><circle cx="269.2" cy="212.1" r="0.42"/><circle cx="264.9" cy="210.9" r="0.42"/><circle cx="264.5" cy="224.7" r="0.42"/><circle cx="265.8" cy="209.3" r="0.42"/><circle cx="269.6" cy="211.0" r="0.42"/><circle cx="261.0" cy="226.9" r="0.42"/><circle cx="265.2" cy="221.1" r="0.42"/><circle cx="261.7" cy="217.4" r="0.42"/><circle cx="260.8" cy="221.7" r="0.42"/><circle cx="266.0" cy="210.4" r="0.42"/><circle cx="265.2" cy="225.9" r="0.42"/><circle cx="270.9" cy="208.7" r="0.42"/><circle cx="261.1" cy="216.2" r="0.42"/><circle cx="262.3" cy="223.0" r="0.42"/><circle cx="265.8" cy="208.8" r="0.42"/><circle cx="264.4" cy="215.2" r="0.42"/><circle cx="265.5" cy="217.2" r="0.42"/><circle cx="268.7" cy="206.0" r="0.42"/><circle cx="269.4" cy="213.3" r="0.42"/><circle cx="264.0" cy="216.5" r="0.42"/><circle cx="264.1" cy="222.4" r="0.42"/><circle cx="262.3" cy="216.9" r="0.42"/><circle cx="263.3" cy="214.1" r="0.42"/><circle cx="261.8" cy="219.5" r="0.42"/><circle cx="268.1" cy="209.0" r="0.42"/><circle cx="263.1" cy="211.5" r="0.42"/><circle cx="264.3" cy="225.9" r="0.42"/><circle cx="260.7" cy="215.2" r="0.42"/><circle cx="266.1" cy="216.7" r="0.42"/><circle cx="258.9" cy="221.6" r="0.42"/><circle cx="263.6" cy="213.3" r="0.42"/><circle cx="269.0" cy="213.4" r="0.42"/><circle cx="265.1" cy="213.1" r="0.42"/><circle cx="263.5" cy="214.9" r="0.42"/><circle cx="265.4" cy="216.4" r="0.42"/><circle cx="266.4" cy="218.0" r="0.42"/><circle cx="270.1" cy="204.0" r="0.42"/><circle cx="267.6" cy="215.1" r="0.42"/><circle cx="266.0" cy="212.5" r="0.42"/><circle cx="266.0" cy="218.8" r="0.42"/><circle cx="267.6" cy="213.5" r="0.42"/><circle cx="264.4" cy="219.7" r="0.42"/><circle cx="266.5" cy="211.9" r="0.42"/><circle cx="271.3" cy="215.5" r="0.42"/><circle cx="261.8" cy="224.1" r="0.42"/><circle cx="259.2" cy="218.7" r="0.42"/><circle cx="265.6" cy="217.2" r="0.42"/><circle cx="262.6" cy="213.8" r="0.42"/><circle cx="260.3" cy="220.8" r="0.42"/><circle cx="263.2" cy="214.4" r="0.42"/><circle cx="265.2" cy="224.0" r="0.42"/><circle cx="262.6" cy="218.8" r="0.42"/><circle cx="262.4" cy="217.1" r="0.42"/><circle cx="264.4" cy="215.0" r="0.42"/><circle cx="263.9" cy="211.4" r="0.42"/><circle cx="265.7" cy="224.2" r="0.42"/><circle cx="266.5" cy="216.8" r="0.42"/><circle cx="269.1" cy="211.3" r="0.42"/><circle cx="261.7" cy="213.4" r="0.42"/><circle cx="263.3" cy="223.4" r="0.42"/><circle cx="267.9" cy="213.4" r="0.42"/><circle cx="256.3" cy="219.8" r="0.42"/><circle cx="259.9" cy="218.4" r="0.42"/><circle cx="263.2" cy="213.5" r="0.42"/><circle cx="267.5" cy="208.1" r="0.42"/><circle cx="265.5" cy="218.9" r="0.42"/><circle cx="263.8" cy="213.0" r="0.42"/><circle cx="271.2" cy="214.5" r="0.42"/><circle cx="261.5" cy="220.3" r="0.42"/><circle cx="258.1" cy="217.6" r="0.42"/><circle cx="268.0" cy="213.7" r="0.42"/><circle cx="268.3" cy="211.9" r="0.42"/><circle cx="260.1" cy="223.9" r="0.42"/><circle cx="260.8" cy="216.8" r="0.42"/><circle cx="264.0" cy="221.1" r="0.42"/><circle cx="268.6" cy="219.2" r="0.42"/><circle cx="262.0" cy="211.1" r="0.42"/><circle cx="269.9" cy="213.3" r="0.42"/><circle cx="262.4" cy="213.8" r="0.42"/><circle cx="266.4" cy="206.4" r="0.42"/><circle cx="260.6" cy="213.4" r="0.42"/><circle cx="258.2" cy="218.6" r="0.42"/><circle cx="270.2" cy="212.4" r="0.42"/><circle cx="261.0" cy="215.5" r="0.42"/><circle cx="265.7" cy="216.2" r="0.42"/><circle cx="258.7" cy="220.5" r="0.42"/><circle cx="266.3" cy="216.8" r="0.42"/><circle cx="266.2" cy="215.8" r="0.42"/><circle cx="256.5" cy="217.6" r="0.42"/><circle cx="263.7" cy="213.0" r="0.42"/><circle cx="263.9" cy="215.5" r="0.42"/><circle cx="264.5" cy="212.5" r="0.42"/><circle cx="268.6" cy="209.4" r="0.42"/><circle cx="267.7" cy="214.1" r="0.42"/><circle cx="268.4" cy="211.6" r="0.42"/><circle cx="259.3" cy="222.1" r="0.42"/><circle cx="270.6" cy="208.2" r="0.42"/><circle cx="267.4" cy="213.7" r="0.42"/><circle cx="261.9" cy="217.4" r="0.42"/><circle cx="266.0" cy="219.7" r="0.42"/><circle cx="269.8" cy="216.2" r="0.42"/><circle cx="270.4" cy="215.8" r="0.42"/><circle cx="263.5" cy="212.1" r="0.42"/><circle cx="270.0" cy="208.6" r="0.42"/><circle cx="268.4" cy="210.7" r="0.42"/><circle cx="264.6" cy="217.1" r="0.42"/><circle cx="259.6" cy="218.7" r="0.42"/><circle cx="261.7" cy="218.6" r="0.42"/><circle cx="261.4" cy="221.1" r="0.42"/><circle cx="270.2" cy="216.8" r="0.42"/><circle cx="269.4" cy="207.6" r="0.42"/><circle cx="266.7" cy="211.5" r="0.42"/><circle cx="265.9" cy="213.8" r="0.42"/><circle cx="263.8" cy="217.9" r="0.42"/><circle cx="262.3" cy="222.3" r="0.42"/><circle cx="261.9" cy="215.3" r="0.42"/><circle cx="265.3" cy="217.7" r="0.42"/><circle cx="264.4" cy="219.0" r="0.42"/><circle cx="269.9" cy="215.1" r="0.42"/><circle cx="262.1" cy="220.0" r="0.42"/><circle cx="269.6" cy="215.2" r="0.42"/><circle cx="267.3" cy="215.3" r="0.42"/><circle cx="260.1" cy="221.0" r="0.42"/><circle cx="268.5" cy="208.1" r="0.42"/><circle cx="268.7" cy="205.3" r="0.42"/><circle cx="260.8" cy="214.6" r="0.42"/><circle cx="267.2" cy="213.1" r="0.42"/><circle cx="270.3" cy="207.1" r="0.42"/><circle cx="261.3" cy="214.8" r="0.42"/><circle cx="266.9" cy="217.1" r="0.42"/><circle cx="269.6" cy="213.9" r="0.42"/><circle cx="267.0" cy="211.7" r="0.42"/><circle cx="266.9" cy="213.1" r="0.42"/><circle cx="265.5" cy="223.4" r="0.42"/><circle cx="263.6" cy="212.5" r="0.42"/><circle cx="266.6" cy="214.2" r="0.42"/><circle cx="270.7" cy="213.1" r="0.42"/><circle cx="258.7" cy="229.2" r="0.42"/><circle cx="266.7" cy="207.7" r="0.42"/><circle cx="261.0" cy="223.8" r="0.42"/><circle cx="266.6" cy="214.5" r="0.42"/><circle cx="261.2" cy="219.7" r="0.42"/><circle cx="267.1" cy="215.6" r="0.42"/><circle cx="271.1" cy="206.5" r="0.42"/><circle cx="258.2" cy="215.0" r="0.42"/><circle cx="267.4" cy="210.7" r="0.42"/><circle cx="262.5" cy="214.7" r="0.42"/><circle cx="262.8" cy="210.0" r="0.42"/><circle cx="265.5" cy="215.2" r="0.42"/><circle cx="268.7" cy="215.9" r="0.42"/><circle cx="265.0" cy="216.0" r="0.42"/><circle cx="263.7" cy="209.8" r="0.42"/><circle cx="264.4" cy="216.8" r="0.42"/><circle cx="265.6" cy="210.4" r="0.42"/><circle cx="267.9" cy="212.5" r="0.42"/><circle cx="258.0" cy="220.0" r="0.42"/><circle cx="261.8" cy="221.8" r="0.42"/><circle cx="267.1" cy="215.5" r="0.42"/><circle cx="265.8" cy="211.3" r="0.42"/><circle cx="269.5" cy="212.0" r="0.42"/><circle cx="267.2" cy="214.1" r="0.42"/><circle cx="262.6" cy="221.5" r="0.42"/><circle cx="259.8" cy="218.4" r="0.42"/><circle cx="264.4" cy="217.2" r="0.42"/><circle cx="264.1" cy="215.3" r="0.42"/><circle cx="262.9" cy="220.0" r="0.42"/><circle cx="260.0" cy="216.9" r="0.42"/><circle cx="268.5" cy="217.0" r="0.42"/><circle cx="261.6" cy="215.9" r="0.42"/><circle cx="272.3" cy="211.8" r="0.42"/><circle cx="263.8" cy="216.5" r="0.42"/><circle cx="272.1" cy="218.4" r="0.42"/><circle cx="267.6" cy="216.2" r="0.42"/><circle cx="262.0" cy="211.2" r="0.42"/><circle cx="259.5" cy="218.7" r="0.42"/><circle cx="266.3" cy="213.8" r="0.42"/><circle cx="268.8" cy="207.4" r="0.42"/><circle cx="265.9" cy="214.3" r="0.42"/><circle cx="270.5" cy="217.9" r="0.42"/><circle cx="269.0" cy="216.2" r="0.42"/><circle cx="266.9" cy="209.1" r="0.42"/><circle cx="265.9" cy="212.1" r="0.42"/><circle cx="265.6" cy="215.2" r="0.42"/><circle cx="264.0" cy="214.8" r="0.42"/><circle cx="268.3" cy="208.4" r="0.42"/><circle cx="270.5" cy="214.6" r="0.42"/><circle cx="268.9" cy="214.1" r="0.42"/><circle cx="270.9" cy="210.9" r="0.42"/><circle cx="266.1" cy="206.2" r="0.42"/><circle cx="269.9" cy="207.1" r="0.42"/><circle cx="259.2" cy="222.2" r="0.42"/><circle cx="261.5" cy="221.5" r="0.42"/><circle cx="259.0" cy="220.6" r="0.42"/><circle cx="266.1" cy="214.4" r="0.42"/><circle cx="262.5" cy="218.6" r="0.42"/><circle cx="264.9" cy="216.0" r="0.42"/><circle cx="264.5" cy="215.2" r="0.42"/><circle cx="263.6" cy="209.6" r="0.42"/><circle cx="264.1" cy="217.8" r="0.42"/><circle cx="262.8" cy="216.5" r="0.42"/><circle cx="264.4" cy="217.7" r="0.42"/><circle cx="267.7" cy="209.9" r="0.42"/><circle cx="265.1" cy="217.1" r="0.42"/><circle cx="260.0" cy="214.0" r="0.42"/><circle cx="264.8" cy="213.8" r="0.42"/><circle cx="265.0" cy="218.8" r="0.42"/><circle cx="263.8" cy="214.6" r="0.42"/><circle cx="255.7" cy="222.7" r="0.42"/><circle cx="264.8" cy="215.3" r="0.42"/><circle cx="266.6" cy="213.9" r="0.42"/><circle cx="261.0" cy="215.9" r="0.42"/><circle cx="262.0" cy="220.1" r="0.42"/><circle cx="263.8" cy="221.5" r="0.42"/><circle cx="257.7" cy="218.9" r="0.42"/><circle cx="260.5" cy="214.0" r="0.42"/><circle cx="266.8" cy="207.2" r="0.42"/><circle cx="264.3" cy="215.4" r="0.42"/><circle cx="259.0" cy="216.8" r="0.42"/><circle cx="262.3" cy="224.7" r="0.42"/><circle cx="272.4" cy="213.9" r="0.42"/><circle cx="262.6" cy="222.6" r="0.42"/><circle cx="266.9" cy="216.7" r="0.42"/><circle cx="265.3" cy="218.7" r="0.42"/><circle cx="268.6" cy="212.4" r="0.42"/><circle cx="268.2" cy="209.0" r="0.42"/><circle cx="267.3" cy="207.9" r="0.42"/><circle cx="263.0" cy="204.7" r="0.42"/><circle cx="263.2" cy="214.4" r="0.42"/><circle cx="267.3" cy="216.8" r="0.42"/><circle cx="267.0" cy="212.5" r="0.42"/><circle cx="265.9" cy="206.2" r="0.42"/><circle cx="266.4" cy="221.0" r="0.42"/><circle cx="261.1" cy="211.4" r="0.42"/><circle cx="263.2" cy="212.5" r="0.42"/><circle cx="271.3" cy="210.6" r="0.42"/><circle cx="266.5" cy="219.5" r="0.42"/><circle cx="265.0" cy="220.3" r="0.42"/><circle cx="266.2" cy="212.8" r="0.42"/><circle cx="260.8" cy="221.3" r="0.42"/><circle cx="258.0" cy="224.7" r="0.42"/><circle cx="263.1" cy="225.1" r="0.42"/><circle cx="257.1" cy="216.5" r="0.42"/><circle cx="267.3" cy="213.4" r="0.42"/><circle cx="268.5" cy="220.4" r="0.42"/><circle cx="267.1" cy="212.2" r="0.42"/><circle cx="256.7" cy="214.5" r="0.42"/><circle cx="268.4" cy="214.7" r="0.42"/><circle cx="260.3" cy="216.2" r="0.42"/><circle cx="261.1" cy="213.5" r="0.42"/><circle cx="266.8" cy="216.5" r="0.42"/><circle cx="269.4" cy="209.3" r="0.42"/><circle cx="267.2" cy="215.6" r="0.42"/><circle cx="267.8" cy="209.0" r="0.42"/><circle cx="260.1" cy="219.8" r="0.42"/><circle cx="259.9" cy="219.8" r="0.42"/><circle cx="265.5" cy="216.5" r="0.42"/><circle cx="265.5" cy="214.9" r="0.42"/><circle cx="265.1" cy="217.6" r="0.42"/><circle cx="268.9" cy="212.7" r="0.42"/><circle cx="268.1" cy="208.6" r="0.42"/><circle cx="268.2" cy="218.8" r="0.42"/><circle cx="266.4" cy="215.2" r="0.42"/><circle cx="266.3" cy="218.2" r="0.42"/><circle cx="261.7" cy="215.9" r="0.42"/><circle cx="263.9" cy="215.2" r="0.42"/><circle cx="266.2" cy="211.4" r="0.42"/><circle cx="264.8" cy="214.7" r="0.42"/><circle cx="264.4" cy="213.2" r="0.42"/><circle cx="264.6" cy="208.9" r="0.42"/><circle cx="262.4" cy="216.2" r="0.42"/><circle cx="266.7" cy="212.7" r="0.42"/><circle cx="265.5" cy="213.0" r="0.42"/><circle cx="260.7" cy="217.2" r="0.42"/><circle cx="263.0" cy="216.3" r="0.42"/><circle cx="266.5" cy="214.7" r="0.42"/><circle cx="267.2" cy="211.1" r="0.42"/><circle cx="260.7" cy="217.4" r="0.42"/><circle cx="266.0" cy="215.7" r="0.42"/><circle cx="270.3" cy="207.3" r="0.42"/><circle cx="273.6" cy="210.3" r="0.42"/><circle cx="265.1" cy="221.6" r="0.42"/><circle cx="270.9" cy="212.3" r="0.42"/><circle cx="267.1" cy="216.8" r="0.42"/><circle cx="263.6" cy="217.5" r="0.42"/><circle cx="269.1" cy="217.7" r="0.42"/><circle cx="266.6" cy="217.7" r="0.42"/><circle cx="263.6" cy="214.3" r="0.42"/><circle cx="267.1" cy="215.3" r="0.42"/><circle cx="264.6" cy="219.4" r="0.42"/><circle cx="261.2" cy="217.4" r="0.42"/><circle cx="265.0" cy="214.2" r="0.42"/><circle cx="258.9" cy="217.6" r="0.42"/><circle cx="265.6" cy="215.7" r="0.42"/><circle cx="264.3" cy="217.7" r="0.42"/><circle cx="262.1" cy="222.6" r="0.42"/><circle cx="266.7" cy="214.1" r="0.42"/><circle cx="263.6" cy="218.3" r="0.42"/><circle cx="267.7" cy="216.3" r="0.42"/><circle cx="266.3" cy="214.6" r="0.42"/><circle cx="265.1" cy="219.8" r="0.42"/><circle cx="266.8" cy="209.8" r="0.42"/><circle cx="267.3" cy="213.1" r="0.42"/><circle cx="262.0" cy="214.0" r="0.42"/><circle cx="265.2" cy="205.5" r="0.42"/><circle cx="264.9" cy="213.7" r="0.42"/><circle cx="266.9" cy="210.0" r="0.42"/><circle cx="266.5" cy="216.1" r="0.42"/><circle cx="265.0" cy="212.9" r="0.42"/><circle cx="267.6" cy="213.1" r="0.42"/><circle cx="266.3" cy="210.6" r="0.42"/><circle cx="264.0" cy="215.2" r="0.42"/><circle cx="263.5" cy="219.5" r="0.42"/><circle cx="269.2" cy="215.6" r="0.42"/><circle cx="265.1" cy="217.4" r="0.42"/><circle cx="267.6" cy="210.4" r="0.42"/><circle cx="265.5" cy="215.4" r="0.42"/><circle cx="261.1" cy="217.2" r="0.42"/><circle cx="268.2" cy="210.9" r="0.42"/><circle cx="262.0" cy="214.2" r="0.42"/><circle cx="267.9" cy="216.5" r="0.42"/><circle cx="260.1" cy="219.3" r="0.42"/><circle cx="271.0" cy="212.6" r="0.42"/><circle cx="267.6" cy="208.1" r="0.42"/><circle cx="264.8" cy="211.9" r="0.42"/><circle cx="265.5" cy="212.8" r="0.42"/><circle cx="268.5" cy="216.4" r="0.42"/><circle cx="265.3" cy="213.7" r="0.42"/><circle cx="265.7" cy="215.6" r="0.42"/><circle cx="264.2" cy="218.0" r="0.42"/><circle cx="270.0" cy="214.9" r="0.42"/><circle cx="257.2" cy="222.8" r="0.42"/><circle cx="263.9" cy="222.0" r="0.42"/><circle cx="271.5" cy="205.2" r="0.42"/><circle cx="267.9" cy="216.4" r="0.42"/><circle cx="258.5" cy="225.8" r="0.42"/><circle cx="257.6" cy="229.1" r="0.42"/><circle cx="262.7" cy="217.1" r="0.42"/><circle cx="264.5" cy="213.3" r="0.42"/><circle cx="267.8" cy="210.7" r="0.42"/><circle cx="271.6" cy="217.1" r="0.42"/><circle cx="266.0" cy="218.6" r="0.42"/><circle cx="265.7" cy="220.7" r="0.42"/><circle cx="267.7" cy="211.5" r="0.42"/><circle cx="271.1" cy="213.3" r="0.42"/><circle cx="268.4" cy="209.6" r="0.42"/><circle cx="267.3" cy="217.2" r="0.42"/><circle cx="260.0" cy="221.0" r="0.42"/><circle cx="267.5" cy="214.2" r="0.42"/><circle cx="273.5" cy="209.8" r="0.42"/><circle cx="266.8" cy="214.7" r="0.42"/><circle cx="261.3" cy="220.9" r="0.42"/><circle cx="265.1" cy="214.1" r="0.42"/><circle cx="266.5" cy="216.0" r="0.42"/><circle cx="261.4" cy="218.9" r="0.42"/><circle cx="263.2" cy="224.6" r="0.42"/><circle cx="258.6" cy="217.8" r="0.42"/><circle cx="266.4" cy="211.9" r="0.42"/><circle cx="266.6" cy="210.9" r="0.42"/><circle cx="271.9" cy="207.3" r="0.42"/><circle cx="265.6" cy="215.0" r="0.42"/><circle cx="266.3" cy="217.4" r="0.42"/><circle cx="269.0" cy="206.4" r="0.42"/><circle cx="263.6" cy="220.9" r="0.42"/><circle cx="264.3" cy="209.0" r="0.42"/><circle cx="261.1" cy="217.2" r="0.42"/><circle cx="267.5" cy="213.7" r="0.42"/><circle cx="260.7" cy="217.2" r="0.42"/><circle cx="262.1" cy="209.9" r="0.42"/><circle cx="266.2" cy="212.5" r="0.42"/><circle cx="271.9" cy="208.6" r="0.42"/><circle cx="263.0" cy="217.6" r="0.42"/><circle cx="262.7" cy="215.8" r="0.42"/><circle cx="267.3" cy="216.4" r="0.42"/><circle cx="260.8" cy="221.6" r="0.42"/><circle cx="270.3" cy="210.1" r="0.42"/><circle cx="261.2" cy="217.9" r="0.42"/><circle cx="259.3" cy="217.1" r="0.42"/><circle cx="268.0" cy="210.7" r="0.42"/><circle cx="260.1" cy="216.6" r="0.42"/><circle cx="262.9" cy="216.5" r="0.42"/><circle cx="268.2" cy="207.6" r="0.42"/><circle cx="267.7" cy="216.4" r="0.42"/><circle cx="266.2" cy="212.4" r="0.42"/><circle cx="262.7" cy="226.6" r="0.42"/><circle cx="265.5" cy="212.4" r="0.42"/><circle cx="262.7" cy="214.7" r="0.42"/><circle cx="259.5" cy="217.4" r="0.42"/><circle cx="267.4" cy="214.0" r="0.42"/><circle cx="267.2" cy="215.8" r="0.42"/><circle cx="266.6" cy="213.4" r="0.42"/><circle cx="264.1" cy="220.0" r="0.42"/><circle cx="269.3" cy="211.3" r="0.42"/><circle cx="267.0" cy="209.6" r="0.42"/><circle cx="265.4" cy="221.3" r="0.42"/><circle cx="264.1" cy="218.3" r="0.42"/><circle cx="264.6" cy="216.3" r="0.42"/><circle cx="263.1" cy="216.0" r="0.42"/><circle cx="264.8" cy="225.5" r="0.42"/><circle cx="261.2" cy="212.2" r="0.42"/><circle cx="260.3" cy="217.9" r="0.42"/><circle cx="257.5" cy="215.4" r="0.42"/><circle cx="270.0" cy="215.1" r="0.42"/><circle cx="266.0" cy="217.5" r="0.42"/><circle cx="263.7" cy="211.4" r="0.42"/><circle cx="264.3" cy="208.2" r="0.42"/><circle cx="262.8" cy="217.5" r="0.42"/><circle cx="268.3" cy="210.3" r="0.42"/><circle cx="262.9" cy="215.0" r="0.42"/><circle cx="265.3" cy="215.2" r="0.42"/><circle cx="269.9" cy="214.2" r="0.42"/><circle cx="266.8" cy="212.4" r="0.42"/><circle cx="268.2" cy="218.2" r="0.42"/><circle cx="265.5" cy="214.6" r="0.42"/><circle cx="272.9" cy="209.9" r="0.42"/><circle cx="266.2" cy="212.9" r="0.42"/><circle cx="265.8" cy="219.5" r="0.42"/><circle cx="266.0" cy="218.6" r="0.42"/><circle cx="263.3" cy="219.0" r="0.42"/><circle cx="266.3" cy="214.0" r="0.42"/><circle cx="266.4" cy="215.0" r="0.42"/><circle cx="259.8" cy="218.8" r="0.42"/><circle cx="268.6" cy="218.4" r="0.42"/><circle cx="262.7" cy="214.8" r="0.42"/><circle cx="263.5" cy="218.3" r="0.42"/><circle cx="266.6" cy="209.8" r="0.42"/><circle cx="266.8" cy="213.4" r="0.42"/><circle cx="262.1" cy="215.8" r="0.42"/><circle cx="263.0" cy="215.2" r="0.42"/><circle cx="262.4" cy="211.0" r="0.42"/><circle cx="269.4" cy="211.7" r="0.42"/><circle cx="269.7" cy="215.0" r="0.42"/><circle cx="262.7" cy="210.8" r="0.42"/><circle cx="266.1" cy="215.8" r="0.42"/><circle cx="260.8" cy="217.0" r="0.42"/><circle cx="267.2" cy="214.3" r="0.42"/><circle cx="263.4" cy="217.0" r="0.42"/><circle cx="262.5" cy="216.9" r="0.42"/><circle cx="267.2" cy="217.1" r="0.42"/><circle cx="260.3" cy="221.9" r="0.42"/><circle cx="269.6" cy="209.1" r="0.42"/><circle cx="267.2" cy="215.9" r="0.42"/><circle cx="259.9" cy="218.2" r="0.42"/><circle cx="257.8" cy="220.7" r="0.42"/><circle cx="267.5" cy="215.5" r="0.42"/><circle cx="262.5" cy="216.4" r="0.42"/><circle cx="267.3" cy="214.6" r="0.42"/><circle cx="261.4" cy="212.0" r="0.42"/><circle cx="258.1" cy="214.6" r="0.42"/><circle cx="263.7" cy="213.4" r="0.42"/><circle cx="266.7" cy="220.2" r="0.42"/><circle cx="269.3" cy="210.5" r="0.42"/><circle cx="266.1" cy="214.6" r="0.42"/><circle cx="263.5" cy="217.9" r="0.42"/><circle cx="267.7" cy="206.3" r="0.42"/><circle cx="263.7" cy="218.5" r="0.42"/><circle cx="269.0" cy="212.8" r="0.42"/><circle cx="262.4" cy="219.4" r="0.42"/><circle cx="261.7" cy="215.1" r="0.42"/><circle cx="264.1" cy="214.6" r="0.42"/><circle cx="268.2" cy="212.2" r="0.42"/><circle cx="263.3" cy="218.9" r="0.42"/><circle cx="262.7" cy="216.2" r="0.42"/><circle cx="266.1" cy="218.9" r="0.42"/><circle cx="260.2" cy="215.1" r="0.42"/><circle cx="264.9" cy="219.8" r="0.42"/><circle cx="267.9" cy="205.1" r="0.42"/><circle cx="263.4" cy="216.6" r="0.42"/><circle cx="262.5" cy="221.9" r="0.42"/><circle cx="265.5" cy="216.1" r="0.42"/><circle cx="269.9" cy="205.7" r="0.42"/><circle cx="268.8" cy="213.2" r="0.42"/><circle cx="262.2" cy="217.4" r="0.42"/><circle cx="270.4" cy="209.8" r="0.42"/><circle cx="263.0" cy="213.5" r="0.42"/><circle cx="268.3" cy="212.4" r="0.42"/><circle cx="273.6" cy="208.1" r="0.42"/><circle cx="267.5" cy="212.5" r="0.42"/><circle cx="263.9" cy="214.5" r="0.42"/><circle cx="266.3" cy="214.5" r="0.42"/><circle cx="269.0" cy="214.1" r="0.42"/><circle cx="264.6" cy="213.5" r="0.42"/><circle cx="270.4" cy="214.1" r="0.42"/><circle cx="263.9" cy="219.5" r="0.42"/><circle cx="267.5" cy="213.9" r="0.42"/><circle cx="266.0" cy="213.3" r="0.42"/><circle cx="268.4" cy="218.1" r="0.42"/><circle cx="266.1" cy="206.4" r="0.42"/><circle cx="259.8" cy="226.7" r="0.42"/><circle cx="262.2" cy="217.7" r="0.42"/><circle cx="261.9" cy="222.7" r="0.42"/><circle cx="263.7" cy="215.0" r="0.42"/><circle cx="272.5" cy="214.8" r="0.42"/><circle cx="271.2" cy="210.8" r="0.42"/><circle cx="265.4" cy="218.1" r="0.42"/><circle cx="267.4" cy="217.1" r="0.42"/><circle cx="266.3" cy="213.0" r="0.42"/><circle cx="264.8" cy="212.3" r="0.42"/><circle cx="270.2" cy="214.1" r="0.42"/><circle cx="265.3" cy="217.7" r="0.42"/><circle cx="263.0" cy="223.7" r="0.42"/><circle cx="264.9" cy="210.5" r="0.42"/><circle cx="269.5" cy="208.3" r="0.42"/><circle cx="257.8" cy="221.0" r="0.42"/><circle cx="266.5" cy="211.5" r="0.42"/><circle cx="264.3" cy="208.9" r="0.42"/><circle cx="266.9" cy="217.1" r="0.42"/><circle cx="264.8" cy="219.2" r="0.42"/><circle cx="264.9" cy="217.4" r="0.42"/><circle cx="270.7" cy="217.0" r="0.42"/><circle cx="263.7" cy="221.7" r="0.42"/><circle cx="265.7" cy="208.6" r="0.42"/><circle cx="270.3" cy="218.1" r="0.42"/><circle cx="261.1" cy="207.3" r="0.42"/><circle cx="260.7" cy="214.3" r="0.42"/><circle cx="264.1" cy="213.3" r="0.42"/><circle cx="261.8" cy="216.8" r="0.42"/><circle cx="264.7" cy="213.7" r="0.42"/><circle cx="262.3" cy="219.0" r="0.42"/><circle cx="264.1" cy="212.7" r="0.42"/><circle cx="264.1" cy="208.7" r="0.42"/><circle cx="265.1" cy="213.3" r="0.42"/><circle cx="267.4" cy="208.1" r="0.42"/><circle cx="260.5" cy="216.6" r="0.42"/><circle cx="271.2" cy="207.9" r="0.42"/><circle cx="261.6" cy="219.6" r="0.42"/><circle cx="266.0" cy="221.5" r="0.42"/><circle cx="261.6" cy="211.2" r="0.42"/><circle cx="267.5" cy="215.8" r="0.42"/><circle cx="266.0" cy="216.1" r="0.42"/><circle cx="265.2" cy="216.2" r="0.42"/><circle cx="264.0" cy="213.7" r="0.42"/><circle cx="266.2" cy="214.2" r="0.42"/><circle cx="263.4" cy="214.8" r="0.42"/><circle cx="263.1" cy="220.1" r="0.42"/><circle cx="261.7" cy="209.0" r="0.42"/><circle cx="266.7" cy="219.5" r="0.42"/><circle cx="265.7" cy="210.7" r="0.42"/><circle cx="266.1" cy="208.6" r="0.42"/><circle cx="267.3" cy="221.3" r="0.42"/><circle cx="263.5" cy="217.1" r="0.42"/><circle cx="258.8" cy="221.2" r="0.42"/><circle cx="261.8" cy="220.3" r="0.42"/><circle cx="262.9" cy="224.6" r="0.42"/><circle cx="262.8" cy="216.2" r="0.42"/><circle cx="265.1" cy="219.1" r="0.42"/><circle cx="267.8" cy="208.5" r="0.42"/><circle cx="272.4" cy="210.7" r="0.42"/><circle cx="268.9" cy="210.2" r="0.42"/><circle cx="262.9" cy="222.6" r="0.42"/><circle cx="264.4" cy="217.5" r="0.42"/><circle cx="259.8" cy="223.1" r="0.42"/><circle cx="263.5" cy="213.3" r="0.42"/><circle cx="269.4" cy="216.4" r="0.42"/><circle cx="264.1" cy="213.7" r="0.42"/><circle cx="266.1" cy="202.7" r="0.42"/><circle cx="263.7" cy="219.9" r="0.42"/></g>
<g fill="#a0a0c8" opacity="0.45"><circle cx="267.7" cy="198.6" r="0.3"/><circle cx="288.9" cy="207.0" r="0.3"/><circle cx="285.0" cy="217.5" r="0.3"/><circle cx="292.3" cy="207.0" r="0.3"/><circle cx="272.9" cy="215.9" r="0.3"/><circle cx="303.7" cy="203.0" r="0.3"/><circle cx="291.8" cy="195.6" r="0.3"/><circle cx="281.1" cy="200.8" r="0.3"/><circle cx="286.8" cy="193.9" r="0.3"/><circle cx="273.5" cy="194.5" r="0.3"/><circle cx="281.9" cy="224.0" r="0.3"/><circle cx="284.5" cy="205.6" r="0.3"/><circle cx="268.2" cy="220.5" r="0.3"/><circle cx="289.3" cy="183.3" r="0.3"/><circle cx="266.4" cy="221.2" r="0.3"/><circle cx="278.4" cy="207.8" r="0.3"/><circle cx="267.9" cy="207.6" r="0.3"/><circle cx="278.0" cy="216.8" r="0.3"/><circle cx="286.8" cy="209.2" r="0.3"/><circle cx="278.8" cy="215.4" r="0.3"/><circle cx="280.5" cy="208.6" r="0.3"/><circle cx="289.4" cy="198.5" r="0.3"/><circle cx="272.3" cy="199.7" r="0.3"/><circle cx="287.3" cy="208.2" r="0.3"/><circle cx="278.5" cy="209.2" r="0.3"/><circle cx="264.5" cy="211.4" r="0.3"/><circle cx="292.2" cy="208.2" r="0.3"/><circle cx="272.6" cy="199.4" r="0.3"/><circle cx="272.6" cy="200.4" r="0.3"/><circle cx="290.8" cy="216.0" r="0.3"/><circle cx="284.2" cy="202.1" r="0.3"/><circle cx="288.0" cy="195.8" r="0.3"/><circle cx="286.2" cy="203.6" r="0.3"/><circle cx="278.6" cy="194.9" r="0.3"/><circle cx="292.2" cy="204.0" r="0.3"/><circle cx="254.1" cy="208.7" r="0.3"/><circle cx="284.5" cy="218.4" r="0.3"/><circle cx="286.5" cy="208.0" r="0.3"/><circle cx="291.2" cy="205.2" r="0.3"/><circle cx="275.8" cy="206.8" r="0.3"/><circle cx="288.6" cy="205.2" r="0.3"/><circle cx="288.6" cy="202.5" r="0.3"/><circle cx="285.3" cy="213.7" r="0.3"/><circle cx="291.5" cy="206.6" r="0.3"/><circle cx="271.0" cy="228.0" r="0.3"/><circle cx="267.7" cy="223.5" r="0.3"/><circle cx="279.2" cy="210.3" r="0.3"/><circle cx="278.2" cy="207.0" r="0.3"/><circle cx="286.0" cy="205.2" r="0.3"/><circle cx="264.9" cy="198.9" r="0.3"/><circle cx="280.5" cy="213.2" r="0.3"/><circle cx="279.5" cy="213.1" r="0.3"/><circle cx="275.8" cy="203.2" r="0.3"/><circle cx="299.2" cy="204.4" r="0.3"/><circle cx="282.0" cy="205.5" r="0.3"/><circle cx="282.7" cy="191.8" r="0.3"/><circle cx="282.8" cy="216.6" r="0.3"/><circle cx="286.6" cy="196.2" r="0.3"/><circle cx="279.5" cy="212.3" r="0.3"/><circle cx="271.0" cy="212.8" r="0.3"/><circle cx="269.0" cy="195.1" r="0.3"/><circle cx="290.8" cy="204.3" r="0.3"/><circle cx="282.9" cy="190.5" r="0.3"/><circle cx="270.2" cy="210.4" r="0.3"/><circle cx="284.6" cy="224.1" r="0.3"/><circle cx="274.8" cy="210.6" r="0.3"/><circle cx="286.7" cy="205.7" r="0.3"/><circle cx="287.3" cy="189.4" r="0.3"/><circle cx="289.7" cy="199.3" r="0.3"/><circle cx="275.9" cy="214.2" r="0.3"/><circle cx="281.8" cy="222.8" r="0.3"/><circle cx="283.2" cy="215.1" r="0.3"/><circle cx="288.7" cy="192.6" r="0.3"/><circle cx="277.6" cy="212.1" r="0.3"/><circle cx="280.5" cy="216.9" r="0.3"/><circle cx="280.3" cy="200.1" r="0.3"/><circle cx="282.0" cy="213.4" r="0.3"/><circle cx="281.8" cy="223.5" r="0.3"/><circle cx="276.7" cy="209.8" r="0.3"/><circle cx="285.0" cy="219.4" r="0.3"/><circle cx="295.2" cy="205.2" r="0.3"/><circle cx="287.9" cy="200.7" r="0.3"/><circle cx="297.9" cy="195.8" r="0.3"/><circle cx="288.9" cy="204.6" r="0.3"/><circle cx="289.4" cy="201.0" r="0.3"/><circle cx="273.7" cy="198.6" r="0.3"/><circle cx="290.3" cy="183.8" r="0.3"/><circle cx="264.7" cy="217.3" r="0.3"/><circle cx="302.4" cy="196.7" r="0.3"/><circle cx="280.3" cy="210.6" r="0.3"/><circle cx="272.7" cy="195.7" r="0.3"/><circle cx="282.2" cy="208.8" r="0.3"/><circle cx="284.8" cy="190.7" r="0.3"/><circle cx="259.6" cy="214.0" r="0.3"/><circle cx="285.7" cy="203.0" r="0.3"/><circle cx="284.8" cy="204.6" r="0.3"/><circle cx="273.5" cy="201.2" r="0.3"/><circle cx="288.1" cy="203.5" r="0.3"/><circle cx="293.3" cy="206.7" r="0.3"/><circle cx="262.6" cy="202.9" r="0.3"/><circle cx="281.8" cy="228.2" r="0.3"/><circle cx="278.8" cy="213.6" r="0.3"/><circle cx="286.6" cy="208.6" r="0.3"/><circle cx="302.2" cy="179.1" r="0.3"/><circle cx="278.8" cy="203.4" r="0.3"/><circle cx="287.3" cy="205.7" r="0.3"/><circle cx="283.1" cy="218.4" r="0.3"/><circle cx="293.1" cy="198.7" r="0.3"/><circle cx="281.0" cy="204.7" r="0.3"/><circle cx="275.1" cy="220.1" r="0.3"/><circle cx="273.8" cy="209.7" r="0.3"/><circle cx="285.1" cy="193.3" r="0.3"/><circle cx="283.8" cy="212.9" r="0.3"/><circle cx="292.1" cy="188.1" r="0.3"/><circle cx="287.2" cy="193.8" r="0.3"/><circle cx="288.1" cy="204.5" r="0.3"/><circle cx="280.5" cy="218.2" r="0.3"/><circle cx="295.5" cy="192.1" r="0.3"/><circle cx="278.8" cy="197.4" r="0.3"/><circle cx="295.5" cy="192.2" r="0.3"/></g>
</g>
<ellipse cx="284" cy="204.3" rx="20.6" ry="11.2" transform="rotate(-45 284 204.3)" fill="none" stroke="#555" stroke-width="0.85"/>
<line x1="254.4" y1="184.9" x2="303.4" y2="184.9" stroke="#b4b4b4" stroke-width="0.7" />
<line x1="303.4" y1="184.9" x2="303.4" y2="232.6" stroke="#b4b4b4" stroke-width="0.7" />
<line x1="254.4" y1="184.55" x2="254.4" y2="232.6" stroke="#8c8c8c" stroke-width="0.9" />
<line x1="253.95000000000002" y1="232.6" x2="303.75" y2="232.6" stroke="#555" stroke-width="0.9" />
<line x1="250.2" y1="182.1" x2="250.2" y2="204.5" stroke="#444" stroke-width="1.1" />
<path d="M247.29999999999998,187.7 L250.2,182.1 L253.1,187.7" fill="none" stroke="#444" stroke-width="1.1"/>
<line x1="250.2" y1="211.5" x2="250.2" y2="239.5" stroke="#444" stroke-width="1.1" />
<line x1="249.65" y1="239.5" x2="303.5" y2="239.5" stroke="#444" stroke-width="1.1" />
<text x="308.4" y="241.2" font-size="5.0" font-weight="normal" text-anchor="middle" fill="#777" >FSC</text>
<text x="248.2" y="210.3" font-size="4.6" font-weight="normal" text-anchor="middle" fill="#777" >SSC</text>
<clipPath id="c3"><rect x="315.4" y="185.4" width="48.0" height="46.5"/></clipPath>
<g clip-path="url(#c3)">
<g fill="#eaea48" opacity="0.85"><circle cx="324.4" cy="221.1" r="0.42"/><circle cx="320.4" cy="220.0" r="0.42"/><circle cx="323.9" cy="225.7" r="0.42"/><circle cx="329.1" cy="203.9" r="0.42"/><circle cx="322.5" cy="216.6" r="0.42"/><circle cx="325.5" cy="217.7" r="0.42"/><circle cx="326.4" cy="206.7" r="0.42"/><circle cx="322.1" cy="210.2" r="0.42"/><circle cx="328.9" cy="207.7" r="0.42"/><circle cx="327.6" cy="219.6" r="0.42"/><circle cx="328.6" cy="216.8" r="0.42"/><circle cx="332.1" cy="211.9" r="0.42"/><circle cx="323.8" cy="218.1" r="0.42"/><circle cx="325.9" cy="212.6" r="0.42"/><circle cx="327.3" cy="206.8" r="0.42"/><circle cx="331.2" cy="211.9" r="0.42"/><circle cx="318.5" cy="221.8" r="0.42"/><circle cx="322.0" cy="217.8" r="0.42"/><circle cx="326.0" cy="212.5" r="0.42"/><circle cx="324.5" cy="213.5" r="0.42"/><circle cx="326.5" cy="215.5" r="0.42"/><circle cx="325.3" cy="210.2" r="0.42"/><circle cx="323.3" cy="214.0" r="0.42"/><circle cx="321.5" cy="213.4" r="0.42"/><circle cx="329.4" cy="211.2" r="0.42"/><circle cx="323.5" cy="214.1" r="0.42"/><circle cx="322.8" cy="215.6" r="0.42"/><circle cx="325.9" cy="223.5" r="0.42"/><circle cx="330.2" cy="198.4" r="0.42"/><circle cx="324.2" cy="220.4" r="0.42"/><circle cx="323.0" cy="209.8" r="0.42"/><circle cx="322.3" cy="223.7" r="0.42"/><circle cx="324.3" cy="225.2" r="0.42"/><circle cx="324.5" cy="216.8" r="0.42"/><circle cx="324.1" cy="213.8" r="0.42"/><circle cx="324.4" cy="214.7" r="0.42"/><circle cx="328.2" cy="208.9" r="0.42"/><circle cx="324.1" cy="213.9" r="0.42"/><circle cx="322.2" cy="216.3" r="0.42"/><circle cx="330.1" cy="216.9" r="0.42"/><circle cx="328.7" cy="209.9" r="0.42"/><circle cx="331.9" cy="208.5" r="0.42"/><circle cx="325.6" cy="213.4" r="0.42"/><circle cx="323.5" cy="219.7" r="0.42"/><circle cx="320.8" cy="213.8" r="0.42"/><circle cx="327.3" cy="222.7" r="0.42"/><circle cx="327.2" cy="214.2" r="0.42"/><circle cx="324.8" cy="213.0" r="0.42"/><circle cx="329.3" cy="213.9" r="0.42"/><circle cx="326.0" cy="216.5" r="0.42"/><circle cx="326.7" cy="209.3" r="0.42"/><circle cx="324.1" cy="212.8" r="0.42"/><circle cx="326.0" cy="211.4" r="0.42"/><circle cx="326.3" cy="208.4" r="0.42"/><circle cx="328.7" cy="206.6" r="0.42"/><circle cx="321.3" cy="217.0" r="0.42"/><circle cx="324.9" cy="210.4" r="0.42"/><circle cx="332.9" cy="208.2" r="0.42"/><circle cx="323.2" cy="210.3" r="0.42"/><circle cx="323.6" cy="213.7" r="0.42"/><circle cx="322.3" cy="223.1" r="0.42"/><circle cx="329.3" cy="204.1" r="0.42"/><circle cx="330.6" cy="212.6" r="0.42"/><circle cx="322.4" cy="218.3" r="0.42"/><circle cx="327.3" cy="213.9" r="0.42"/><circle cx="323.3" cy="219.8" r="0.42"/><circle cx="327.6" cy="216.2" r="0.42"/><circle cx="320.4" cy="220.8" r="0.42"/><circle cx="323.5" cy="216.3" r="0.42"/><circle cx="325.6" cy="210.5" r="0.42"/><circle cx="330.2" cy="201.5" r="0.42"/><circle cx="330.0" cy="212.1" r="0.42"/><circle cx="327.3" cy="210.0" r="0.42"/><circle cx="322.9" cy="217.8" r="0.42"/><circle cx="327.4" cy="211.7" r="0.42"/><circle cx="328.3" cy="212.7" r="0.42"/><circle cx="321.1" cy="217.2" r="0.42"/><circle cx="327.7" cy="207.5" r="0.42"/><circle cx="326.4" cy="223.9" r="0.42"/><circle cx="321.2" cy="217.0" r="0.42"/><circle cx="325.0" cy="208.7" r="0.42"/><circle cx="326.0" cy="219.7" r="0.42"/><circle cx="329.8" cy="221.4" r="0.42"/><circle cx="332.4" cy="217.6" r="0.42"/><circle cx="325.9" cy="214.0" r="0.42"/><circle cx="323.4" cy="217.0" r="0.42"/><circle cx="324.3" cy="216.7" r="0.42"/><circle cx="324.2" cy="209.4" r="0.42"/><circle cx="318.2" cy="215.8" r="0.42"/><circle cx="328.8" cy="207.8" r="0.42"/><circle cx="325.3" cy="214.5" r="0.42"/><circle cx="328.7" cy="210.5" r="0.42"/><circle cx="327.1" cy="210.5" r="0.42"/><circle cx="325.1" cy="215.0" r="0.42"/><circle cx="323.8" cy="224.2" r="0.42"/><circle cx="319.3" cy="220.2" r="0.42"/><circle cx="327.2" cy="211.6" r="0.42"/><circle cx="331.6" cy="213.2" r="0.42"/><circle cx="333.3" cy="208.1" r="0.42"/><circle cx="330.0" cy="218.2" r="0.42"/><circle cx="323.2" cy="218.3" r="0.42"/><circle cx="327.3" cy="209.8" r="0.42"/><circle cx="324.3" cy="214.6" r="0.42"/><circle cx="322.6" cy="205.2" r="0.42"/><circle cx="331.1" cy="210.3" r="0.42"/><circle cx="326.7" cy="215.6" r="0.42"/><circle cx="326.0" cy="220.2" r="0.42"/><circle cx="330.4" cy="199.8" r="0.42"/><circle cx="328.6" cy="208.3" r="0.42"/><circle cx="323.5" cy="215.4" r="0.42"/><circle cx="322.0" cy="213.7" r="0.42"/><circle cx="326.4" cy="222.7" r="0.42"/><circle cx="326.8" cy="215.3" r="0.42"/><circle cx="327.4" cy="213.8" r="0.42"/><circle cx="319.6" cy="220.0" r="0.42"/><circle cx="329.5" cy="213.0" r="0.42"/><circle cx="321.4" cy="218.8" r="0.42"/><circle cx="324.6" cy="220.1" r="0.42"/><circle cx="326.4" cy="213.0" r="0.42"/><circle cx="324.8" cy="217.8" r="0.42"/><circle cx="323.7" cy="213.4" r="0.42"/><circle cx="324.6" cy="212.2" r="0.42"/><circle cx="329.3" cy="211.1" r="0.42"/><circle cx="325.3" cy="218.3" r="0.42"/><circle cx="323.9" cy="213.3" r="0.42"/><circle cx="319.2" cy="216.3" r="0.42"/><circle cx="323.7" cy="219.9" r="0.42"/><circle cx="326.8" cy="208.3" r="0.42"/><circle cx="326.7" cy="214.2" r="0.42"/><circle cx="328.4" cy="211.6" r="0.42"/><circle cx="330.3" cy="210.1" r="0.42"/><circle cx="324.7" cy="218.4" r="0.42"/><circle cx="319.6" cy="224.6" r="0.42"/><circle cx="327.0" cy="215.2" r="0.42"/><circle cx="326.8" cy="216.9" r="0.42"/><circle cx="326.5" cy="207.6" r="0.42"/><circle cx="324.9" cy="217.2" r="0.42"/><circle cx="327.0" cy="212.5" r="0.42"/><circle cx="324.5" cy="209.3" r="0.42"/><circle cx="330.2" cy="212.6" r="0.42"/><circle cx="329.2" cy="210.2" r="0.42"/><circle cx="325.9" cy="216.1" r="0.42"/><circle cx="321.4" cy="212.7" r="0.42"/><circle cx="324.0" cy="217.1" r="0.42"/><circle cx="322.0" cy="215.6" r="0.42"/><circle cx="324.0" cy="215.0" r="0.42"/><circle cx="325.5" cy="214.1" r="0.42"/><circle cx="328.4" cy="215.0" r="0.42"/><circle cx="326.8" cy="214.4" r="0.42"/><circle cx="315.3" cy="216.0" r="0.42"/><circle cx="326.2" cy="217.2" r="0.42"/><circle cx="323.2" cy="215.2" r="0.42"/><circle cx="324.8" cy="221.1" r="0.42"/><circle cx="324.9" cy="217.2" r="0.42"/><circle cx="329.5" cy="210.2" r="0.42"/><circle cx="330.4" cy="204.4" r="0.42"/><circle cx="329.5" cy="211.2" r="0.42"/><circle cx="324.1" cy="217.5" r="0.42"/><circle cx="321.6" cy="215.6" r="0.42"/><circle cx="324.3" cy="212.2" r="0.42"/><circle cx="327.6" cy="206.1" r="0.42"/><circle cx="324.4" cy="217.0" r="0.42"/><circle cx="324.4" cy="216.9" r="0.42"/><circle cx="320.6" cy="215.3" r="0.42"/><circle cx="316.6" cy="223.5" r="0.42"/><circle cx="330.2" cy="208.4" r="0.42"/><circle cx="324.7" cy="213.2" r="0.42"/><circle cx="325.9" cy="215.5" r="0.42"/><circle cx="320.3" cy="219.6" r="0.42"/><circle cx="326.5" cy="220.1" r="0.42"/><circle cx="325.9" cy="220.7" r="0.42"/><circle cx="331.1" cy="220.1" r="0.42"/><circle cx="325.4" cy="214.9" r="0.42"/><circle cx="330.8" cy="209.7" r="0.42"/><circle cx="325.1" cy="208.9" r="0.42"/><circle cx="332.3" cy="211.7" r="0.42"/><circle cx="324.1" cy="214.3" r="0.42"/><circle cx="325.5" cy="220.7" r="0.42"/><circle cx="326.2" cy="213.2" r="0.42"/><circle cx="326.6" cy="222.1" r="0.42"/><circle cx="327.5" cy="210.6" r="0.42"/><circle cx="326.6" cy="206.7" r="0.42"/><circle cx="325.1" cy="209.3" r="0.42"/><circle cx="328.1" cy="207.9" r="0.42"/><circle cx="327.3" cy="208.6" r="0.42"/><circle cx="329.3" cy="214.2" r="0.42"/><circle cx="323.6" cy="218.6" r="0.42"/><circle cx="325.6" cy="219.3" r="0.42"/><circle cx="323.2" cy="216.7" r="0.42"/><circle cx="327.9" cy="216.9" r="0.42"/><circle cx="323.0" cy="219.1" r="0.42"/><circle cx="323.4" cy="215.2" r="0.42"/><circle cx="323.3" cy="217.8" r="0.42"/><circle cx="322.1" cy="211.6" r="0.42"/><circle cx="323.1" cy="211.9" r="0.42"/><circle cx="331.2" cy="217.4" r="0.42"/><circle cx="323.1" cy="218.7" r="0.42"/><circle cx="327.3" cy="216.9" r="0.42"/><circle cx="320.0" cy="214.2" r="0.42"/><circle cx="322.2" cy="221.8" r="0.42"/><circle cx="328.7" cy="214.8" r="0.42"/><circle cx="325.9" cy="217.7" r="0.42"/><circle cx="326.2" cy="220.9" r="0.42"/><circle cx="323.7" cy="213.9" r="0.42"/><circle cx="330.2" cy="216.0" r="0.42"/><circle cx="320.4" cy="216.6" r="0.42"/><circle cx="320.3" cy="217.5" r="0.42"/><circle cx="326.2" cy="215.2" r="0.42"/><circle cx="325.6" cy="215.5" r="0.42"/><circle cx="327.6" cy="208.9" r="0.42"/><circle cx="316.9" cy="217.0" r="0.42"/><circle cx="324.4" cy="212.5" r="0.42"/><circle cx="325.9" cy="216.1" r="0.42"/><circle cx="322.7" cy="210.4" r="0.42"/><circle cx="323.4" cy="218.8" r="0.42"/><circle cx="328.0" cy="216.6" r="0.42"/><circle cx="319.2" cy="214.0" r="0.42"/><circle cx="324.2" cy="207.2" r="0.42"/><circle cx="324.2" cy="219.3" r="0.42"/><circle cx="329.2" cy="222.4" r="0.42"/><circle cx="327.4" cy="214.2" r="0.42"/><circle cx="330.0" cy="219.3" r="0.42"/><circle cx="325.0" cy="211.2" r="0.42"/><circle cx="324.3" cy="206.7" r="0.42"/><circle cx="324.8" cy="217.5" r="0.42"/><circle cx="323.5" cy="212.6" r="0.42"/><circle cx="332.8" cy="209.5" r="0.42"/><circle cx="324.2" cy="219.1" r="0.42"/><circle cx="322.9" cy="216.7" r="0.42"/><circle cx="328.1" cy="210.3" r="0.42"/><circle cx="325.5" cy="215.1" r="0.42"/><circle cx="325.8" cy="221.3" r="0.42"/><circle cx="327.0" cy="219.5" r="0.42"/><circle cx="323.3" cy="215.9" r="0.42"/><circle cx="329.5" cy="208.2" r="0.42"/><circle cx="322.7" cy="216.6" r="0.42"/><circle cx="331.5" cy="214.3" r="0.42"/><circle cx="326.0" cy="211.3" r="0.42"/><circle cx="321.2" cy="218.6" r="0.42"/><circle cx="325.8" cy="215.3" r="0.42"/><circle cx="327.1" cy="219.1" r="0.42"/><circle cx="321.5" cy="217.8" r="0.42"/><circle cx="327.9" cy="212.9" r="0.42"/><circle cx="327.0" cy="217.5" r="0.42"/><circle cx="326.2" cy="222.9" r="0.42"/><circle cx="335.5" cy="207.4" r="0.42"/><circle cx="330.6" cy="216.6" r="0.42"/><circle cx="328.9" cy="216.0" r="0.42"/><circle cx="325.5" cy="215.6" r="0.42"/><circle cx="322.4" cy="209.9" r="0.42"/><circle cx="329.3" cy="217.7" r="0.42"/><circle cx="319.6" cy="227.9" r="0.42"/><circle cx="328.5" cy="210.9" r="0.42"/><circle cx="329.4" cy="215.5" r="0.42"/><circle cx="321.6" cy="210.5" r="0.42"/><circle cx="322.6" cy="218.3" r="0.42"/><circle cx="324.7" cy="213.3" r="0.42"/><circle cx="329.4" cy="217.2" r="0.42"/><circle cx="321.5" cy="229.0" r="0.42"/><circle cx="329.2" cy="211.2" r="0.42"/><circle cx="325.7" cy="214.5" r="0.42"/><circle cx="327.0" cy="213.2" r="0.42"/><circle cx="325.7" cy="218.7" r="0.42"/><circle cx="323.5" cy="218.1" r="0.42"/><circle cx="321.8" cy="214.6" r="0.42"/><circle cx="326.7" cy="211.7" r="0.42"/><circle cx="322.6" cy="219.5" r="0.42"/><circle cx="325.8" cy="222.5" r="0.42"/><circle cx="331.6" cy="214.8" r="0.42"/><circle cx="325.9" cy="217.9" r="0.42"/><circle cx="321.1" cy="217.6" r="0.42"/><circle cx="326.3" cy="215.4" r="0.42"/><circle cx="327.0" cy="210.1" r="0.42"/><circle cx="330.5" cy="210.9" r="0.42"/><circle cx="323.0" cy="218.1" r="0.42"/><circle cx="327.6" cy="220.8" r="0.42"/><circle cx="326.4" cy="218.1" r="0.42"/><circle cx="327.0" cy="210.1" r="0.42"/><circle cx="325.2" cy="217.1" r="0.42"/><circle cx="320.6" cy="216.3" r="0.42"/><circle cx="324.1" cy="219.2" r="0.42"/><circle cx="330.3" cy="216.0" r="0.42"/><circle cx="322.5" cy="223.2" r="0.42"/><circle cx="325.6" cy="221.1" r="0.42"/><circle cx="327.4" cy="211.6" r="0.42"/><circle cx="328.0" cy="207.5" r="0.42"/><circle cx="321.7" cy="215.5" r="0.42"/><circle cx="324.2" cy="217.5" r="0.42"/><circle cx="330.2" cy="213.2" r="0.42"/><circle cx="323.1" cy="214.7" r="0.42"/><circle cx="323.7" cy="215.4" r="0.42"/><circle cx="323.4" cy="216.0" r="0.42"/><circle cx="323.3" cy="218.3" r="0.42"/><circle cx="323.9" cy="216.5" r="0.42"/><circle cx="322.6" cy="220.8" r="0.42"/><circle cx="328.4" cy="212.8" r="0.42"/><circle cx="321.4" cy="215.4" r="0.42"/><circle cx="319.6" cy="218.7" r="0.42"/><circle cx="323.2" cy="216.9" r="0.42"/><circle cx="323.0" cy="223.2" r="0.42"/><circle cx="320.2" cy="220.4" r="0.42"/><circle cx="325.9" cy="218.7" r="0.42"/><circle cx="328.9" cy="206.0" r="0.42"/><circle cx="323.9" cy="215.2" r="0.42"/><circle cx="324.6" cy="215.2" r="0.42"/><circle cx="328.6" cy="202.3" r="0.42"/><circle cx="323.3" cy="214.0" r="0.42"/><circle cx="325.1" cy="212.3" r="0.42"/><circle cx="324.2" cy="210.6" r="0.42"/><circle cx="330.9" cy="205.5" r="0.42"/><circle cx="323.1" cy="223.1" r="0.42"/><circle cx="321.6" cy="215.1" r="0.42"/><circle cx="325.3" cy="211.9" r="0.42"/><circle cx="325.9" cy="210.6" r="0.42"/><circle cx="328.0" cy="210.7" r="0.42"/><circle cx="326.7" cy="213.1" r="0.42"/><circle cx="323.8" cy="215.6" r="0.42"/><circle cx="328.3" cy="213.4" r="0.42"/><circle cx="330.0" cy="219.2" r="0.42"/><circle cx="326.6" cy="205.6" r="0.42"/><circle cx="327.9" cy="209.7" r="0.42"/><circle cx="324.1" cy="212.5" r="0.42"/><circle cx="327.3" cy="206.2" r="0.42"/><circle cx="323.5" cy="213.9" r="0.42"/><circle cx="333.0" cy="207.7" r="0.42"/><circle cx="321.3" cy="219.7" r="0.42"/><circle cx="325.3" cy="212.4" r="0.42"/><circle cx="322.1" cy="214.6" r="0.42"/><circle cx="323.4" cy="212.0" r="0.42"/><circle cx="333.3" cy="214.0" r="0.42"/><circle cx="328.8" cy="218.1" r="0.42"/><circle cx="324.7" cy="212.0" r="0.42"/><circle cx="322.4" cy="214.8" r="0.42"/><circle cx="327.5" cy="214.9" r="0.42"/><circle cx="327.0" cy="210.1" r="0.42"/><circle cx="322.6" cy="219.6" r="0.42"/><circle cx="330.1" cy="207.6" r="0.42"/><circle cx="320.3" cy="212.1" r="0.42"/><circle cx="325.8" cy="217.1" r="0.42"/><circle cx="326.6" cy="220.4" r="0.42"/><circle cx="322.1" cy="215.8" r="0.42"/><circle cx="323.9" cy="216.9" r="0.42"/><circle cx="326.4" cy="209.4" r="0.42"/><circle cx="321.2" cy="222.2" r="0.42"/><circle cx="330.5" cy="214.2" r="0.42"/><circle cx="326.5" cy="221.3" r="0.42"/><circle cx="328.2" cy="212.1" r="0.42"/><circle cx="321.6" cy="216.7" r="0.42"/><circle cx="325.6" cy="219.9" r="0.42"/><circle cx="328.6" cy="214.9" r="0.42"/><circle cx="329.8" cy="206.6" r="0.42"/><circle cx="330.0" cy="217.2" r="0.42"/><circle cx="321.4" cy="219.6" r="0.42"/><circle cx="323.7" cy="215.6" r="0.42"/><circle cx="323.8" cy="212.8" r="0.42"/><circle cx="324.9" cy="207.7" r="0.42"/><circle cx="319.5" cy="215.9" r="0.42"/><circle cx="323.7" cy="221.4" r="0.42"/><circle cx="326.5" cy="211.5" r="0.42"/><circle cx="329.0" cy="211.6" r="0.42"/><circle cx="324.1" cy="217.0" r="0.42"/><circle cx="331.2" cy="215.5" r="0.42"/><circle cx="325.4" cy="216.9" r="0.42"/><circle cx="329.7" cy="213.7" r="0.42"/><circle cx="329.1" cy="214.0" r="0.42"/><circle cx="322.4" cy="218.8" r="0.42"/><circle cx="320.9" cy="222.8" r="0.42"/><circle cx="331.5" cy="204.7" r="0.42"/><circle cx="326.4" cy="214.5" r="0.42"/><circle cx="322.6" cy="212.2" r="0.42"/><circle cx="323.5" cy="217.3" r="0.42"/><circle cx="323.8" cy="212.7" r="0.42"/><circle cx="323.5" cy="214.0" r="0.42"/><circle cx="320.9" cy="219.4" r="0.42"/><circle cx="325.7" cy="219.1" r="0.42"/><circle cx="330.0" cy="209.4" r="0.42"/><circle cx="323.7" cy="214.7" r="0.42"/><circle cx="320.6" cy="220.6" r="0.42"/><circle cx="331.9" cy="209.2" r="0.42"/><circle cx="325.4" cy="213.2" r="0.42"/><circle cx="326.5" cy="215.0" r="0.42"/><circle cx="326.5" cy="215.1" r="0.42"/><circle cx="323.8" cy="217.9" r="0.42"/><circle cx="327.3" cy="217.4" r="0.42"/><circle cx="325.8" cy="221.6" r="0.42"/><circle cx="324.1" cy="214.2" r="0.42"/><circle cx="325.9" cy="214.6" r="0.42"/><circle cx="326.0" cy="216.1" r="0.42"/><circle cx="320.1" cy="214.8" r="0.42"/><circle cx="327.1" cy="211.5" r="0.42"/><circle cx="330.3" cy="207.8" r="0.42"/><circle cx="323.9" cy="224.8" r="0.42"/><circle cx="325.3" cy="218.2" r="0.42"/><circle cx="333.3" cy="206.3" r="0.42"/><circle cx="322.8" cy="219.1" r="0.42"/><circle cx="323.4" cy="222.3" r="0.42"/><circle cx="324.3" cy="210.8" r="0.42"/><circle cx="328.8" cy="213.7" r="0.42"/><circle cx="325.8" cy="210.1" r="0.42"/><circle cx="321.2" cy="216.1" r="0.42"/><circle cx="323.3" cy="220.5" r="0.42"/><circle cx="328.7" cy="216.0" r="0.42"/><circle cx="325.4" cy="212.9" r="0.42"/><circle cx="325.9" cy="222.7" r="0.42"/><circle cx="325.8" cy="213.8" r="0.42"/><circle cx="320.7" cy="217.5" r="0.42"/><circle cx="324.6" cy="210.5" r="0.42"/><circle cx="328.4" cy="212.8" r="0.42"/><circle cx="320.7" cy="214.1" r="0.42"/><circle cx="329.9" cy="214.5" r="0.42"/><circle cx="320.6" cy="216.5" r="0.42"/><circle cx="328.4" cy="210.0" r="0.42"/><circle cx="327.0" cy="218.8" r="0.42"/><circle cx="326.0" cy="216.3" r="0.42"/><circle cx="322.8" cy="215.3" r="0.42"/><circle cx="324.0" cy="212.5" r="0.42"/><circle cx="320.1" cy="221.5" r="0.42"/><circle cx="331.0" cy="210.6" r="0.42"/><circle cx="332.9" cy="206.4" r="0.42"/><circle cx="329.8" cy="207.8" r="0.42"/><circle cx="325.6" cy="217.0" r="0.42"/><circle cx="325.1" cy="219.6" r="0.42"/><circle cx="325.1" cy="216.8" r="0.42"/><circle cx="323.2" cy="218.0" r="0.42"/><circle cx="327.3" cy="210.0" r="0.42"/><circle cx="324.7" cy="217.8" r="0.42"/><circle cx="327.1" cy="210.5" r="0.42"/><circle cx="319.1" cy="217.6" r="0.42"/><circle cx="325.0" cy="221.7" r="0.42"/><circle cx="326.5" cy="215.5" r="0.42"/><circle cx="328.7" cy="210.2" r="0.42"/><circle cx="325.4" cy="211.8" r="0.42"/><circle cx="323.3" cy="222.3" r="0.42"/><circle cx="326.7" cy="215.7" r="0.42"/><circle cx="322.7" cy="218.9" r="0.42"/><circle cx="328.2" cy="204.7" r="0.42"/><circle cx="328.9" cy="215.8" r="0.42"/><circle cx="325.3" cy="215.7" r="0.42"/><circle cx="322.5" cy="224.7" r="0.42"/><circle cx="327.6" cy="218.1" r="0.42"/><circle cx="324.4" cy="214.4" r="0.42"/><circle cx="326.0" cy="212.3" r="0.42"/><circle cx="328.0" cy="218.7" r="0.42"/><circle cx="328.1" cy="210.4" r="0.42"/><circle cx="329.4" cy="212.1" r="0.42"/><circle cx="327.0" cy="212.1" r="0.42"/><circle cx="326.7" cy="214.7" r="0.42"/><circle cx="327.7" cy="212.5" r="0.42"/><circle cx="324.1" cy="216.8" r="0.42"/><circle cx="324.2" cy="211.3" r="0.42"/><circle cx="327.3" cy="215.5" r="0.42"/><circle cx="325.2" cy="213.4" r="0.42"/><circle cx="324.3" cy="214.0" r="0.42"/><circle cx="326.9" cy="209.8" r="0.42"/><circle cx="318.8" cy="220.2" r="0.42"/><circle cx="326.7" cy="213.5" r="0.42"/><circle cx="321.3" cy="214.9" r="0.42"/><circle cx="323.2" cy="214.1" r="0.42"/><circle cx="324.0" cy="217.4" r="0.42"/><circle cx="324.5" cy="218.2" r="0.42"/><circle cx="322.7" cy="217.1" r="0.42"/><circle cx="328.5" cy="217.3" r="0.42"/><circle cx="331.4" cy="208.9" r="0.42"/><circle cx="323.9" cy="217.7" r="0.42"/><circle cx="329.5" cy="211.6" r="0.42"/><circle cx="321.7" cy="221.5" r="0.42"/><circle cx="325.6" cy="218.7" r="0.42"/><circle cx="325.7" cy="211.1" r="0.42"/><circle cx="329.8" cy="204.9" r="0.42"/><circle cx="330.7" cy="203.8" r="0.42"/><circle cx="329.8" cy="217.3" r="0.42"/><circle cx="323.2" cy="216.2" r="0.42"/><circle cx="328.8" cy="208.1" r="0.42"/><circle cx="323.7" cy="210.9" r="0.42"/><circle cx="332.0" cy="208.0" r="0.42"/><circle cx="328.0" cy="213.9" r="0.42"/><circle cx="323.3" cy="216.1" r="0.42"/><circle cx="322.8" cy="221.8" r="0.42"/><circle cx="330.4" cy="210.3" r="0.42"/><circle cx="329.3" cy="211.4" r="0.42"/><circle cx="320.3" cy="216.9" r="0.42"/><circle cx="327.4" cy="212.0" r="0.42"/><circle cx="327.2" cy="209.9" r="0.42"/><circle cx="324.6" cy="218.9" r="0.42"/><circle cx="320.4" cy="214.9" r="0.42"/><circle cx="322.1" cy="216.0" r="0.42"/><circle cx="321.7" cy="218.6" r="0.42"/><circle cx="333.3" cy="213.4" r="0.42"/><circle cx="328.5" cy="206.5" r="0.42"/><circle cx="328.0" cy="209.5" r="0.42"/><circle cx="324.9" cy="211.9" r="0.42"/><circle cx="321.4" cy="212.7" r="0.42"/><circle cx="327.9" cy="205.8" r="0.42"/><circle cx="325.5" cy="211.3" r="0.42"/><circle cx="323.4" cy="211.9" r="0.42"/><circle cx="326.8" cy="217.3" r="0.42"/><circle cx="322.3" cy="209.5" r="0.42"/><circle cx="324.4" cy="209.2" r="0.42"/><circle cx="327.4" cy="213.9" r="0.42"/><circle cx="323.3" cy="216.9" r="0.42"/></g>
<g fill="#6464a8" opacity="0.78"><circle cx="345.4" cy="206.6" r="0.33"/><circle cx="356.3" cy="203.0" r="0.33"/><circle cx="355.0" cy="209.0" r="0.33"/><circle cx="346.3" cy="216.2" r="0.33"/><circle cx="346.7" cy="208.1" r="0.33"/><circle cx="345.0" cy="204.7" r="0.33"/><circle cx="341.2" cy="210.7" r="0.33"/><circle cx="358.6" cy="191.5" r="0.33"/><circle cx="345.4" cy="203.7" r="0.33"/><circle cx="349.1" cy="198.4" r="0.33"/><circle cx="346.3" cy="204.4" r="0.33"/><circle cx="357.2" cy="199.0" r="0.33"/><circle cx="336.5" cy="207.7" r="0.33"/><circle cx="348.8" cy="206.6" r="0.33"/><circle cx="350.7" cy="196.8" r="0.33"/><circle cx="358.1" cy="189.7" r="0.33"/><circle cx="359.6" cy="200.2" r="0.33"/><circle cx="356.2" cy="194.4" r="0.33"/><circle cx="343.3" cy="194.2" r="0.33"/><circle cx="332.1" cy="212.4" r="0.33"/><circle cx="354.0" cy="203.1" r="0.33"/><circle cx="348.7" cy="208.1" r="0.33"/><circle cx="354.8" cy="205.7" r="0.33"/><circle cx="332.4" cy="210.4" r="0.33"/><circle cx="335.6" cy="205.6" r="0.33"/><circle cx="352.3" cy="189.8" r="0.33"/><circle cx="338.8" cy="207.2" r="0.33"/><circle cx="349.2" cy="196.3" r="0.33"/><circle cx="352.1" cy="201.0" r="0.33"/><circle cx="332.6" cy="198.7" r="0.33"/><circle cx="335.1" cy="204.6" r="0.33"/><circle cx="353.0" cy="190.7" r="0.33"/><circle cx="340.2" cy="211.7" r="0.33"/><circle cx="342.3" cy="199.7" r="0.33"/><circle cx="355.7" cy="200.2" r="0.33"/><circle cx="344.4" cy="199.0" r="0.33"/><circle cx="332.3" cy="201.3" r="0.33"/><circle cx="349.3" cy="202.6" r="0.33"/><circle cx="339.8" cy="209.4" r="0.33"/><circle cx="361.7" cy="178.9" r="0.33"/><circle cx="337.1" cy="216.5" r="0.33"/><circle cx="340.9" cy="204.4" r="0.33"/><circle cx="348.8" cy="199.2" r="0.33"/><circle cx="353.6" cy="199.3" r="0.33"/><circle cx="353.1" cy="196.8" r="0.33"/><circle cx="337.1" cy="222.1" r="0.33"/><circle cx="338.8" cy="218.1" r="0.33"/><circle cx="341.8" cy="196.8" r="0.33"/><circle cx="349.2" cy="206.5" r="0.33"/><circle cx="339.2" cy="210.1" r="0.33"/><circle cx="337.1" cy="204.4" r="0.33"/><circle cx="346.4" cy="212.2" r="0.33"/><circle cx="349.6" cy="199.2" r="0.33"/><circle cx="345.4" cy="204.5" r="0.33"/><circle cx="347.9" cy="202.5" r="0.33"/><circle cx="338.2" cy="217.7" r="0.33"/><circle cx="330.3" cy="199.1" r="0.33"/><circle cx="345.3" cy="194.6" r="0.33"/><circle cx="344.2" cy="204.1" r="0.33"/><circle cx="343.8" cy="209.2" r="0.33"/><circle cx="342.7" cy="204.2" r="0.33"/><circle cx="338.4" cy="208.4" r="0.33"/><circle cx="339.1" cy="210.2" r="0.33"/><circle cx="357.5" cy="199.1" r="0.33"/><circle cx="343.0" cy="195.7" r="0.33"/><circle cx="355.4" cy="200.6" r="0.33"/><circle cx="349.9" cy="182.2" r="0.33"/><circle cx="344.3" cy="202.2" r="0.33"/><circle cx="348.2" cy="192.7" r="0.33"/><circle cx="351.8" cy="214.7" r="0.33"/><circle cx="344.2" cy="189.8" r="0.33"/><circle cx="350.7" cy="208.6" r="0.33"/><circle cx="343.8" cy="209.6" r="0.33"/><circle cx="340.6" cy="197.4" r="0.33"/><circle cx="345.8" cy="211.7" r="0.33"/><circle cx="350.6" cy="193.9" r="0.33"/><circle cx="349.8" cy="193.8" r="0.33"/><circle cx="346.9" cy="201.9" r="0.33"/><circle cx="338.8" cy="212.6" r="0.33"/><circle cx="332.7" cy="195.6" r="0.33"/><circle cx="337.1" cy="205.5" r="0.33"/><circle cx="336.5" cy="205.1" r="0.33"/><circle cx="331.9" cy="198.6" r="0.33"/><circle cx="351.3" cy="198.2" r="0.33"/><circle cx="346.0" cy="200.9" r="0.33"/><circle cx="344.8" cy="202.1" r="0.33"/><circle cx="332.9" cy="204.6" r="0.33"/><circle cx="349.7" cy="206.9" r="0.33"/><circle cx="353.0" cy="208.1" r="0.33"/><circle cx="335.9" cy="211.1" r="0.33"/><circle cx="346.2" cy="212.0" r="0.33"/><circle cx="354.1" cy="190.9" r="0.33"/><circle cx="349.1" cy="198.0" r="0.33"/><circle cx="338.8" cy="209.4" r="0.33"/><circle cx="344.8" cy="215.9" r="0.33"/><circle cx="353.6" cy="204.3" r="0.33"/><circle cx="338.5" cy="192.1" r="0.33"/><circle cx="350.8" cy="198.8" r="0.33"/><circle cx="330.9" cy="218.8" r="0.33"/><circle cx="358.2" cy="203.7" r="0.33"/><circle cx="342.0" cy="212.9" r="0.33"/><circle cx="346.9" cy="200.8" r="0.33"/><circle cx="345.6" cy="207.3" r="0.33"/><circle cx="351.5" cy="202.4" r="0.33"/><circle cx="337.9" cy="201.1" r="0.33"/><circle cx="358.6" cy="200.2" r="0.33"/><circle cx="341.8" cy="206.9" r="0.33"/><circle cx="343.8" cy="191.8" r="0.33"/><circle cx="357.7" cy="209.6" r="0.33"/><circle cx="344.4" cy="199.1" r="0.33"/><circle cx="358.2" cy="190.8" r="0.33"/><circle cx="345.1" cy="200.6" r="0.33"/><circle cx="339.7" cy="195.6" r="0.33"/><circle cx="331.8" cy="206.0" r="0.33"/><circle cx="350.7" cy="197.5" r="0.33"/><circle cx="344.9" cy="188.6" r="0.33"/><circle cx="347.2" cy="212.8" r="0.33"/><circle cx="333.4" cy="201.4" r="0.33"/><circle cx="339.4" cy="206.9" r="0.33"/><circle cx="350.3" cy="208.5" r="0.33"/><circle cx="359.6" cy="201.1" r="0.33"/><circle cx="347.1" cy="198.0" r="0.33"/><circle cx="336.7" cy="201.0" r="0.33"/><circle cx="358.1" cy="200.3" r="0.33"/><circle cx="342.6" cy="199.6" r="0.33"/><circle cx="351.5" cy="201.1" r="0.33"/><circle cx="342.0" cy="198.1" r="0.33"/><circle cx="344.8" cy="199.9" r="0.33"/><circle cx="352.3" cy="201.2" r="0.33"/><circle cx="346.5" cy="199.1" r="0.33"/><circle cx="357.9" cy="196.9" r="0.33"/><circle cx="356.5" cy="198.8" r="0.33"/><circle cx="351.0" cy="200.8" r="0.33"/><circle cx="331.8" cy="203.3" r="0.33"/><circle cx="341.9" cy="211.7" r="0.33"/><circle cx="351.8" cy="198.5" r="0.33"/><circle cx="352.9" cy="209.9" r="0.33"/><circle cx="336.2" cy="199.2" r="0.33"/><circle cx="334.5" cy="212.0" r="0.33"/><circle cx="352.6" cy="201.9" r="0.33"/><circle cx="347.1" cy="208.0" r="0.33"/><circle cx="342.4" cy="201.1" r="0.33"/><circle cx="345.9" cy="208.7" r="0.33"/><circle cx="347.1" cy="193.3" r="0.33"/><circle cx="339.7" cy="210.1" r="0.33"/><circle cx="354.2" cy="185.8" r="0.33"/><circle cx="339.2" cy="212.9" r="0.33"/><circle cx="346.3" cy="198.0" r="0.33"/><circle cx="347.1" cy="205.5" r="0.33"/><circle cx="334.4" cy="214.3" r="0.33"/><circle cx="352.7" cy="203.3" r="0.33"/><circle cx="352.4" cy="196.0" r="0.33"/><circle cx="341.5" cy="217.6" r="0.33"/><circle cx="347.8" cy="196.3" r="0.33"/><circle cx="355.8" cy="201.0" r="0.33"/><circle cx="335.6" cy="195.4" r="0.33"/><circle cx="339.6" cy="203.6" r="0.33"/><circle cx="339.9" cy="208.4" r="0.33"/><circle cx="340.1" cy="211.7" r="0.33"/><circle cx="352.7" cy="187.2" r="0.33"/><circle cx="349.9" cy="195.0" r="0.33"/><circle cx="348.3" cy="199.6" r="0.33"/><circle cx="350.7" cy="192.8" r="0.33"/><circle cx="347.0" cy="196.0" r="0.33"/><circle cx="346.8" cy="202.0" r="0.33"/><circle cx="346.2" cy="190.7" r="0.33"/><circle cx="342.3" cy="217.2" r="0.33"/><circle cx="354.3" cy="207.5" r="0.33"/><circle cx="339.8" cy="210.7" r="0.33"/><circle cx="355.9" cy="206.4" r="0.33"/><circle cx="343.4" cy="202.1" r="0.33"/><circle cx="349.5" cy="198.7" r="0.33"/><circle cx="343.6" cy="211.1" r="0.33"/><circle cx="329.7" cy="211.5" r="0.33"/><circle cx="352.0" cy="193.1" r="0.33"/><circle cx="344.8" cy="206.9" r="0.33"/><circle cx="354.4" cy="198.5" r="0.33"/><circle cx="337.2" cy="207.4" r="0.33"/><circle cx="351.5" cy="196.5" r="0.33"/><circle cx="344.8" cy="210.7" r="0.33"/><circle cx="360.8" cy="204.7" r="0.33"/><circle cx="336.0" cy="207.5" r="0.33"/><circle cx="342.4" cy="209.2" r="0.33"/><circle cx="346.7" cy="210.7" r="0.33"/><circle cx="332.3" cy="223.9" r="0.33"/><circle cx="340.4" cy="206.5" r="0.33"/><circle cx="349.7" cy="200.7" r="0.33"/><circle cx="344.8" cy="215.5" r="0.33"/><circle cx="347.1" cy="198.0" r="0.33"/><circle cx="342.5" cy="198.0" r="0.33"/><circle cx="336.6" cy="210.0" r="0.33"/><circle cx="348.1" cy="201.6" r="0.33"/><circle cx="335.3" cy="203.1" r="0.33"/><circle cx="341.0" cy="220.0" r="0.33"/><circle cx="344.7" cy="198.2" r="0.33"/><circle cx="354.8" cy="198.2" r="0.33"/><circle cx="340.5" cy="203.7" r="0.33"/><circle cx="353.7" cy="197.7" r="0.33"/><circle cx="356.9" cy="194.7" r="0.33"/><circle cx="339.5" cy="204.9" r="0.33"/><circle cx="342.0" cy="208.8" r="0.33"/><circle cx="349.3" cy="204.2" r="0.33"/><circle cx="344.2" cy="196.7" r="0.33"/><circle cx="340.6" cy="201.2" r="0.33"/><circle cx="343.4" cy="195.5" r="0.33"/><circle cx="338.5" cy="203.8" r="0.33"/><circle cx="340.6" cy="206.4" r="0.33"/><circle cx="353.8" cy="193.2" r="0.33"/><circle cx="335.4" cy="211.2" r="0.33"/><circle cx="352.1" cy="201.0" r="0.33"/><circle cx="354.5" cy="209.6" r="0.33"/><circle cx="352.6" cy="197.0" r="0.33"/><circle cx="347.9" cy="190.9" r="0.33"/><circle cx="341.1" cy="201.3" r="0.33"/><circle cx="352.6" cy="208.5" r="0.33"/><circle cx="348.4" cy="212.6" r="0.33"/><circle cx="344.5" cy="215.2" r="0.33"/><circle cx="331.7" cy="210.8" r="0.33"/><circle cx="351.2" cy="197.0" r="0.33"/><circle cx="346.2" cy="202.6" r="0.33"/><circle cx="345.8" cy="201.7" r="0.33"/><circle cx="338.2" cy="208.5" r="0.33"/><circle cx="342.7" cy="199.4" r="0.33"/><circle cx="355.0" cy="207.3" r="0.33"/><circle cx="333.2" cy="211.6" r="0.33"/><circle cx="343.7" cy="205.3" r="0.33"/><circle cx="343.2" cy="200.2" r="0.33"/><circle cx="345.2" cy="203.7" r="0.33"/><circle cx="350.7" cy="209.9" r="0.33"/><circle cx="340.6" cy="197.1" r="0.33"/><circle cx="338.0" cy="215.4" r="0.33"/><circle cx="340.9" cy="203.3" r="0.33"/><circle cx="335.8" cy="210.7" r="0.33"/><circle cx="342.2" cy="201.5" r="0.33"/><circle cx="346.6" cy="209.0" r="0.33"/><circle cx="352.3" cy="200.7" r="0.33"/><circle cx="339.2" cy="199.4" r="0.33"/><circle cx="355.9" cy="204.4" r="0.33"/><circle cx="357.7" cy="200.0" r="0.33"/><circle cx="348.5" cy="203.2" r="0.33"/><circle cx="350.1" cy="208.3" r="0.33"/><circle cx="351.9" cy="213.3" r="0.33"/><circle cx="349.0" cy="197.5" r="0.33"/><circle cx="339.3" cy="197.4" r="0.33"/><circle cx="339.7" cy="206.9" r="0.33"/><circle cx="357.5" cy="185.3" r="0.33"/><circle cx="351.4" cy="198.1" r="0.33"/><circle cx="345.9" cy="207.7" r="0.33"/><circle cx="336.7" cy="219.4" r="0.33"/><circle cx="358.5" cy="192.7" r="0.33"/><circle cx="345.6" cy="204.5" r="0.33"/><circle cx="347.6" cy="197.5" r="0.33"/><circle cx="348.1" cy="204.7" r="0.33"/><circle cx="344.7" cy="207.1" r="0.33"/><circle cx="350.2" cy="204.2" r="0.33"/><circle cx="337.3" cy="207.6" r="0.33"/><circle cx="347.3" cy="210.7" r="0.33"/><circle cx="340.7" cy="195.7" r="0.33"/><circle cx="344.9" cy="218.8" r="0.33"/><circle cx="342.6" cy="196.5" r="0.33"/><circle cx="340.3" cy="209.7" r="0.33"/><circle cx="360.4" cy="200.8" r="0.33"/><circle cx="342.0" cy="204.6" r="0.33"/><circle cx="353.5" cy="187.9" r="0.33"/><circle cx="356.4" cy="195.1" r="0.33"/><circle cx="350.9" cy="207.8" r="0.33"/><circle cx="345.2" cy="197.3" r="0.33"/><circle cx="336.0" cy="213.0" r="0.33"/><circle cx="353.8" cy="205.5" r="0.33"/><circle cx="334.4" cy="224.7" r="0.33"/><circle cx="355.0" cy="205.4" r="0.33"/><circle cx="351.1" cy="199.4" r="0.33"/><circle cx="349.6" cy="202.3" r="0.33"/><circle cx="341.1" cy="206.9" r="0.33"/><circle cx="344.5" cy="201.0" r="0.33"/><circle cx="330.9" cy="207.1" r="0.33"/><circle cx="350.5" cy="202.4" r="0.33"/><circle cx="341.6" cy="198.4" r="0.33"/><circle cx="349.2" cy="196.8" r="0.33"/><circle cx="338.5" cy="222.3" r="0.33"/><circle cx="344.8" cy="221.3" r="0.33"/><circle cx="347.0" cy="198.5" r="0.33"/><circle cx="328.2" cy="215.4" r="0.33"/><circle cx="359.7" cy="199.5" r="0.33"/><circle cx="340.5" cy="195.4" r="0.33"/><circle cx="342.0" cy="204.8" r="0.33"/><circle cx="347.8" cy="200.2" r="0.33"/><circle cx="341.3" cy="195.2" r="0.33"/><circle cx="346.9" cy="213.0" r="0.33"/><circle cx="339.9" cy="216.0" r="0.33"/><circle cx="362.1" cy="191.7" r="0.33"/><circle cx="341.6" cy="216.8" r="0.33"/><circle cx="335.2" cy="216.2" r="0.33"/><circle cx="347.6" cy="210.7" r="0.33"/><circle cx="353.4" cy="196.9" r="0.33"/><circle cx="360.2" cy="196.2" r="0.33"/><circle cx="338.7" cy="202.7" r="0.33"/><circle cx="359.1" cy="186.7" r="0.33"/><circle cx="347.5" cy="200.5" r="0.33"/><circle cx="336.4" cy="200.3" r="0.33"/><circle cx="344.1" cy="204.0" r="0.33"/><circle cx="349.5" cy="195.5" r="0.33"/><circle cx="331.6" cy="209.1" r="0.33"/><circle cx="346.1" cy="204.7" r="0.33"/><circle cx="348.4" cy="197.6" r="0.33"/><circle cx="349.3" cy="200.7" r="0.33"/><circle cx="355.6" cy="192.9" r="0.33"/><circle cx="348.5" cy="204.8" r="0.33"/><circle cx="349.4" cy="192.5" r="0.33"/><circle cx="341.4" cy="205.4" r="0.33"/><circle cx="337.2" cy="221.6" r="0.33"/><circle cx="352.1" cy="197.0" r="0.33"/><circle cx="371.1" cy="187.5" r="0.33"/><circle cx="363.9" cy="197.0" r="0.33"/><circle cx="345.6" cy="192.5" r="0.33"/><circle cx="356.5" cy="195.6" r="0.33"/><circle cx="338.2" cy="211.1" r="0.33"/><circle cx="353.8" cy="202.6" r="0.33"/><circle cx="344.5" cy="200.4" r="0.33"/><circle cx="347.2" cy="195.9" r="0.33"/><circle cx="347.8" cy="206.9" r="0.33"/><circle cx="337.9" cy="213.8" r="0.33"/><circle cx="329.8" cy="212.1" r="0.33"/><circle cx="337.4" cy="210.8" r="0.33"/><circle cx="349.6" cy="198.9" r="0.33"/><circle cx="351.4" cy="198.2" r="0.33"/><circle cx="346.0" cy="206.6" r="0.33"/><circle cx="344.4" cy="205.5" r="0.33"/><circle cx="349.7" cy="194.9" r="0.33"/><circle cx="348.3" cy="192.2" r="0.33"/><circle cx="337.4" cy="198.2" r="0.33"/><circle cx="348.2" cy="212.8" r="0.33"/><circle cx="352.5" cy="206.1" r="0.33"/><circle cx="332.5" cy="208.7" r="0.33"/><circle cx="351.4" cy="203.8" r="0.33"/><circle cx="344.2" cy="191.9" r="0.33"/><circle cx="348.3" cy="200.1" r="0.33"/><circle cx="348.0" cy="204.6" r="0.33"/><circle cx="337.2" cy="198.8" r="0.33"/><circle cx="333.3" cy="204.6" r="0.33"/><circle cx="336.8" cy="211.1" r="0.33"/><circle cx="350.8" cy="192.7" r="0.33"/><circle cx="336.3" cy="203.8" r="0.33"/><circle cx="335.0" cy="214.4" r="0.33"/><circle cx="341.5" cy="205.6" r="0.33"/><circle cx="341.3" cy="211.3" r="0.33"/><circle cx="340.1" cy="213.0" r="0.33"/><circle cx="344.3" cy="210.6" r="0.33"/><circle cx="341.6" cy="210.7" r="0.33"/><circle cx="347.8" cy="200.5" r="0.33"/><circle cx="356.2" cy="194.1" r="0.33"/><circle cx="342.5" cy="211.6" r="0.33"/><circle cx="338.2" cy="206.5" r="0.33"/><circle cx="346.2" cy="204.1" r="0.33"/><circle cx="349.3" cy="186.3" r="0.33"/><circle cx="348.1" cy="209.4" r="0.33"/><circle cx="345.6" cy="205.7" r="0.33"/><circle cx="350.2" cy="189.3" r="0.33"/><circle cx="348.7" cy="206.3" r="0.33"/><circle cx="335.1" cy="200.4" r="0.33"/><circle cx="340.0" cy="210.4" r="0.33"/><circle cx="353.6" cy="209.4" r="0.33"/><circle cx="347.7" cy="189.4" r="0.33"/><circle cx="355.3" cy="200.6" r="0.33"/><circle cx="354.9" cy="192.9" r="0.33"/><circle cx="342.5" cy="207.5" r="0.33"/><circle cx="357.4" cy="196.3" r="0.33"/><circle cx="358.9" cy="196.0" r="0.33"/><circle cx="337.9" cy="203.3" r="0.33"/><circle cx="351.1" cy="186.2" r="0.33"/><circle cx="342.0" cy="204.5" r="0.33"/><circle cx="337.6" cy="207.0" r="0.33"/><circle cx="354.5" cy="212.6" r="0.33"/><circle cx="343.0" cy="201.9" r="0.33"/><circle cx="349.8" cy="206.3" r="0.33"/><circle cx="338.8" cy="207.0" r="0.33"/><circle cx="337.3" cy="217.0" r="0.33"/><circle cx="355.4" cy="205.0" r="0.33"/><circle cx="346.3" cy="219.3" r="0.33"/><circle cx="349.8" cy="197.0" r="0.33"/><circle cx="341.8" cy="204.7" r="0.33"/><circle cx="340.8" cy="214.0" r="0.33"/><circle cx="338.9" cy="204.5" r="0.33"/><circle cx="349.0" cy="200.7" r="0.33"/><circle cx="340.9" cy="206.2" r="0.33"/><circle cx="347.5" cy="211.7" r="0.33"/><circle cx="348.8" cy="194.5" r="0.33"/><circle cx="350.4" cy="209.0" r="0.33"/><circle cx="350.4" cy="212.1" r="0.33"/><circle cx="350.7" cy="203.3" r="0.33"/><circle cx="335.8" cy="219.6" r="0.33"/><circle cx="349.7" cy="203.6" r="0.33"/><circle cx="350.4" cy="202.5" r="0.33"/><circle cx="345.7" cy="210.1" r="0.33"/><circle cx="341.8" cy="199.1" r="0.33"/><circle cx="339.7" cy="210.4" r="0.33"/><circle cx="339.0" cy="193.0" r="0.33"/><circle cx="336.6" cy="220.3" r="0.33"/><circle cx="356.3" cy="214.5" r="0.33"/><circle cx="334.9" cy="212.1" r="0.33"/><circle cx="343.8" cy="209.4" r="0.33"/><circle cx="360.3" cy="200.9" r="0.33"/><circle cx="343.9" cy="214.5" r="0.33"/><circle cx="339.0" cy="212.2" r="0.33"/><circle cx="348.8" cy="204.8" r="0.33"/><circle cx="345.6" cy="213.6" r="0.33"/><circle cx="344.9" cy="203.8" r="0.33"/><circle cx="339.7" cy="201.1" r="0.33"/><circle cx="351.2" cy="200.3" r="0.33"/><circle cx="355.4" cy="207.8" r="0.33"/><circle cx="338.9" cy="207.8" r="0.33"/><circle cx="348.7" cy="206.7" r="0.33"/><circle cx="347.9" cy="208.2" r="0.33"/><circle cx="341.5" cy="193.9" r="0.33"/><circle cx="333.4" cy="199.9" r="0.33"/><circle cx="342.0" cy="203.7" r="0.33"/><circle cx="349.7" cy="200.5" r="0.33"/><circle cx="349.9" cy="208.7" r="0.33"/><circle cx="344.4" cy="195.1" r="0.33"/><circle cx="342.4" cy="209.0" r="0.33"/><circle cx="355.2" cy="192.2" r="0.33"/><circle cx="345.4" cy="205.6" r="0.33"/><circle cx="349.9" cy="198.3" r="0.33"/><circle cx="345.6" cy="200.1" r="0.33"/><circle cx="338.9" cy="203.9" r="0.33"/><circle cx="347.4" cy="197.3" r="0.33"/><circle cx="350.4" cy="201.6" r="0.33"/><circle cx="341.1" cy="187.1" r="0.33"/><circle cx="334.7" cy="204.8" r="0.33"/><circle cx="347.5" cy="207.6" r="0.33"/><circle cx="367.1" cy="193.7" r="0.33"/><circle cx="355.3" cy="196.5" r="0.33"/><circle cx="345.1" cy="208.0" r="0.33"/><circle cx="335.4" cy="220.6" r="0.33"/><circle cx="347.8" cy="205.8" r="0.33"/><circle cx="334.8" cy="205.7" r="0.33"/><circle cx="341.2" cy="207.3" r="0.33"/><circle cx="346.2" cy="200.0" r="0.33"/><circle cx="350.2" cy="203.9" r="0.33"/><circle cx="337.8" cy="210.3" r="0.33"/><circle cx="333.6" cy="211.1" r="0.33"/><circle cx="348.3" cy="195.1" r="0.33"/><circle cx="358.9" cy="193.9" r="0.33"/><circle cx="351.3" cy="198.4" r="0.33"/><circle cx="355.0" cy="202.3" r="0.33"/><circle cx="344.0" cy="200.8" r="0.33"/><circle cx="349.4" cy="214.3" r="0.33"/><circle cx="342.5" cy="202.9" r="0.33"/><circle cx="334.5" cy="201.4" r="0.33"/><circle cx="343.5" cy="207.9" r="0.33"/><circle cx="339.5" cy="203.6" r="0.33"/><circle cx="349.7" cy="202.7" r="0.33"/><circle cx="343.9" cy="207.4" r="0.33"/><circle cx="342.7" cy="212.9" r="0.33"/><circle cx="338.0" cy="208.3" r="0.33"/><circle cx="344.6" cy="201.0" r="0.33"/><circle cx="346.4" cy="218.7" r="0.33"/><circle cx="348.1" cy="187.4" r="0.33"/><circle cx="341.3" cy="197.9" r="0.33"/><circle cx="342.3" cy="196.5" r="0.33"/><circle cx="351.1" cy="201.9" r="0.33"/><circle cx="360.7" cy="197.5" r="0.33"/><circle cx="346.2" cy="210.0" r="0.33"/><circle cx="342.1" cy="205.9" r="0.33"/><circle cx="335.5" cy="199.8" r="0.33"/><circle cx="341.3" cy="191.9" r="0.33"/><circle cx="346.0" cy="207.0" r="0.33"/><circle cx="340.0" cy="196.7" r="0.33"/><circle cx="344.0" cy="210.2" r="0.33"/><circle cx="358.4" cy="202.8" r="0.33"/><circle cx="335.9" cy="216.6" r="0.33"/><circle cx="345.4" cy="209.4" r="0.33"/><circle cx="334.4" cy="213.4" r="0.33"/><circle cx="347.3" cy="196.6" r="0.33"/><circle cx="339.4" cy="202.0" r="0.33"/><circle cx="347.2" cy="191.5" r="0.33"/><circle cx="338.4" cy="207.9" r="0.33"/><circle cx="351.6" cy="213.6" r="0.33"/><circle cx="343.9" cy="198.6" r="0.33"/><circle cx="350.3" cy="201.2" r="0.33"/><circle cx="346.9" cy="201.5" r="0.33"/><circle cx="343.8" cy="196.1" r="0.33"/><circle cx="336.3" cy="209.3" r="0.33"/><circle cx="341.2" cy="213.1" r="0.33"/><circle cx="362.2" cy="196.2" r="0.33"/><circle cx="349.5" cy="202.0" r="0.33"/><circle cx="336.1" cy="202.8" r="0.33"/><circle cx="343.1" cy="194.4" r="0.33"/><circle cx="346.7" cy="201.1" r="0.33"/><circle cx="350.3" cy="199.0" r="0.33"/><circle cx="343.8" cy="200.6" r="0.33"/><circle cx="333.4" cy="212.9" r="0.33"/><circle cx="353.8" cy="203.2" r="0.33"/><circle cx="350.1" cy="191.1" r="0.33"/><circle cx="342.3" cy="212.0" r="0.33"/><circle cx="352.5" cy="216.2" r="0.33"/><circle cx="341.5" cy="195.7" r="0.33"/><circle cx="348.0" cy="213.0" r="0.33"/><circle cx="334.6" cy="215.4" r="0.33"/><circle cx="343.0" cy="218.3" r="0.33"/><circle cx="338.6" cy="202.3" r="0.33"/><circle cx="332.0" cy="211.4" r="0.33"/><circle cx="327.7" cy="217.6" r="0.33"/><circle cx="359.3" cy="190.3" r="0.33"/><circle cx="339.3" cy="200.7" r="0.33"/><circle cx="345.7" cy="199.6" r="0.33"/><circle cx="345.5" cy="214.1" r="0.33"/><circle cx="344.7" cy="197.3" r="0.33"/><circle cx="354.4" cy="194.1" r="0.33"/><circle cx="349.1" cy="200.9" r="0.33"/><circle cx="355.1" cy="198.5" r="0.33"/><circle cx="346.0" cy="208.4" r="0.33"/><circle cx="343.5" cy="206.4" r="0.33"/><circle cx="351.5" cy="189.2" r="0.33"/><circle cx="337.4" cy="208.4" r="0.33"/><circle cx="347.3" cy="211.6" r="0.33"/><circle cx="344.3" cy="222.3" r="0.33"/><circle cx="353.5" cy="191.9" r="0.33"/><circle cx="345.2" cy="201.0" r="0.33"/><circle cx="352.1" cy="201.9" r="0.33"/><circle cx="353.0" cy="201.8" r="0.33"/><circle cx="356.8" cy="190.8" r="0.33"/><circle cx="349.0" cy="198.4" r="0.33"/><circle cx="346.5" cy="204.1" r="0.33"/><circle cx="346.4" cy="205.2" r="0.33"/><circle cx="339.5" cy="208.2" r="0.33"/><circle cx="337.1" cy="202.8" r="0.33"/><circle cx="339.1" cy="206.0" r="0.33"/><circle cx="338.4" cy="198.4" r="0.33"/><circle cx="339.4" cy="200.7" r="0.33"/><circle cx="341.0" cy="209.3" r="0.33"/><circle cx="353.4" cy="197.7" r="0.33"/><circle cx="340.7" cy="204.8" r="0.33"/><circle cx="347.5" cy="188.9" r="0.33"/><circle cx="346.7" cy="190.6" r="0.33"/><circle cx="341.6" cy="207.6" r="0.33"/><circle cx="350.4" cy="211.3" r="0.33"/><circle cx="348.3" cy="200.2" r="0.33"/><circle cx="351.5" cy="197.7" r="0.33"/><circle cx="344.7" cy="212.9" r="0.33"/><circle cx="359.7" cy="199.1" r="0.33"/><circle cx="345.5" cy="218.2" r="0.33"/><circle cx="345.8" cy="209.1" r="0.33"/><circle cx="362.0" cy="205.3" r="0.33"/><circle cx="331.4" cy="209.6" r="0.33"/><circle cx="354.7" cy="198.1" r="0.33"/><circle cx="332.1" cy="194.1" r="0.33"/><circle cx="347.4" cy="200.0" r="0.33"/><circle cx="339.5" cy="230.1" r="0.33"/><circle cx="327.7" cy="216.9" r="0.33"/><circle cx="346.3" cy="204.4" r="0.33"/><circle cx="349.1" cy="197.8" r="0.33"/><circle cx="338.4" cy="207.7" r="0.33"/><circle cx="328.0" cy="212.3" r="0.33"/><circle cx="355.1" cy="188.5" r="0.33"/><circle cx="352.2" cy="211.3" r="0.33"/><circle cx="352.4" cy="197.4" r="0.33"/><circle cx="348.9" cy="197.9" r="0.33"/><circle cx="343.6" cy="213.0" r="0.33"/><circle cx="352.4" cy="208.9" r="0.33"/><circle cx="342.3" cy="203.7" r="0.33"/><circle cx="346.8" cy="200.6" r="0.33"/><circle cx="340.0" cy="202.0" r="0.33"/><circle cx="348.2" cy="203.2" r="0.33"/><circle cx="356.7" cy="192.0" r="0.33"/><circle cx="336.3" cy="216.2" r="0.33"/><circle cx="358.0" cy="187.5" r="0.33"/><circle cx="339.8" cy="207.9" r="0.33"/><circle cx="326.3" cy="220.0" r="0.33"/><circle cx="338.4" cy="198.8" r="0.33"/><circle cx="345.6" cy="196.5" r="0.33"/><circle cx="331.1" cy="212.2" r="0.33"/><circle cx="356.8" cy="207.0" r="0.33"/><circle cx="354.0" cy="196.5" r="0.33"/><circle cx="341.2" cy="205.7" r="0.33"/><circle cx="349.4" cy="195.5" r="0.33"/><circle cx="351.7" cy="204.6" r="0.33"/><circle cx="337.5" cy="206.9" r="0.33"/><circle cx="348.2" cy="200.7" r="0.33"/><circle cx="342.6" cy="202.2" r="0.33"/><circle cx="352.2" cy="211.1" r="0.33"/><circle cx="347.6" cy="188.8" r="0.33"/><circle cx="346.1" cy="203.6" r="0.33"/><circle cx="340.3" cy="197.9" r="0.33"/><circle cx="345.2" cy="204.9" r="0.33"/><circle cx="342.4" cy="209.0" r="0.33"/><circle cx="324.3" cy="212.9" r="0.33"/><circle cx="347.5" cy="204.4" r="0.33"/><circle cx="342.6" cy="202.8" r="0.33"/><circle cx="350.8" cy="206.5" r="0.33"/><circle cx="350.7" cy="197.6" r="0.33"/><circle cx="346.6" cy="210.5" r="0.33"/><circle cx="352.2" cy="203.5" r="0.33"/><circle cx="340.3" cy="201.9" r="0.33"/><circle cx="344.1" cy="199.9" r="0.33"/><circle cx="355.9" cy="199.6" r="0.33"/><circle cx="334.4" cy="219.7" r="0.33"/><circle cx="357.7" cy="199.2" r="0.33"/><circle cx="339.1" cy="203.1" r="0.33"/><circle cx="355.4" cy="201.4" r="0.33"/><circle cx="341.3" cy="198.7" r="0.33"/><circle cx="336.9" cy="214.1" r="0.33"/><circle cx="337.6" cy="206.0" r="0.33"/><circle cx="352.2" cy="204.8" r="0.33"/><circle cx="329.9" cy="213.8" r="0.33"/><circle cx="353.3" cy="195.2" r="0.33"/><circle cx="345.7" cy="208.1" r="0.33"/><circle cx="333.5" cy="205.9" r="0.33"/><circle cx="351.6" cy="209.4" r="0.33"/><circle cx="351.7" cy="197.1" r="0.33"/><circle cx="350.1" cy="195.6" r="0.33"/><circle cx="331.5" cy="204.4" r="0.33"/><circle cx="350.6" cy="205.3" r="0.33"/><circle cx="347.6" cy="201.0" r="0.33"/><circle cx="347.1" cy="210.2" r="0.33"/><circle cx="339.5" cy="198.2" r="0.33"/><circle cx="351.5" cy="192.4" r="0.33"/><circle cx="347.9" cy="201.1" r="0.33"/><circle cx="352.9" cy="197.9" r="0.33"/><circle cx="353.9" cy="196.7" r="0.33"/><circle cx="340.6" cy="204.4" r="0.33"/><circle cx="346.3" cy="196.2" r="0.33"/><circle cx="350.3" cy="196.8" r="0.33"/><circle cx="336.2" cy="205.9" r="0.33"/><circle cx="351.4" cy="211.3" r="0.33"/><circle cx="350.3" cy="198.8" r="0.33"/><circle cx="347.1" cy="216.6" r="0.33"/><circle cx="343.7" cy="205.2" r="0.33"/><circle cx="347.9" cy="211.3" r="0.33"/><circle cx="344.7" cy="200.6" r="0.33"/><circle cx="342.7" cy="198.5" r="0.33"/><circle cx="338.2" cy="209.5" r="0.33"/><circle cx="332.0" cy="226.0" r="0.33"/><circle cx="353.5" cy="186.8" r="0.33"/><circle cx="338.4" cy="198.3" r="0.33"/><circle cx="347.3" cy="203.2" r="0.33"/><circle cx="344.9" cy="193.7" r="0.33"/><circle cx="339.1" cy="204.7" r="0.33"/><circle cx="352.7" cy="213.9" r="0.33"/><circle cx="344.0" cy="204.6" r="0.33"/><circle cx="345.3" cy="209.8" r="0.33"/><circle cx="365.9" cy="192.0" r="0.33"/><circle cx="350.8" cy="189.8" r="0.33"/><circle cx="352.1" cy="197.0" r="0.33"/><circle cx="357.3" cy="199.8" r="0.33"/><circle cx="343.0" cy="192.9" r="0.33"/><circle cx="344.3" cy="200.7" r="0.33"/><circle cx="348.3" cy="200.8" r="0.33"/><circle cx="345.7" cy="190.7" r="0.33"/><circle cx="340.5" cy="207.8" r="0.33"/><circle cx="345.8" cy="199.9" r="0.33"/><circle cx="345.4" cy="203.9" r="0.33"/><circle cx="351.5" cy="196.5" r="0.33"/><circle cx="339.9" cy="194.9" r="0.33"/><circle cx="323.3" cy="214.2" r="0.33"/><circle cx="338.7" cy="192.3" r="0.33"/><circle cx="347.6" cy="200.6" r="0.33"/><circle cx="342.6" cy="200.6" r="0.33"/><circle cx="346.0" cy="209.4" r="0.33"/><circle cx="347.5" cy="201.2" r="0.33"/><circle cx="343.2" cy="207.4" r="0.33"/><circle cx="352.8" cy="196.0" r="0.33"/><circle cx="338.5" cy="201.2" r="0.33"/><circle cx="342.5" cy="199.3" r="0.33"/><circle cx="339.8" cy="215.9" r="0.33"/><circle cx="333.6" cy="199.5" r="0.33"/><circle cx="348.1" cy="215.2" r="0.33"/><circle cx="339.6" cy="199.0" r="0.33"/><circle cx="341.3" cy="213.2" r="0.33"/><circle cx="348.8" cy="201.8" r="0.33"/><circle cx="346.1" cy="206.6" r="0.33"/><circle cx="356.9" cy="195.8" r="0.33"/><circle cx="338.9" cy="199.1" r="0.33"/><circle cx="354.3" cy="206.8" r="0.33"/><circle cx="344.6" cy="194.6" r="0.33"/><circle cx="351.6" cy="207.4" r="0.33"/><circle cx="343.3" cy="209.4" r="0.33"/><circle cx="359.3" cy="202.3" r="0.33"/><circle cx="328.6" cy="206.7" r="0.33"/><circle cx="350.5" cy="203.9" r="0.33"/><circle cx="343.1" cy="205.6" r="0.33"/><circle cx="347.5" cy="210.7" r="0.33"/><circle cx="332.5" cy="218.4" r="0.33"/><circle cx="334.7" cy="208.9" r="0.33"/><circle cx="332.3" cy="209.6" r="0.33"/><circle cx="345.4" cy="203.8" r="0.33"/><circle cx="355.7" cy="191.4" r="0.33"/><circle cx="348.9" cy="202.7" r="0.33"/><circle cx="352.7" cy="207.6" r="0.33"/><circle cx="346.9" cy="203.2" r="0.33"/><circle cx="344.7" cy="204.2" r="0.33"/><circle cx="348.9" cy="207.7" r="0.33"/><circle cx="345.8" cy="203.6" r="0.33"/><circle cx="348.1" cy="206.8" r="0.33"/><circle cx="346.1" cy="210.1" r="0.33"/><circle cx="344.5" cy="209.8" r="0.33"/><circle cx="358.3" cy="192.4" r="0.33"/><circle cx="340.3" cy="199.4" r="0.33"/><circle cx="350.1" cy="198.9" r="0.33"/><circle cx="348.5" cy="195.2" r="0.33"/><circle cx="355.7" cy="207.3" r="0.33"/><circle cx="346.6" cy="199.7" r="0.33"/><circle cx="337.2" cy="211.6" r="0.33"/><circle cx="351.9" cy="201.7" r="0.33"/><circle cx="334.4" cy="206.5" r="0.33"/><circle cx="335.3" cy="205.6" r="0.33"/><circle cx="344.7" cy="206.3" r="0.33"/><circle cx="358.2" cy="192.2" r="0.33"/><circle cx="348.1" cy="187.9" r="0.33"/><circle cx="358.2" cy="196.9" r="0.33"/><circle cx="351.4" cy="204.0" r="0.33"/><circle cx="356.7" cy="207.1" r="0.33"/><circle cx="343.7" cy="191.6" r="0.33"/><circle cx="340.7" cy="220.8" r="0.33"/><circle cx="350.0" cy="209.2" r="0.33"/><circle cx="340.7" cy="203.1" r="0.33"/><circle cx="344.5" cy="206.9" r="0.33"/><circle cx="344.2" cy="199.9" r="0.33"/><circle cx="351.2" cy="202.5" r="0.33"/><circle cx="335.3" cy="204.9" r="0.33"/><circle cx="331.9" cy="214.6" r="0.33"/><circle cx="342.8" cy="200.7" r="0.33"/><circle cx="341.1" cy="206.8" r="0.33"/><circle cx="347.8" cy="205.5" r="0.33"/><circle cx="352.3" cy="200.0" r="0.33"/><circle cx="348.6" cy="192.7" r="0.33"/><circle cx="350.7" cy="201.1" r="0.33"/><circle cx="336.2" cy="207.4" r="0.33"/><circle cx="348.5" cy="201.0" r="0.33"/><circle cx="335.3" cy="209.2" r="0.33"/><circle cx="358.3" cy="197.2" r="0.33"/><circle cx="351.2" cy="208.3" r="0.33"/><circle cx="339.0" cy="208.5" r="0.33"/><circle cx="350.1" cy="196.2" r="0.33"/><circle cx="340.7" cy="212.8" r="0.33"/><circle cx="345.5" cy="183.5" r="0.33"/><circle cx="341.5" cy="197.6" r="0.33"/><circle cx="338.0" cy="199.9" r="0.33"/><circle cx="359.1" cy="184.5" r="0.33"/><circle cx="342.9" cy="200.5" r="0.33"/><circle cx="337.4" cy="207.9" r="0.33"/><circle cx="353.6" cy="209.1" r="0.33"/><circle cx="353.3" cy="207.8" r="0.33"/><circle cx="339.0" cy="210.5" r="0.33"/><circle cx="336.5" cy="200.1" r="0.33"/><circle cx="367.9" cy="179.1" r="0.33"/><circle cx="344.0" cy="199.0" r="0.33"/><circle cx="337.7" cy="203.1" r="0.33"/><circle cx="350.3" cy="195.5" r="0.33"/><circle cx="345.2" cy="205.1" r="0.33"/><circle cx="338.6" cy="212.1" r="0.33"/><circle cx="346.1" cy="206.3" r="0.33"/><circle cx="343.1" cy="206.1" r="0.33"/><circle cx="352.4" cy="204.0" r="0.33"/><circle cx="344.9" cy="211.6" r="0.33"/><circle cx="338.5" cy="209.0" r="0.33"/><circle cx="346.8" cy="203.2" r="0.33"/><circle cx="325.9" cy="215.4" r="0.33"/><circle cx="347.9" cy="208.3" r="0.33"/><circle cx="346.9" cy="213.8" r="0.33"/><circle cx="334.4" cy="215.1" r="0.33"/><circle cx="348.9" cy="200.2" r="0.33"/><circle cx="350.7" cy="205.5" r="0.33"/><circle cx="342.6" cy="210.9" r="0.33"/><circle cx="351.2" cy="195.9" r="0.33"/><circle cx="326.2" cy="213.4" r="0.33"/><circle cx="335.9" cy="204.7" r="0.33"/><circle cx="345.0" cy="197.6" r="0.33"/><circle cx="363.2" cy="190.1" r="0.33"/><circle cx="336.1" cy="210.6" r="0.33"/><circle cx="357.7" cy="196.5" r="0.33"/><circle cx="343.0" cy="214.0" r="0.33"/><circle cx="351.1" cy="215.1" r="0.33"/><circle cx="344.3" cy="209.3" r="0.33"/><circle cx="347.2" cy="198.2" r="0.33"/><circle cx="349.0" cy="209.0" r="0.33"/><circle cx="348.3" cy="200.1" r="0.33"/><circle cx="355.0" cy="207.5" r="0.33"/><circle cx="353.1" cy="199.5" r="0.33"/><circle cx="341.4" cy="195.3" r="0.33"/><circle cx="344.3" cy="200.7" r="0.33"/><circle cx="347.6" cy="196.5" r="0.33"/><circle cx="344.1" cy="196.6" r="0.33"/><circle cx="348.2" cy="195.0" r="0.33"/><circle cx="347.5" cy="205.9" r="0.33"/><circle cx="343.4" cy="205.6" r="0.33"/><circle cx="359.0" cy="203.8" r="0.33"/><circle cx="330.5" cy="211.3" r="0.33"/><circle cx="353.3" cy="202.9" r="0.33"/><circle cx="342.8" cy="206.9" r="0.33"/><circle cx="353.1" cy="213.6" r="0.33"/><circle cx="339.5" cy="200.1" r="0.33"/><circle cx="330.6" cy="208.3" r="0.33"/><circle cx="352.1" cy="193.8" r="0.33"/><circle cx="360.2" cy="193.7" r="0.33"/><circle cx="350.3" cy="203.6" r="0.33"/><circle cx="354.0" cy="202.1" r="0.33"/><circle cx="337.1" cy="207.5" r="0.33"/><circle cx="342.4" cy="207.4" r="0.33"/><circle cx="339.0" cy="200.3" r="0.33"/><circle cx="348.0" cy="214.9" r="0.33"/><circle cx="355.4" cy="186.8" r="0.33"/><circle cx="347.7" cy="201.0" r="0.33"/><circle cx="342.9" cy="211.6" r="0.33"/><circle cx="351.5" cy="210.5" r="0.33"/><circle cx="347.1" cy="199.4" r="0.33"/><circle cx="328.4" cy="219.7" r="0.33"/><circle cx="347.9" cy="195.4" r="0.33"/><circle cx="353.6" cy="200.6" r="0.33"/><circle cx="333.5" cy="213.8" r="0.33"/><circle cx="350.4" cy="204.4" r="0.33"/><circle cx="346.3" cy="202.5" r="0.33"/><circle cx="342.1" cy="204.5" r="0.33"/><circle cx="341.3" cy="199.3" r="0.33"/><circle cx="348.2" cy="198.2" r="0.33"/><circle cx="346.7" cy="198.2" r="0.33"/><circle cx="348.5" cy="201.4" r="0.33"/><circle cx="352.8" cy="199.7" r="0.33"/><circle cx="350.6" cy="197.0" r="0.33"/><circle cx="344.0" cy="202.8" r="0.33"/><circle cx="337.0" cy="210.9" r="0.33"/><circle cx="355.3" cy="199.7" r="0.33"/><circle cx="341.2" cy="210.0" r="0.33"/><circle cx="344.8" cy="193.5" r="0.33"/><circle cx="348.9" cy="202.6" r="0.33"/><circle cx="351.1" cy="199.8" r="0.33"/><circle cx="326.6" cy="206.6" r="0.33"/><circle cx="356.3" cy="189.5" r="0.33"/><circle cx="358.3" cy="200.4" r="0.33"/><circle cx="341.5" cy="198.5" r="0.33"/><circle cx="353.9" cy="194.8" r="0.33"/><circle cx="350.5" cy="202.1" r="0.33"/><circle cx="355.4" cy="201.5" r="0.33"/><circle cx="331.0" cy="206.9" r="0.33"/><circle cx="346.3" cy="202.6" r="0.33"/><circle cx="349.8" cy="198.1" r="0.33"/><circle cx="352.2" cy="212.6" r="0.33"/><circle cx="358.6" cy="199.4" r="0.33"/><circle cx="348.8" cy="193.9" r="0.33"/><circle cx="344.6" cy="203.8" r="0.33"/><circle cx="335.1" cy="207.0" r="0.33"/><circle cx="341.7" cy="197.8" r="0.33"/><circle cx="350.7" cy="201.9" r="0.33"/><circle cx="342.6" cy="203.7" r="0.33"/><circle cx="351.1" cy="201.6" r="0.33"/><circle cx="342.9" cy="196.4" r="0.33"/><circle cx="343.2" cy="221.7" r="0.33"/><circle cx="339.9" cy="206.2" r="0.33"/><circle cx="330.8" cy="211.9" r="0.33"/><circle cx="343.9" cy="211.2" r="0.33"/><circle cx="323.3" cy="214.6" r="0.33"/><circle cx="340.9" cy="204.2" r="0.33"/><circle cx="338.8" cy="206.7" r="0.33"/><circle cx="336.5" cy="214.5" r="0.33"/><circle cx="353.5" cy="196.6" r="0.33"/><circle cx="347.0" cy="211.8" r="0.33"/><circle cx="344.5" cy="196.4" r="0.33"/><circle cx="339.4" cy="204.7" r="0.33"/><circle cx="349.8" cy="208.5" r="0.33"/><circle cx="340.4" cy="207.4" r="0.33"/><circle cx="341.5" cy="198.2" r="0.33"/><circle cx="344.8" cy="208.9" r="0.33"/><circle cx="345.2" cy="189.1" r="0.33"/><circle cx="348.7" cy="197.9" r="0.33"/><circle cx="355.9" cy="197.8" r="0.33"/><circle cx="359.0" cy="192.3" r="0.33"/><circle cx="339.7" cy="202.7" r="0.33"/><circle cx="338.6" cy="214.7" r="0.33"/><circle cx="351.8" cy="203.4" r="0.33"/><circle cx="341.8" cy="195.5" r="0.33"/><circle cx="341.9" cy="205.1" r="0.33"/><circle cx="349.4" cy="205.5" r="0.33"/><circle cx="355.4" cy="195.7" r="0.33"/><circle cx="328.5" cy="212.5" r="0.33"/><circle cx="329.0" cy="214.0" r="0.33"/><circle cx="338.8" cy="212.0" r="0.33"/><circle cx="348.3" cy="209.2" r="0.33"/><circle cx="350.4" cy="194.9" r="0.33"/><circle cx="351.4" cy="197.6" r="0.33"/><circle cx="353.5" cy="205.9" r="0.33"/><circle cx="337.9" cy="210.5" r="0.33"/><circle cx="352.1" cy="190.9" r="0.33"/><circle cx="347.3" cy="202.7" r="0.33"/><circle cx="337.7" cy="201.0" r="0.33"/><circle cx="337.3" cy="204.0" r="0.33"/><circle cx="353.2" cy="197.7" r="0.33"/><circle cx="345.2" cy="194.5" r="0.33"/><circle cx="349.1" cy="200.9" r="0.33"/><circle cx="349.2" cy="194.1" r="0.33"/><circle cx="355.8" cy="203.7" r="0.33"/><circle cx="353.1" cy="188.5" r="0.33"/><circle cx="332.7" cy="204.9" r="0.33"/><circle cx="353.8" cy="199.8" r="0.33"/><circle cx="344.2" cy="198.0" r="0.33"/><circle cx="359.5" cy="201.8" r="0.33"/><circle cx="344.7" cy="203.3" r="0.33"/><circle cx="354.9" cy="198.0" r="0.33"/><circle cx="352.3" cy="193.5" r="0.33"/><circle cx="346.2" cy="200.1" r="0.33"/><circle cx="340.7" cy="205.9" r="0.33"/><circle cx="345.6" cy="207.2" r="0.33"/><circle cx="343.8" cy="205.7" r="0.33"/><circle cx="335.6" cy="203.8" r="0.33"/><circle cx="350.6" cy="190.7" r="0.33"/><circle cx="360.5" cy="195.7" r="0.33"/><circle cx="328.5" cy="215.4" r="0.33"/><circle cx="342.9" cy="206.2" r="0.33"/><circle cx="341.9" cy="202.3" r="0.33"/><circle cx="352.8" cy="195.1" r="0.33"/><circle cx="348.8" cy="194.8" r="0.33"/><circle cx="346.2" cy="213.0" r="0.33"/><circle cx="339.4" cy="201.0" r="0.33"/><circle cx="348.4" cy="208.6" r="0.33"/><circle cx="341.6" cy="201.7" r="0.33"/><circle cx="353.2" cy="203.3" r="0.33"/><circle cx="342.9" cy="203.6" r="0.33"/><circle cx="353.6" cy="216.3" r="0.33"/><circle cx="351.0" cy="211.4" r="0.33"/><circle cx="346.1" cy="206.0" r="0.33"/><circle cx="333.3" cy="217.0" r="0.33"/><circle cx="344.5" cy="201.9" r="0.33"/><circle cx="337.6" cy="200.8" r="0.33"/><circle cx="336.7" cy="213.5" r="0.33"/><circle cx="341.0" cy="207.2" r="0.33"/><circle cx="342.3" cy="202.7" r="0.33"/><circle cx="348.0" cy="215.3" r="0.33"/><circle cx="336.5" cy="208.5" r="0.33"/><circle cx="339.1" cy="200.9" r="0.33"/><circle cx="342.7" cy="212.9" r="0.33"/><circle cx="351.8" cy="198.1" r="0.33"/><circle cx="369.0" cy="186.3" r="0.33"/><circle cx="350.0" cy="192.6" r="0.33"/><circle cx="358.7" cy="203.2" r="0.33"/><circle cx="350.0" cy="212.9" r="0.33"/><circle cx="336.0" cy="204.2" r="0.33"/><circle cx="342.0" cy="200.7" r="0.33"/><circle cx="345.1" cy="195.2" r="0.33"/><circle cx="338.4" cy="195.4" r="0.33"/><circle cx="349.3" cy="207.8" r="0.33"/><circle cx="345.0" cy="206.4" r="0.33"/><circle cx="348.0" cy="192.4" r="0.33"/><circle cx="337.7" cy="211.8" r="0.33"/><circle cx="346.1" cy="200.7" r="0.33"/><circle cx="344.0" cy="214.3" r="0.33"/><circle cx="337.1" cy="209.8" r="0.33"/><circle cx="348.0" cy="206.6" r="0.33"/><circle cx="339.4" cy="203.1" r="0.33"/><circle cx="354.8" cy="187.6" r="0.33"/><circle cx="349.8" cy="197.9" r="0.33"/><circle cx="342.3" cy="206.3" r="0.33"/></g>
<g fill="#8888c0" opacity="0.5"><circle cx="342.9" cy="208.4" r="0.3"/><circle cx="319.8" cy="226.9" r="0.3"/><circle cx="337.0" cy="196.6" r="0.3"/><circle cx="355.7" cy="223.6" r="0.3"/><circle cx="364.2" cy="191.6" r="0.3"/><circle cx="343.0" cy="199.8" r="0.3"/><circle cx="352.5" cy="188.3" r="0.3"/><circle cx="340.4" cy="216.2" r="0.3"/><circle cx="328.8" cy="207.3" r="0.3"/><circle cx="345.1" cy="179.7" r="0.3"/><circle cx="343.3" cy="205.4" r="0.3"/><circle cx="335.3" cy="191.6" r="0.3"/><circle cx="338.7" cy="203.7" r="0.3"/><circle cx="367.4" cy="193.5" r="0.3"/><circle cx="342.2" cy="216.9" r="0.3"/><circle cx="348.2" cy="197.3" r="0.3"/><circle cx="338.9" cy="204.3" r="0.3"/><circle cx="324.7" cy="213.6" r="0.3"/><circle cx="361.5" cy="205.4" r="0.3"/><circle cx="357.3" cy="184.5" r="0.3"/><circle cx="332.0" cy="181.8" r="0.3"/><circle cx="331.9" cy="197.7" r="0.3"/><circle cx="339.1" cy="185.1" r="0.3"/><circle cx="326.0" cy="205.8" r="0.3"/><circle cx="352.4" cy="206.2" r="0.3"/><circle cx="347.1" cy="224.8" r="0.3"/><circle cx="338.8" cy="196.8" r="0.3"/><circle cx="346.1" cy="200.7" r="0.3"/><circle cx="353.0" cy="198.8" r="0.3"/><circle cx="371.0" cy="192.2" r="0.3"/><circle cx="342.7" cy="215.2" r="0.3"/><circle cx="343.0" cy="190.2" r="0.3"/><circle cx="330.7" cy="205.2" r="0.3"/><circle cx="325.0" cy="230.8" r="0.3"/><circle cx="349.6" cy="214.4" r="0.3"/><circle cx="338.5" cy="209.5" r="0.3"/><circle cx="356.3" cy="204.1" r="0.3"/><circle cx="338.8" cy="193.9" r="0.3"/><circle cx="369.0" cy="190.0" r="0.3"/><circle cx="366.6" cy="202.8" r="0.3"/><circle cx="358.7" cy="194.1" r="0.3"/><circle cx="351.7" cy="204.0" r="0.3"/><circle cx="335.0" cy="223.2" r="0.3"/><circle cx="337.1" cy="215.7" r="0.3"/><circle cx="338.8" cy="218.1" r="0.3"/><circle cx="355.8" cy="225.5" r="0.3"/><circle cx="348.3" cy="205.7" r="0.3"/><circle cx="332.9" cy="210.2" r="0.3"/><circle cx="340.6" cy="202.5" r="0.3"/><circle cx="333.1" cy="201.9" r="0.3"/><circle cx="347.3" cy="194.4" r="0.3"/><circle cx="338.2" cy="213.9" r="0.3"/><circle cx="334.5" cy="210.1" r="0.3"/><circle cx="332.0" cy="202.2" r="0.3"/><circle cx="335.3" cy="200.3" r="0.3"/><circle cx="334.1" cy="217.7" r="0.3"/><circle cx="330.3" cy="196.5" r="0.3"/><circle cx="340.8" cy="208.8" r="0.3"/><circle cx="349.5" cy="202.6" r="0.3"/><circle cx="349.5" cy="205.8" r="0.3"/><circle cx="333.1" cy="202.9" r="0.3"/><circle cx="345.8" cy="195.6" r="0.3"/><circle cx="347.6" cy="208.3" r="0.3"/><circle cx="360.0" cy="203.9" r="0.3"/><circle cx="334.3" cy="207.6" r="0.3"/><circle cx="338.2" cy="189.0" r="0.3"/><circle cx="335.9" cy="219.5" r="0.3"/><circle cx="331.2" cy="203.1" r="0.3"/><circle cx="354.0" cy="200.3" r="0.3"/><circle cx="349.1" cy="193.3" r="0.3"/><circle cx="338.1" cy="204.2" r="0.3"/><circle cx="331.8" cy="187.3" r="0.3"/><circle cx="341.7" cy="215.1" r="0.3"/><circle cx="335.6" cy="210.6" r="0.3"/><circle cx="347.8" cy="206.4" r="0.3"/><circle cx="331.0" cy="200.4" r="0.3"/><circle cx="360.7" cy="176.4" r="0.3"/><circle cx="346.5" cy="176.4" r="0.3"/><circle cx="342.7" cy="201.6" r="0.3"/><circle cx="374.3" cy="200.8" r="0.3"/><circle cx="345.0" cy="188.1" r="0.3"/><circle cx="330.6" cy="206.0" r="0.3"/><circle cx="340.2" cy="210.4" r="0.3"/><circle cx="334.3" cy="209.3" r="0.3"/><circle cx="366.3" cy="200.5" r="0.3"/><circle cx="319.7" cy="214.2" r="0.3"/><circle cx="348.6" cy="216.2" r="0.3"/><circle cx="353.2" cy="220.0" r="0.3"/><circle cx="356.3" cy="210.5" r="0.3"/><circle cx="333.2" cy="209.6" r="0.3"/><circle cx="356.2" cy="198.6" r="0.3"/><circle cx="324.3" cy="218.9" r="0.3"/><circle cx="349.0" cy="206.6" r="0.3"/><circle cx="349.3" cy="221.6" r="0.3"/><circle cx="354.4" cy="212.5" r="0.3"/><circle cx="347.3" cy="200.9" r="0.3"/><circle cx="332.2" cy="198.8" r="0.3"/><circle cx="356.1" cy="201.3" r="0.3"/><circle cx="349.0" cy="192.9" r="0.3"/><circle cx="331.4" cy="210.4" r="0.3"/><circle cx="340.2" cy="206.7" r="0.3"/><circle cx="345.7" cy="188.8" r="0.3"/><circle cx="343.4" cy="213.0" r="0.3"/><circle cx="366.5" cy="210.9" r="0.3"/><circle cx="342.0" cy="193.4" r="0.3"/><circle cx="328.3" cy="207.9" r="0.3"/><circle cx="345.5" cy="205.0" r="0.3"/><circle cx="338.3" cy="200.3" r="0.3"/><circle cx="340.9" cy="205.0" r="0.3"/><circle cx="349.0" cy="199.1" r="0.3"/><circle cx="327.8" cy="203.2" r="0.3"/><circle cx="355.9" cy="189.9" r="0.3"/><circle cx="341.4" cy="205.3" r="0.3"/><circle cx="351.1" cy="191.6" r="0.3"/><circle cx="343.1" cy="200.7" r="0.3"/><circle cx="341.4" cy="191.8" r="0.3"/><circle cx="352.0" cy="209.1" r="0.3"/><circle cx="358.0" cy="197.4" r="0.3"/><circle cx="356.6" cy="212.0" r="0.3"/><circle cx="359.1" cy="207.1" r="0.3"/><circle cx="324.8" cy="207.2" r="0.3"/><circle cx="348.5" cy="194.9" r="0.3"/><circle cx="332.7" cy="201.3" r="0.3"/><circle cx="348.3" cy="182.3" r="0.3"/><circle cx="334.5" cy="193.4" r="0.3"/><circle cx="356.9" cy="220.9" r="0.3"/><circle cx="361.7" cy="178.6" r="0.3"/><circle cx="345.2" cy="224.2" r="0.3"/><circle cx="323.2" cy="199.4" r="0.3"/><circle cx="338.9" cy="193.4" r="0.3"/><circle cx="337.8" cy="224.7" r="0.3"/><circle cx="329.3" cy="203.2" r="0.3"/><circle cx="343.4" cy="201.1" r="0.3"/><circle cx="353.9" cy="194.4" r="0.3"/><circle cx="365.3" cy="197.3" r="0.3"/><circle cx="366.9" cy="195.5" r="0.3"/><circle cx="347.5" cy="207.0" r="0.3"/><circle cx="332.7" cy="193.0" r="0.3"/><circle cx="337.6" cy="219.6" r="0.3"/><circle cx="316.2" cy="219.5" r="0.3"/><circle cx="331.1" cy="215.0" r="0.3"/><circle cx="335.5" cy="214.9" r="0.3"/><circle cx="338.2" cy="202.4" r="0.3"/><circle cx="320.3" cy="196.3" r="0.3"/><circle cx="335.0" cy="194.4" r="0.3"/><circle cx="343.0" cy="209.1" r="0.3"/><circle cx="357.4" cy="199.3" r="0.3"/><circle cx="346.7" cy="180.9" r="0.3"/><circle cx="360.0" cy="208.5" r="0.3"/><circle cx="339.1" cy="192.7" r="0.3"/></g>
</g>
<ellipse cx="345.2" cy="203.9" rx="20.6" ry="11.4" transform="rotate(-44 345.2 203.9)" fill="none" stroke="#555" stroke-width="0.85"/>
<line x1="315.4" y1="185.4" x2="363.4" y2="185.4" stroke="#b4b4b4" stroke-width="0.7" />
<line x1="363.4" y1="185.4" x2="363.4" y2="231.9" stroke="#b4b4b4" stroke-width="0.7" />
<line x1="315.4" y1="185.05" x2="315.4" y2="231.9" stroke="#8c8c8c" stroke-width="0.9" />
<line x1="314.95" y1="231.9" x2="363.75" y2="231.9" stroke="#555" stroke-width="0.9" />
<line x1="313.5" y1="239.5" x2="372.4" y2="239.5" stroke="#444" stroke-width="1.1" />
<path d="M366.79999999999995,236.6 L372.4,239.5 L366.79999999999995,242.4" fill="none" stroke="#444" stroke-width="1.1"/>
<line x1="314.6" y1="185.4" x2="314.6" y2="232.2" stroke="#555" stroke-width="0.9" />
<rect x="115.6" y="208.3" width="5.7" height="5.6" fill="#9c9cd0" stroke="none" stroke-width="1" />
<rect x="115.6" y="216.4" width="5.7" height="5.6" fill="#eeee70" stroke="none" stroke-width="1" />
<text x="124.4" y="213.9" font-size="6.8" font-weight="bold" text-anchor="start" fill="#000" >CD116<tspan font-size="3.8" dy="-2.4">high</tspan></text>
<text x="124.4" y="222.0" font-size="6.8" font-weight="bold" text-anchor="start" fill="#000" >CD116<tspan font-size="3.8" dy="-2.4">low</tspan></text>
<line x1="115.6" y1="228" x2="135.6" y2="228" stroke="#000" stroke-width="1.4" stroke-dasharray="1.4,1.1"/>
<line x1="115.6" y1="235.8" x2="134.6" y2="235.8" stroke="#000" stroke-width="1.4" />
<text x="139.3" y="231.0" font-size="6.8" font-weight="bold" text-anchor="start" fill="#000" >treated</text>
<text x="139.3" y="239.0" font-size="6.8" font-weight="bold" text-anchor="start" fill="#000" >untreated</text>
<text x="0" y="0" font-size="12.4" font-weight="normal" text-anchor="start" fill="#000" stroke="#000" stroke-width="0.55" transform="translate(382.2,9.9) scale(1.13,1)">C</text>
<text x="460" y="18.1" font-size="5.7" font-weight="bold" text-anchor="middle" fill="#000" >+ IM [4μM]</text>
<line x1="416.3" y1="23.8" x2="416.3" y2="85.7" stroke="#000" stroke-width="1.1" />
<line x1="414.6" y1="85.2" x2="416.3" y2="85.2" stroke="#000" stroke-width="0.7" />
<text x="412.4" y="86.95" font-size="4.9" font-weight="bold" text-anchor="end" fill="#222" >0</text>
<line x1="414.6" y1="80.10833333333333" x2="416.3" y2="80.10833333333333" stroke="#000" stroke-width="0.7" />
<text x="412.4" y="81.85833333333333" font-size="4.9" font-weight="bold" text-anchor="end" fill="#222" >1</text>
<line x1="414.6" y1="75.01666666666667" x2="416.3" y2="75.01666666666667" stroke="#000" stroke-width="0.7" />
<text x="412.4" y="76.76666666666667" font-size="4.9" font-weight="bold" text-anchor="end" fill="#222" >2</text>
<line x1="414.6" y1="69.925" x2="416.3" y2="69.925" stroke="#000" stroke-width="0.7" />
<text x="412.4" y="71.675" font-size="4.9" font-weight="bold" text-anchor="end" fill="#222" >3</text>
<line x1="414.6" y1="64.83333333333334" x2="416.3" y2="64.83333333333334" stroke="#000" stroke-width="0.7" />
<text x="412.4" y="66.58333333333334" font-size="4.9" font-weight="bold" text-anchor="end" fill="#222" >4</text>
<line x1="414.6" y1="59.74166666666667" x2="416.3" y2="59.74166666666667" stroke="#000" stroke-width="0.7" />
<text x="412.4" y="61.49166666666667" font-size="4.9" font-weight="bold" text-anchor="end" fill="#222" >5</text>
<line x1="414.6" y1="54.650000000000006" x2="416.3" y2="54.650000000000006" stroke="#000" stroke-width="0.7" />
<text x="412.4" y="56.400000000000006" font-size="4.9" font-weight="bold" text-anchor="end" fill="#222" >6</text>
<line x1="414.6" y1="49.55833333333334" x2="416.3" y2="49.55833333333334" stroke="#000" stroke-width="0.7" />
<text x="412.4" y="51.30833333333334" font-size="4.9" font-weight="bold" text-anchor="end" fill="#222" >7</text>
<line x1="414.6" y1="44.46666666666667" x2="416.3" y2="44.46666666666667" stroke="#000" stroke-width="0.7" />
<text x="412.4" y="46.21666666666667" font-size="4.9" font-weight="bold" text-anchor="end" fill="#222" >8</text>
<line x1="414.6" y1="39.375" x2="416.3" y2="39.375" stroke="#000" stroke-width="0.7" />
<text x="412.4" y="41.125" font-size="4.9" font-weight="bold" text-anchor="end" fill="#222" >9</text>
<line x1="414.6" y1="34.28333333333333" x2="416.3" y2="34.28333333333333" stroke="#000" stroke-width="0.7" />
<text x="412.4" y="36.03333333333333" font-size="4.9" font-weight="bold" text-anchor="end" fill="#222" >10</text>
<line x1="414.6" y1="29.19166666666667" x2="416.3" y2="29.19166666666667" stroke="#000" stroke-width="0.7" />
<text x="412.4" y="30.94166666666667" font-size="4.9" font-weight="bold" text-anchor="end" fill="#222" >11</text>
<line x1="414.6" y1="24.1" x2="416.3" y2="24.1" stroke="#000" stroke-width="0.7" />
<text x="412.4" y="25.85" font-size="4.9" font-weight="bold" text-anchor="end" fill="#222" >12</text>
<line x1="415.8" y1="85.2" x2="508" y2="85.2" stroke="#000" stroke-width="1.1" />
<line x1="429.5" y1="85.2" x2="429.5" y2="86.60000000000001" stroke="#000" stroke-width="0.7" />
<line x1="451.3" y1="85.2" x2="451.3" y2="86.60000000000001" stroke="#000" stroke-width="0.7" />
<line x1="474.1" y1="85.2" x2="474.1" y2="86.60000000000001" stroke="#000" stroke-width="0.7" />
<line x1="497.5" y1="85.2" x2="497.5" y2="86.60000000000001" stroke="#000" stroke-width="0.7" />
<rect x="443.4" y="82.6" width="15.800000000000011" height="2.6000000000000085" fill="#fff" stroke="#000" stroke-width="1.0" />
<rect x="466.1" y="59.2" width="15.899999999999977" height="26.0" fill="#888" stroke="#000" stroke-width="1.0" />
<rect x="489.4" y="27.9" width="16.30000000000001" height="57.300000000000004" fill="#000" stroke="#000" stroke-width="1.0" />
<text x="0" y="0" font-size="5.9" font-weight="bold" text-anchor="middle" fill="#000" transform="translate(395.6,54.2) rotate(-90)">colonies</text>
<text x="0" y="0" font-size="5.6" font-weight="bold" text-anchor="middle" fill="#000" transform="translate(401.4,53) rotate(-90)">[10<tspan font-size="3.8" dy="-1.9">4</tspan><tspan dy="1.9">]</tspan></text>
<text x="386.3" y="97.6" font-size="5.9" font-weight="bold" text-anchor="start" fill="#000" >GM-CSF</text>
<text x="386.3" y="105.3" font-size="6.1" font-weight="normal" text-anchor="start" fill="#222" >[ng/mL]</text>
<text x="429.5" y="97.7" font-size="5.9" font-weight="bold" text-anchor="middle" fill="#000" >0</text>
<text x="451.6" y="97.7" font-size="5.9" font-weight="bold" text-anchor="middle" fill="#000" >0.1</text>
<text x="475.1" y="97.7" font-size="5.9" font-weight="bold" text-anchor="middle" fill="#000" >0.25</text>
<text x="498.3" y="97.7" font-size="5.9" font-weight="bold" text-anchor="middle" fill="#000" >0.5</text>
<text x="466.7" y="120.4" font-size="6.4" font-weight="bold" text-anchor="middle" fill="#000" >+ NI [4μM]</text>
<line x1="417.1" y1="125.8" x2="417.1" y2="191.7" stroke="#000" stroke-width="1.1" />
<line x1="415.3" y1="191.2" x2="417.1" y2="191.2" stroke="#000" stroke-width="0.7" />
<text x="411.8" y="192.95" font-size="4.9" font-weight="bold" text-anchor="end" fill="#222" >0.0</text>
<line x1="415.3" y1="169.56666666666666" x2="417.1" y2="169.56666666666666" stroke="#000" stroke-width="0.7" />
<text x="411.8" y="171.31666666666666" font-size="4.9" font-weight="bold" text-anchor="end" fill="#222" >0.5</text>
<line x1="415.3" y1="147.93333333333334" x2="417.1" y2="147.93333333333334" stroke="#000" stroke-width="0.7" />
<text x="411.8" y="149.68333333333334" font-size="4.9" font-weight="bold" text-anchor="end" fill="#222" >1.0</text>
<line x1="415.3" y1="126.3" x2="417.1" y2="126.3" stroke="#000" stroke-width="0.7" />
<text x="411.8" y="128.05" font-size="4.9" font-weight="bold" text-anchor="end" fill="#222" >1.5</text>
<line x1="416.6" y1="191.2" x2="517.7" y2="191.2" stroke="#000" stroke-width="1.1" />
<line x1="430.2" y1="191.2" x2="430.2" y2="192.6" stroke="#000" stroke-width="0.7" />
<line x1="455.2" y1="191.2" x2="455.2" y2="192.6" stroke="#000" stroke-width="0.7" />
<line x1="480.9" y1="191.2" x2="480.9" y2="192.6" stroke="#000" stroke-width="0.7" />
<line x1="506.2" y1="191.2" x2="506.2" y2="192.6" stroke="#000" stroke-width="0.7" />
<rect x="446.6" y="189.7" width="17.6" height="1.5" fill="#fff" stroke="#000" stroke-width="0.9" />
<rect x="472" y="181.1" width="17.5" height="10.1" fill="#888" stroke="#000" stroke-width="1.0" />
<rect x="497.3" y="130.4" width="17.7" height="60.8" fill="#000" stroke="#000" stroke-width="1.0" />
<line x1="420.5" y1="190.7" x2="440" y2="190.7" stroke="#000" stroke-width="0.8" />
<text x="0" y="0" font-size="6.4" font-weight="bold" text-anchor="middle" fill="#000" transform="translate(394.6,162) rotate(-90)">colonies</text>
<text x="0" y="0" font-size="5.6" font-weight="bold" text-anchor="middle" fill="#000" transform="translate(401.4,160.4) rotate(-90)">[10<tspan font-size="3.8" dy="-1.9">4</tspan><tspan dy="1.9">]</tspan></text>
<text x="384.7" y="202.6" font-size="6.5" font-weight="bold" text-anchor="start" fill="#000" >GM-CSF</text>
<text x="384.7" y="210.0" font-size="6.1" font-weight="normal" text-anchor="start" fill="#222" >[ng/mL]</text>
<text x="430.1" y="203" font-size="6.4" font-weight="bold" text-anchor="middle" fill="#000" >0</text>
<text x="456.2" y="203" font-size="6.4" font-weight="bold" text-anchor="middle" fill="#000" >0.1</text>
<text x="482.5" y="203" font-size="6.4" font-weight="bold" text-anchor="middle" fill="#000" >0.25</text>
<text x="509" y="203" font-size="6.4" font-weight="bold" text-anchor="middle" fill="#000" >0.5</text>
</svg>
</body></html>
